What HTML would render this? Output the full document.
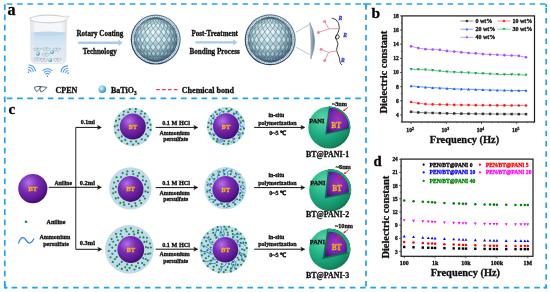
<!DOCTYPE html>
<html><head><meta charset="utf-8"><style>
html,body{margin:0;padding:0;background:#fff;width:550px;height:293px;overflow:hidden}
svg{display:block;will-change:transform}
text{font-family:"Liberation Serif",serif;font-weight:bold}
</style></head><body>
<svg width="550" height="293" viewBox="0 0 550 293">
<defs>
<linearGradient id="gglass" x1="0" y1="0" x2="1" y2="0"><stop offset="0" stop-color="#e2e5e8"/><stop offset="0.12" stop-color="#f4f5f6"/><stop offset="0.85" stop-color="#f6f7f8"/><stop offset="1" stop-color="#e0e3e6"/></linearGradient>
<linearGradient id="gliq" x1="0" y1="0" x2="0" y2="1"><stop offset="0" stop-color="#c8def0"/><stop offset="0.45" stop-color="#d8e7f3"/><stop offset="1" stop-color="#e4ecf3"/></linearGradient>
<linearGradient id="glens" x1="0" y1="0" x2="1" y2="0"><stop offset="0" stop-color="#c9d3dd"/><stop offset="0.5" stop-color="#8ea3b7"/><stop offset="1" stop-color="#5d7893"/></linearGradient>
<linearGradient id="grim" x1="0.8" y1="0.1" x2="0.2" y2="0.9"><stop offset="0" stop-color="#6683a0"/><stop offset="1" stop-color="#1f3d62"/></linearGradient>
<radialGradient id="gball" cx="0.38" cy="0.35" r="0.7"><stop offset="0" stop-color="#e6f7fb"/><stop offset="0.45" stop-color="#7fcbe0"/><stop offset="1" stop-color="#2b88a8"/></radialGradient>
<radialGradient id="gmesh" cx="0.45" cy="0.33" r="0.75"><stop offset="0" stop-color="#dcf0f4"/><stop offset="0.45" stop-color="#a0c4ce"/><stop offset="1" stop-color="#5f8294"/></radialGradient>
<radialGradient id="gshade" cx="0.44" cy="0.4" r="0.62"><stop offset="0.55" stop-color="#2c4a66" stop-opacity="0"/><stop offset="0.85" stop-color="#2c4a66" stop-opacity="0.3"/><stop offset="1" stop-color="#2c4a66" stop-opacity="0.6"/></radialGradient>
<pattern id="pmesh" width="6" height="6" patternUnits="userSpaceOnUse" patternTransform="rotate(0)"><path d="M3 0 L6 3 L3 6 L0 3 Z" fill="none" stroke="#4f7488" stroke-width="0.6"/><path d="M3 1.5 L4.5 3 L3 4.5 L1.5 3Z" fill="#7fa3b5" opacity="0.5"/></pattern>
<radialGradient id="gpurple" cx="0.36" cy="0.3" r="0.75"><stop offset="0" stop-color="#b372e6"/><stop offset="0.4" stop-color="#7a2db6"/><stop offset="0.8" stop-color="#5a168f"/><stop offset="1" stop-color="#3c0a64"/></radialGradient>
<radialGradient id="gpurple2" cx="0.5" cy="0.45" r="0.65"><stop offset="0" stop-color="#9238cc"/><stop offset="0.6" stop-color="#7523b0"/><stop offset="1" stop-color="#4a0c7a"/></radialGradient>
<radialGradient id="ggreen" cx="0.36" cy="0.3" r="0.78"><stop offset="0" stop-color="#5fd9ae"/><stop offset="0.45" stop-color="#22b386"/><stop offset="0.85" stop-color="#138a63"/><stop offset="1" stop-color="#0a6448"/></radialGradient>
</defs>
<rect width="550" height="293" fill="#fff"/>
<path d="M4.8 4.0 H546.2" stroke="#1ca6ea" stroke-width="1.7" fill="none" stroke-dasharray="5.6 4.65" stroke-dashoffset="8.25"/>
<path d="M4.8 3.8 V287.6" stroke="#1ca6ea" stroke-width="1.7" fill="none" stroke-dasharray="5.6 4.65" stroke-dashoffset="9.75"/>
<path d="M366 3.8 V287.6" stroke="#1ca6ea" stroke-width="1.7" fill="none" stroke-dasharray="5.6 4.65" stroke-dashoffset="9.85"/>
<path d="M546.2 3.8 V287.6" stroke="#1ca6ea" stroke-width="1.7" fill="none" stroke-dasharray="5.6 4.65" stroke-dashoffset="6.35"/>
<path d="M4.8 98.4 H366" stroke="#1ca6ea" stroke-width="1.7" fill="none" stroke-dasharray="5.6 4.65" stroke-dashoffset="8.25"/>
<path d="M4.8 287.6 H546.2" stroke="#1ca6ea" stroke-width="1.7" fill="none" stroke-dasharray="5.6 4.65" stroke-dashoffset="3.45"/>
<path d="M4.8 284 V287.6 H7.5 M546.2 284.5 V287.6 H543.5 M363 4 H366 V7 M546.2 4 V7" stroke="#1ca6ea" stroke-width="1.7" fill="none"/>
<text x="7.40" y="15.30" font-size="16" text-anchor="start" fill="#000" stroke="#000" stroke-width="0.3" >a</text>
<text x="371.40" y="18.40" font-size="15.5" text-anchor="start" fill="#000" stroke="#000" stroke-width="0.3" >b</text>
<text x="8.40" y="113.70" font-size="15" text-anchor="start" fill="#000" stroke="#000" stroke-width="0.3" >c</text>
<text x="373.40" y="166.20" font-size="14.6" text-anchor="start" fill="#000" stroke="#000" stroke-width="0.3" >d</text>
<g>
<path d="M30.6 17.5 L31.0 59 Q31.3 63.6 35.8 63.6 L61.2 63.6 Q65.7 63.6 65.9 59 L66.4 17.5 Z" fill="url(#gglass)" stroke="#d3d7db" stroke-width="0.6"/>
<path d="M31.3 32.5 L31.6 59 Q31.9 62.6 35.8 62.6 L61.2 62.6 Q65.1 62.6 65.3 59 L65.7 32.5 Z" fill="url(#gliq)"/>
<ellipse cx="48.5" cy="33.6" rx="17.0" ry="2.2" fill="#bcd7ee"/>
<ellipse cx="48.6" cy="19.0" rx="18.4" ry="3.9" fill="#fbfbfc" stroke="#cdd2d6" stroke-width="1.2"/>
<path d="M64.5 16.2 Q67.5 15.8 69.2 16.4 Q67.8 18.4 66.2 20.2" fill="#f3f4f5" stroke="#cfd3d7" stroke-width="0.7"/>
<path d="M33 22 L33.3 58" stroke="#e6e9ec" stroke-width="1.2"/>
</g>
<g transform="translate(37.5,49.8) scale(0.62)" fill="none" stroke="#a6aeb6" stroke-width="0.9" stroke-linejoin="round"><path d="M-6.0 -1.9 Q-2.6 -3.2 0.8 -2.7 Q-0.6 0.2 -3.8 2.5 Q-5.6 0.2 -6.0 -1.9Z"/><path d="M-0.4 -2.4 Q3.2 -2.6 6.4 -1.8 Q4.2 1.2 0.6 2.9 Q-1.0 1.0 -0.4 -2.4Z"/></g>
<g transform="translate(46.5,49.5) scale(0.62)" fill="none" stroke="#a6aeb6" stroke-width="0.9" stroke-linejoin="round"><path d="M-6.0 -1.9 Q-2.6 -3.2 0.8 -2.7 Q-0.6 0.2 -3.8 2.5 Q-5.6 0.2 -6.0 -1.9Z"/><path d="M-0.4 -2.4 Q3.2 -2.6 6.4 -1.8 Q4.2 1.2 0.6 2.9 Q-1.0 1.0 -0.4 -2.4Z"/></g>
<g transform="translate(57,49.8) scale(0.62)" fill="none" stroke="#a6aeb6" stroke-width="0.9" stroke-linejoin="round"><path d="M-6.0 -1.9 Q-2.6 -3.2 0.8 -2.7 Q-0.6 0.2 -3.8 2.5 Q-5.6 0.2 -6.0 -1.9Z"/><path d="M-0.4 -2.4 Q3.2 -2.6 6.4 -1.8 Q4.2 1.2 0.6 2.9 Q-1.0 1.0 -0.4 -2.4Z"/></g>
<g transform="translate(46,55) scale(0.62)" fill="none" stroke="#a6aeb6" stroke-width="0.9" stroke-linejoin="round"><path d="M-6.0 -1.9 Q-2.6 -3.2 0.8 -2.7 Q-0.6 0.2 -3.8 2.5 Q-5.6 0.2 -6.0 -1.9Z"/><path d="M-0.4 -2.4 Q3.2 -2.6 6.4 -1.8 Q4.2 1.2 0.6 2.9 Q-1.0 1.0 -0.4 -2.4Z"/></g>
<g transform="translate(37.5,59.5) scale(0.62)" fill="none" stroke="#a6aeb6" stroke-width="0.9" stroke-linejoin="round"><path d="M-6.0 -1.9 Q-2.6 -3.2 0.8 -2.7 Q-0.6 0.2 -3.8 2.5 Q-5.6 0.2 -6.0 -1.9Z"/><path d="M-0.4 -2.4 Q3.2 -2.6 6.4 -1.8 Q4.2 1.2 0.6 2.9 Q-1.0 1.0 -0.4 -2.4Z"/></g>
<g transform="translate(57.5,60) scale(0.62)" fill="none" stroke="#a6aeb6" stroke-width="0.9" stroke-linejoin="round"><path d="M-6.0 -1.9 Q-2.6 -3.2 0.8 -2.7 Q-0.6 0.2 -3.8 2.5 Q-5.6 0.2 -6.0 -1.9Z"/><path d="M-0.4 -2.4 Q3.2 -2.6 6.4 -1.8 Q4.2 1.2 0.6 2.9 Q-1.0 1.0 -0.4 -2.4Z"/></g>
<g transform="translate(44,60.3) scale(0.62)" fill="none" stroke="#a6aeb6" stroke-width="0.9" stroke-linejoin="round"><path d="M-6.0 -1.9 Q-2.6 -3.2 0.8 -2.7 Q-0.6 0.2 -3.8 2.5 Q-5.6 0.2 -6.0 -1.9Z"/><path d="M-0.4 -2.4 Q3.2 -2.6 6.4 -1.8 Q4.2 1.2 0.6 2.9 Q-1.0 1.0 -0.4 -2.4Z"/></g>
<circle cx="37.9" cy="53.8" r="1.95" fill="url(#gball)"/>
<circle cx="52.0" cy="51.9" r="1.95" fill="url(#gball)"/>
<circle cx="50.2" cy="60.1" r="1.95" fill="url(#gball)"/>
<g transform="translate(28.4,72.2) rotate(42)" fill="none" stroke="#5a9de4" stroke-width="1.1" stroke-linecap="round"><path d="M-1.60 -2.05 A2.6 2.6 0 0 1 1.60 -2.05"/><path d="M-3.02 -3.86 A4.9 4.9 0 0 1 3.02 -3.86"/><path d="M-4.43 -5.67 A7.2 7.2 0 0 1 4.43 -5.67"/><circle cx="0" cy="0" r="0.8" fill="#4a92e0" stroke="none"/></g>
<g transform="translate(47.4,76.1) rotate(0)" fill="none" stroke="#5a9de4" stroke-width="1.1" stroke-linecap="round"><path d="M-1.60 -2.05 A2.6 2.6 0 0 1 1.60 -2.05"/><path d="M-3.02 -3.86 A4.9 4.9 0 0 1 3.02 -3.86"/><path d="M-4.43 -5.67 A7.2 7.2 0 0 1 4.43 -5.67"/><circle cx="0" cy="0" r="0.8" fill="#4a92e0" stroke="none"/></g>
<g transform="translate(68.1,73.1) rotate(-42)" fill="none" stroke="#5a9de4" stroke-width="1.1" stroke-linecap="round"><path d="M-1.60 -2.05 A2.6 2.6 0 0 1 1.60 -2.05"/><path d="M-3.02 -3.86 A4.9 4.9 0 0 1 3.02 -3.86"/><path d="M-4.43 -5.67 A7.2 7.2 0 0 1 4.43 -5.67"/><circle cx="0" cy="0" r="0.8" fill="#4a92e0" stroke="none"/></g>
<path d="M78.2 42.7 H118.9" stroke="#a8cbeb" stroke-width="2.4"/>
<path d="M118.4 39.5 L122.7 42.7 L118.4 45.900000000000006 Z" fill="#a8cbeb"/>
<path d="M195.4 42.4 H233.6" stroke="#a8cbeb" stroke-width="2.4"/>
<path d="M233.1 39.199999999999996 L237.4 42.4 L233.1 45.6 Z" fill="#a8cbeb"/>
<text x="76.40" y="35.80" font-size="7.2" textLength="46.90" lengthAdjust="spacingAndGlyphs" fill="#111" stroke="#111" stroke-width="0.3" >Rotary Coating</text>
<text x="82.80" y="53.50" font-size="7.2" textLength="33.90" lengthAdjust="spacingAndGlyphs" fill="#111" stroke="#111" stroke-width="0.3" >Technology</text>
<text x="191.40" y="36.20" font-size="7.2" textLength="46.50" lengthAdjust="spacingAndGlyphs" fill="#111" stroke="#111" stroke-width="0.3" >Post-Treatment</text>
<text x="189.50" y="53.80" font-size="7.3" textLength="50.20" lengthAdjust="spacingAndGlyphs" fill="#111" stroke="#111" stroke-width="0.3" >Bonding Process</text>
<circle cx="155.7" cy="39.6" r="25.0" fill="url(#grim)"/>
<circle cx="155.7" cy="39.6" r="23.8" fill="#e2e9ee"/>
<circle cx="155.7" cy="39.6" r="22.7" fill="none" stroke="#8a9fb0" stroke-width="1.2" stroke-dasharray="0.9 0.9"/>
<circle cx="155.7" cy="39.6" r="21.6" fill="url(#gmesh)"/>
<path d="M152.9 61.0 L151.0 60.7 L149.1 60.2 L151.0 60.7 L153.0 61.0 L154.8 61.2 L155.7 61.2 L154.8 61.2ZM145.5 58.7 L143.9 57.7 L142.3 56.5 L144.0 57.7 L145.8 58.7 L147.4 59.5 L149.1 60.2 L147.3 59.5ZM153.0 61.0 L151.2 60.7 L149.5 60.2 L151.4 60.7 L153.2 61.0 L154.9 61.2 L155.7 61.2 L154.9 61.2ZM139.5 53.8 L138.2 52.3 L137.2 50.7 L138.5 52.3 L139.9 53.8 L141.0 55.2 L142.3 56.5 L140.8 55.2ZM145.8 58.7 L144.3 57.7 L143.1 56.5 L144.9 57.7 L146.7 58.7 L148.0 59.5 L149.5 60.2 L147.6 59.5ZM153.2 61.0 L151.7 60.7 L150.3 60.2 L152.1 60.7 L153.7 61.0 L155.0 61.2 L155.7 61.2 L155.0 61.2ZM135.5 47.2 L134.9 45.4 L134.5 43.5 L135.1 45.4 L136.0 47.2 L136.5 49.0 L137.2 50.7 L136.3 49.0ZM139.9 53.8 L139.0 52.3 L138.3 50.7 L139.8 52.3 L141.4 53.8 L142.1 55.2 L143.1 56.5 L141.4 55.2ZM146.7 58.7 L145.6 57.7 L144.8 56.5 L146.6 57.7 L148.3 58.7 L149.2 59.5 L150.3 60.2 L148.6 59.5ZM153.7 61.0 L152.5 60.7 L151.6 60.2 L153.0 60.7 L154.3 61.0 L155.2 61.2 L155.7 61.2 L155.1 61.2ZM134.1 39.6 L134.2 37.7 L134.5 35.7 L134.4 37.7 L134.6 39.6 L134.4 41.5 L134.5 43.5 L134.2 41.5ZM136.0 47.2 L135.7 45.4 L135.8 43.5 L136.7 45.4 L137.9 47.2 L138.0 49.0 L138.3 50.7 L137.1 49.0ZM141.4 53.8 L140.9 52.3 L140.7 50.7 L142.3 52.3 L143.9 53.8 L144.2 55.2 L144.8 56.5 L143.1 55.2ZM148.3 58.7 L147.7 57.7 L147.3 56.5 L148.9 57.7 L150.5 58.7 L150.9 59.5 L151.6 60.2 L150.0 59.5ZM154.3 61.0 L153.5 60.7 L153.1 60.2 L154.1 60.7 L154.9 61.0 L155.4 61.2 L155.7 61.2 L155.3 61.2ZM135.5 32.0 L136.3 30.2 L137.2 28.5 L136.5 30.2 L136.0 32.0 L135.1 33.8 L134.5 35.7 L134.9 33.8ZM134.6 39.6 L135.1 37.7 L135.8 35.7 L136.1 37.7 L136.6 39.6 L136.1 41.5 L135.8 43.5 L135.1 41.5ZM137.9 47.2 L138.0 45.4 L138.5 43.5 L139.7 45.4 L141.1 47.2 L140.7 49.0 L140.7 50.7 L139.2 49.0ZM143.9 53.8 L143.9 52.3 L144.1 50.7 L145.7 52.3 L147.4 53.8 L147.2 55.2 L147.3 56.5 L145.6 55.2ZM150.5 58.7 L150.3 57.7 L150.4 56.5 L151.8 57.7 L153.0 58.7 L152.9 59.5 L153.1 60.2 L151.9 59.5ZM154.9 61.0 L154.7 60.7 L154.8 60.2 L155.4 60.7 L155.7 61.0 L155.6 61.2 L155.7 61.2 L155.5 61.2ZM139.5 25.4 L140.8 24.0 L142.3 22.7 L141.0 24.0 L139.9 25.4 L138.5 26.9 L137.2 28.5 L138.2 26.9ZM136.0 32.0 L137.1 30.2 L138.3 28.5 L138.0 30.2 L137.9 32.0 L136.7 33.8 L135.8 35.7 L135.7 33.8ZM136.6 39.6 L137.5 37.7 L138.5 35.7 L139.2 37.7 L140.1 39.6 L139.2 41.5 L138.5 43.5 L137.5 41.5ZM141.1 47.2 L141.6 45.4 L142.4 43.5 L143.8 45.4 L145.3 47.2 L144.6 49.0 L144.1 50.7 L142.5 49.0ZM147.4 53.8 L147.8 52.3 L148.4 50.7 L149.9 52.3 L151.4 53.8 L150.8 55.2 L150.4 56.5 L148.9 55.2ZM153.0 58.7 L153.3 57.7 L153.9 56.5 L154.9 57.7 L155.7 58.7 L155.1 59.5 L154.8 60.2 L154.0 59.5ZM155.7 61.0 L156.0 60.7 L156.6 60.2 L156.7 60.7 L156.5 61.0 L155.9 61.2 L155.7 61.2 L155.8 61.2ZM145.5 20.5 L147.3 19.7 L149.1 19.0 L147.4 19.7 L145.8 20.5 L144.0 21.5 L142.3 22.7 L143.9 21.5ZM139.9 25.4 L141.4 24.0 L143.1 22.7 L142.1 24.0 L141.4 25.4 L139.8 26.9 L138.3 28.5 L139.0 26.9ZM137.9 32.0 L139.2 30.2 L140.7 28.5 L140.7 30.2 L141.1 32.0 L139.7 33.8 L138.5 35.7 L138.0 33.8ZM140.1 39.6 L141.2 37.7 L142.4 35.7 L143.4 37.7 L144.6 39.6 L143.4 41.5 L142.4 43.5 L141.2 41.5ZM145.3 47.2 L146.2 45.4 L147.3 43.5 L148.8 45.4 L150.3 47.2 L149.3 49.0 L148.4 50.7 L146.8 49.0ZM151.4 53.8 L152.2 52.3 L153.2 50.7 L154.5 52.3 L155.7 53.8 L154.7 55.2 L153.9 56.5 L152.7 55.2ZM155.7 58.7 L156.5 57.7 L157.5 56.5 L158.1 57.7 L158.4 58.7 L157.4 59.5 L156.6 60.2 L156.3 59.5ZM156.5 61.0 L157.3 60.7 L158.3 60.2 L157.9 60.7 L157.1 61.0 L156.1 61.2 L155.7 61.2 L156.0 61.2ZM152.9 18.2 L154.8 18.0 L155.7 18.0 L154.8 18.0 L153.0 18.2 L151.0 18.5 L149.1 19.0 L151.0 18.5ZM145.8 20.5 L147.6 19.7 L149.5 19.0 L148.0 19.7 L146.7 20.5 L144.9 21.5 L143.1 22.7 L144.3 21.5ZM141.4 25.4 L143.1 24.0 L144.8 22.7 L144.2 24.0 L143.9 25.4 L142.3 26.9 L140.7 28.5 L140.9 26.9ZM141.1 32.0 L142.5 30.2 L144.1 28.5 L144.6 30.2 L145.3 32.0 L143.8 33.8 L142.4 35.7 L141.6 33.8ZM144.6 39.6 L145.9 37.7 L147.3 35.7 L148.6 37.7 L149.9 39.6 L148.6 41.5 L147.3 43.5 L145.9 41.5ZM150.3 47.2 L151.5 45.4 L152.8 43.5 L154.3 45.4 L155.7 47.2 L154.4 49.0 L153.2 50.7 L151.8 49.0ZM155.7 53.8 L156.9 52.3 L158.2 50.7 L159.2 52.3 L160.0 53.8 L158.7 55.2 L157.5 56.5 L156.7 55.2ZM158.4 58.7 L159.6 57.7 L161.0 56.5 L161.1 57.7 L160.9 58.7 L159.5 59.5 L158.3 60.2 L158.5 59.5ZM157.1 61.0 L158.4 60.7 L159.8 60.2 L158.9 60.7 L157.7 61.0 L156.3 61.2 L155.7 61.2 L156.2 61.2ZM153.0 18.2 L154.9 18.0 L155.7 18.0 L154.9 18.0 L153.2 18.2 L151.4 18.5 L149.5 19.0 L151.2 18.5ZM146.7 20.5 L148.6 19.7 L150.3 19.0 L149.2 19.7 L148.3 20.5 L146.6 21.5 L144.8 22.7 L145.6 21.5ZM143.9 25.4 L145.6 24.0 L147.3 22.7 L147.2 24.0 L147.4 25.4 L145.7 26.9 L144.1 28.5 L143.9 26.9ZM145.3 32.0 L146.8 30.2 L148.4 28.5 L149.3 30.2 L150.3 32.0 L148.8 33.8 L147.3 35.7 L146.2 33.8ZM149.9 39.6 L151.4 37.7 L152.8 35.7 L154.2 37.7 L155.7 39.6 L154.2 41.5 L152.8 43.5 L151.4 41.5ZM155.7 47.2 L157.1 45.4 L158.6 43.5 L159.9 45.4 L161.1 47.2 L159.6 49.0 L158.2 50.7 L157.0 49.0ZM160.0 53.8 L161.5 52.3 L163.0 50.7 L163.6 52.3 L164.0 53.8 L162.5 55.2 L161.0 56.5 L160.6 55.2ZM160.9 58.7 L162.5 57.7 L164.1 56.5 L163.7 57.7 L163.1 58.7 L161.4 59.5 L159.8 60.2 L160.5 59.5ZM157.7 61.0 L159.3 60.7 L161.1 60.2 L159.7 60.7 L158.2 61.0 L156.4 61.2 L155.7 61.2 L156.4 61.2ZM153.2 18.2 L155.0 18.0 L155.7 18.0 L155.0 18.0 L153.7 18.2 L152.1 18.5 L150.3 19.0 L151.7 18.5ZM148.3 20.5 L150.0 19.7 L151.6 19.0 L150.9 19.7 L150.5 20.5 L148.9 21.5 L147.3 22.7 L147.7 21.5ZM147.4 25.4 L148.9 24.0 L150.4 22.7 L150.8 24.0 L151.4 25.4 L149.9 26.9 L148.4 28.5 L147.8 26.9ZM150.3 32.0 L151.8 30.2 L153.2 28.5 L154.4 30.2 L155.7 32.0 L154.3 33.8 L152.8 35.7 L151.5 33.8ZM155.7 39.6 L157.2 37.7 L158.6 35.7 L160.0 37.7 L161.5 39.6 L160.0 41.5 L158.6 43.5 L157.2 41.5ZM161.1 47.2 L162.6 45.4 L164.1 43.5 L165.2 45.4 L166.1 47.2 L164.6 49.0 L163.0 50.7 L162.1 49.0ZM164.0 53.8 L165.7 52.3 L167.3 50.7 L167.5 52.3 L167.5 53.8 L165.8 55.2 L164.1 56.5 L164.2 55.2ZM163.1 58.7 L164.8 57.7 L166.6 56.5 L165.8 57.7 L164.7 58.7 L162.8 59.5 L161.1 60.2 L162.2 59.5ZM158.2 61.0 L160.0 60.7 L161.9 60.2 L160.2 60.7 L158.4 61.0 L156.5 61.2 L155.7 61.2 L156.5 61.2ZM153.7 18.2 L155.1 18.0 L155.7 18.0 L155.2 18.0 L154.3 18.2 L153.0 18.5 L151.6 19.0 L152.5 18.5ZM150.5 20.5 L151.9 19.7 L153.1 19.0 L152.9 19.7 L153.0 20.5 L151.8 21.5 L150.4 22.7 L150.3 21.5ZM151.4 25.4 L152.7 24.0 L153.9 22.7 L154.7 24.0 L155.7 25.4 L154.5 26.9 L153.2 28.5 L152.2 26.9ZM155.7 32.0 L157.0 30.2 L158.2 28.5 L159.6 30.2 L161.1 32.0 L159.9 33.8 L158.6 35.7 L157.1 33.8ZM161.5 39.6 L162.8 37.7 L164.1 35.7 L165.5 37.7 L166.8 39.6 L165.5 41.5 L164.1 43.5 L162.8 41.5ZM166.1 47.2 L167.6 45.4 L169.0 43.5 L169.8 45.4 L170.3 47.2 L168.9 49.0 L167.3 50.7 L166.8 49.0ZM167.5 53.8 L169.1 52.3 L170.7 50.7 L170.5 52.3 L170.0 53.8 L168.3 55.2 L166.6 56.5 L167.2 55.2ZM164.7 58.7 L166.5 57.7 L168.3 56.5 L167.1 57.7 L165.6 58.7 L163.8 59.5 L161.9 60.2 L163.4 59.5ZM158.4 61.0 L160.4 60.7 L162.3 60.2 L160.4 60.7 L158.5 61.0 L156.6 61.2 L155.7 61.2 L156.6 61.2ZM154.3 18.2 L155.3 18.0 L155.7 18.0 L155.4 18.0 L154.9 18.2 L154.1 18.5 L153.1 19.0 L153.5 18.5ZM153.0 20.5 L154.0 19.7 L154.8 19.0 L155.1 19.7 L155.7 20.5 L154.9 21.5 L153.9 22.7 L153.3 21.5ZM155.7 25.4 L156.7 24.0 L157.5 22.7 L158.7 24.0 L160.0 25.4 L159.2 26.9 L158.2 28.5 L156.9 26.9ZM161.1 32.0 L162.1 30.2 L163.0 28.5 L164.6 30.2 L166.1 32.0 L165.2 33.8 L164.1 35.7 L162.6 33.8ZM166.8 39.6 L168.0 37.7 L169.0 35.7 L170.2 37.7 L171.3 39.6 L170.2 41.5 L169.0 43.5 L168.0 41.5ZM170.3 47.2 L171.7 45.4 L172.9 43.5 L173.4 45.4 L173.5 47.2 L172.2 49.0 L170.7 50.7 L170.7 49.0ZM170.0 53.8 L171.6 52.3 L173.1 50.7 L172.4 52.3 L171.5 53.8 L170.0 55.2 L168.3 56.5 L169.3 55.2ZM165.6 58.7 L167.4 57.7 L169.1 56.5 L167.5 57.7 L165.9 58.7 L164.1 59.5 L162.3 60.2 L164.0 59.5ZM154.9 18.2 L155.5 18.0 L155.7 18.0 L155.6 18.0 L155.7 18.2 L155.4 18.5 L154.8 19.0 L154.7 18.5ZM155.7 20.5 L156.3 19.7 L156.6 19.0 L157.4 19.7 L158.4 20.5 L158.1 21.5 L157.5 22.7 L156.5 21.5ZM160.0 25.4 L160.6 24.0 L161.0 22.7 L162.5 24.0 L164.0 25.4 L163.6 26.9 L163.0 28.5 L161.5 26.9ZM166.1 32.0 L166.8 30.2 L167.3 28.5 L168.9 30.2 L170.3 32.0 L169.8 33.8 L169.0 35.7 L167.6 33.8ZM171.3 39.6 L172.2 37.7 L172.9 35.7 L173.9 37.7 L174.8 39.6 L173.9 41.5 L172.9 43.5 L172.2 41.5ZM173.5 47.2 L174.7 45.4 L175.6 43.5 L175.7 45.4 L175.4 47.2 L174.3 49.0 L173.1 50.7 L173.4 49.0ZM171.5 53.8 L172.9 52.3 L174.2 50.7 L173.2 52.3 L171.9 53.8 L170.6 55.2 L169.1 56.5 L170.4 55.2ZM155.7 18.2 L155.8 18.0 L155.7 18.0 L155.9 18.0 L156.5 18.2 L156.7 18.5 L156.6 19.0 L156.0 18.5ZM158.4 20.5 L158.5 19.7 L158.3 19.0 L159.5 19.7 L160.9 20.5 L161.1 21.5 L161.0 22.7 L159.6 21.5ZM164.0 25.4 L164.2 24.0 L164.1 22.7 L165.8 24.0 L167.5 25.4 L167.5 26.9 L167.3 28.5 L165.7 26.9ZM170.3 32.0 L170.7 30.2 L170.7 28.5 L172.2 30.2 L173.5 32.0 L173.4 33.8 L172.9 35.7 L171.7 33.8ZM174.8 39.6 L175.3 37.7 L175.6 35.7 L176.3 37.7 L176.8 39.6 L176.3 41.5 L175.6 43.5 L175.3 41.5ZM175.4 47.2 L176.3 45.4 L176.9 43.5 L176.5 45.4 L175.9 47.2 L175.1 49.0 L174.2 50.7 L174.9 49.0ZM156.5 18.2 L156.0 18.0 L155.7 18.0 L156.1 18.0 L157.1 18.2 L157.9 18.5 L158.3 19.0 L157.3 18.5ZM160.9 20.5 L160.5 19.7 L159.8 19.0 L161.4 19.7 L163.1 20.5 L163.7 21.5 L164.1 22.7 L162.5 21.5ZM167.5 25.4 L167.2 24.0 L166.6 22.7 L168.3 24.0 L170.0 25.4 L170.5 26.9 L170.7 28.5 L169.1 26.9ZM173.5 32.0 L173.4 30.2 L173.1 28.5 L174.3 30.2 L175.4 32.0 L175.7 33.8 L175.6 35.7 L174.7 33.8ZM176.8 39.6 L177.0 37.7 L176.9 35.7 L177.2 37.7 L177.3 39.6 L177.2 41.5 L176.9 43.5 L177.0 41.5ZM157.1 18.2 L156.2 18.0 L155.7 18.0 L156.3 18.0 L157.7 18.2 L158.9 18.5 L159.8 19.0 L158.4 18.5ZM163.1 20.5 L162.2 19.7 L161.1 19.0 L162.8 19.7 L164.7 20.5 L165.8 21.5 L166.6 22.7 L164.8 21.5ZM170.0 25.4 L169.3 24.0 L168.3 22.7 L170.0 24.0 L171.5 25.4 L172.4 26.9 L173.1 28.5 L171.6 26.9ZM175.4 32.0 L174.9 30.2 L174.2 28.5 L175.1 30.2 L175.9 32.0 L176.5 33.8 L176.9 35.7 L176.3 33.8ZM157.7 18.2 L156.4 18.0 L155.7 18.0 L156.4 18.0 L158.2 18.2 L159.7 18.5 L161.1 19.0 L159.3 18.5ZM164.7 20.5 L163.4 19.7 L161.9 19.0 L163.8 19.7 L165.6 20.5 L167.1 21.5 L168.3 22.7 L166.5 21.5ZM171.5 25.4 L170.4 24.0 L169.1 22.7 L170.6 24.0 L171.9 25.4 L173.2 26.9 L174.2 28.5 L172.9 26.9ZM158.2 18.2 L156.5 18.0 L155.7 18.0 L156.5 18.0 L158.4 18.2 L160.2 18.5 L161.9 19.0 L160.0 18.5ZM165.6 20.5 L164.0 19.7 L162.3 19.0 L164.1 19.7 L165.9 20.5 L167.5 21.5 L169.1 22.7 L167.4 21.5ZM158.4 18.2 L156.6 18.0 L155.7 18.0 L156.6 18.0 L158.5 18.2 L160.4 18.5 L162.3 19.0 L160.4 18.5Z" fill="#ffffff" opacity="0.5"/>
<path d="M155.3 61.2 L154.2 61.1 L153.2 61.0 L152.1 60.9 L151.0 60.7 L150.0 60.4 L148.9 60.1 L147.9 59.7 L146.9 59.3 M155.3 61.2 L154.4 61.1 L153.4 61.0 L152.4 60.9 L151.4 60.7 L150.3 60.4 L149.3 60.1 L148.2 59.7 L147.2 59.3 L146.2 58.9 L145.2 58.3 L144.2 57.8 L143.2 57.2 L142.3 56.5 L141.5 55.8 L140.7 55.1 M155.4 61.2 L154.6 61.1 L153.8 61.0 L153.0 60.9 L152.1 60.7 L151.1 60.4 L150.1 60.1 L149.2 59.7 L148.1 59.3 L147.1 58.9 L146.1 58.3 L145.1 57.8 L144.1 57.2 L143.1 56.5 L142.2 55.8 L141.2 55.1 L140.4 54.3 L139.5 53.5 L138.7 52.7 L138.0 51.8 L137.4 50.9 L136.8 50.0 L136.3 49.0 M155.5 61.2 L155.0 61.1 L154.4 61.0 L153.7 60.9 L153.0 60.7 L152.2 60.4 L151.4 60.1 L150.5 59.7 L149.6 59.3 L148.7 58.9 L147.8 58.3 L146.8 57.8 L145.8 57.2 L144.8 56.5 L143.8 55.8 L142.9 55.1 L141.9 54.3 L141.0 53.5 L140.1 52.7 L139.3 51.8 L138.5 50.9 L137.7 50.0 L137.1 49.0 L136.4 48.0 L135.9 47.0 L135.4 46.0 L135.0 44.9 L134.6 43.9 L134.4 42.8 L134.2 41.8 M155.6 61.2 L155.4 61.1 L155.0 61.0 L154.6 60.9 L154.1 60.7 L153.6 60.4 L153.0 60.1 L152.3 59.7 L151.6 59.3 L150.8 58.9 L150.0 58.3 L149.1 57.8 L148.2 57.2 L147.3 56.5 L146.4 55.8 L145.4 55.1 L144.5 54.3 L143.6 53.5 L142.6 52.7 L141.7 51.8 L140.9 50.9 L140.0 50.0 L139.2 49.0 L138.4 48.0 L137.7 47.0 L137.1 46.0 L136.5 44.9 L136.0 43.9 L135.5 42.8 L135.1 41.8 L134.8 40.7 L134.6 39.6 L134.5 38.5 L134.4 37.4 L134.5 36.4 L134.6 35.3 L134.8 34.3 M155.7 61.2 L155.8 61.1 L155.7 61.0 L155.6 60.9 L155.4 60.7 L155.1 60.4 L154.7 60.1 L154.3 59.7 L153.8 59.3 L153.2 58.9 L152.6 58.3 L151.9 57.8 L151.2 57.2 L150.4 56.5 L149.6 55.8 L148.8 55.1 L147.9 54.3 L147.0 53.5 L146.1 52.7 L145.2 51.8 L144.3 50.9 L143.4 50.0 L142.5 49.0 L141.7 48.0 L140.9 47.0 L140.1 46.0 L139.4 44.9 L138.7 43.9 L138.1 42.8 L137.6 41.8 L137.1 40.7 L136.6 39.6 L136.3 38.5 L136.0 37.4 L135.9 36.4 L135.7 35.3 L135.7 34.3 L135.8 33.2 L135.9 32.2 L136.2 31.2 L136.5 30.2 L136.9 29.2 L137.3 28.3 L137.9 27.4 L138.5 26.5 M155.9 61.2 L156.2 61.1 L156.4 61.0 L156.6 60.9 L156.7 60.7 L156.6 60.4 L156.6 60.1 L156.4 59.7 L156.2 59.3 L155.8 58.9 L155.5 58.3 L155.0 57.8 L154.5 57.2 L153.9 56.5 L153.3 55.8 L152.6 55.1 L151.8 54.3 L151.1 53.5 L150.3 52.7 L149.4 51.8 L148.6 50.9 L147.7 50.0 L146.8 49.0 L146.0 48.0 L145.1 47.0 L144.3 46.0 L143.5 44.9 L142.7 43.9 L142.0 42.8 L141.3 41.8 L140.6 40.7 L140.1 39.6 L139.5 38.5 L139.1 37.4 L138.7 36.4 L138.4 35.3 L138.1 34.3 L138.0 33.2 L137.9 32.2 L137.9 31.2 L138.0 30.2 L138.1 29.2 L138.4 28.3 L138.7 27.4 L139.1 26.5 L139.6 25.7 L140.2 24.9 L140.8 24.1 L141.6 23.4 L142.3 22.7 L143.2 22.0 L144.0 21.4 M156.0 61.2 L156.5 61.1 L157.1 61.0 L157.5 60.9 L157.9 60.7 L158.1 60.4 L158.3 60.1 L158.5 59.7 L158.5 59.3 L158.5 58.9 L158.3 58.3 L158.1 57.8 L157.9 57.2 L157.5 56.5 L157.1 55.8 L156.6 55.1 L156.1 54.3 L155.5 53.5 L154.8 52.7 L154.1 51.8 L153.4 50.9 L152.6 50.0 L151.8 49.0 L151.0 48.0 L150.1 47.0 L149.3 46.0 L148.5 44.9 L147.7 43.9 L146.8 42.8 L146.1 41.8 L145.3 40.7 L144.6 39.6 L143.9 38.5 L143.3 37.4 L142.7 36.4 L142.2 35.3 L141.8 34.3 L141.4 33.2 L141.1 32.2 L140.9 31.2 L140.7 30.2 L140.7 29.2 L140.7 28.3 L140.8 27.4 L141.0 26.5 L141.2 25.7 L141.6 24.9 L142.0 24.1 L142.5 23.4 L143.1 22.7 L143.8 22.0 L144.5 21.4 L145.3 20.9 L146.1 20.3 L147.0 19.9 L147.9 19.5 L148.9 19.1 L149.9 18.8 L151.0 18.5 M156.0 61.2 L156.9 61.1 L157.6 61.0 L158.3 60.9 L158.9 60.7 L159.4 60.4 L159.9 60.1 L160.3 59.7 L160.6 59.3 L160.9 58.9 L161.0 58.3 L161.1 57.8 L161.1 57.2 L161.0 56.5 L160.8 55.8 L160.6 55.1 L160.3 54.3 L159.9 53.5 L159.4 52.7 L158.9 51.8 L158.3 50.9 L157.7 50.0 L157.0 49.0 L156.3 48.0 L155.5 47.0 L154.8 46.0 L154.0 44.9 L153.2 43.9 L152.4 42.8 L151.5 41.8 L150.7 40.7 L149.9 39.6 L149.2 38.5 L148.4 37.4 L147.7 36.4 L147.1 35.3 L146.5 34.3 L145.9 33.2 L145.4 32.2 L145.0 31.2 L144.6 30.2 L144.3 29.2 L144.1 28.3 L143.9 27.4 L143.9 26.5 L143.9 25.7 L144.0 24.9 L144.2 24.1 L144.5 23.4 L144.8 22.7 L145.2 22.0 L145.8 21.4 L146.3 20.9 L147.0 20.3 L147.7 19.9 L148.5 19.5 L149.3 19.1 L150.2 18.8 L151.2 18.5 L152.1 18.3 L153.2 18.2 L154.2 18.1 L155.3 18.0 M156.1 61.2 L157.1 61.1 L158.0 61.0 L158.9 60.9 L159.7 60.7 L160.5 60.4 L161.2 60.1 L161.8 59.7 L162.4 59.3 L162.9 58.9 L163.3 58.3 L163.7 57.8 L163.9 57.2 L164.1 56.5 L164.2 55.8 L164.2 55.1 L164.1 54.3 L164.0 53.5 L163.8 52.7 L163.5 51.8 L163.1 50.9 L162.6 50.0 L162.1 49.0 L161.6 48.0 L161.0 47.0 L160.3 46.0 L159.6 44.9 L158.9 43.9 L158.1 42.8 L157.3 41.8 L156.5 40.7 L155.7 39.6 L154.9 38.5 L154.1 37.4 L153.3 36.4 L152.5 35.3 L151.8 34.3 L151.1 33.2 L150.4 32.2 L149.8 31.2 L149.3 30.2 L148.8 29.2 L148.3 28.3 L147.9 27.4 L147.6 26.5 L147.4 25.7 L147.3 24.9 L147.2 24.1 L147.2 23.4 L147.3 22.7 L147.5 22.0 L147.7 21.4 L148.1 20.9 L148.5 20.3 L149.0 19.9 L149.6 19.5 L150.2 19.1 L150.9 18.8 L151.7 18.5 L152.5 18.3 L153.4 18.2 L154.3 18.1 L155.3 18.0 M156.1 61.2 L157.2 61.1 L158.2 61.0 L159.3 60.9 L160.2 60.7 L161.2 60.4 L162.1 60.1 L162.9 59.7 L163.7 59.3 L164.4 58.9 L165.1 58.3 L165.6 57.8 L166.2 57.2 L166.6 56.5 L166.9 55.8 L167.2 55.1 L167.4 54.3 L167.5 53.5 L167.5 52.7 L167.5 51.8 L167.3 50.9 L167.1 50.0 L166.8 49.0 L166.4 48.0 L166.0 47.0 L165.5 46.0 L164.9 44.9 L164.3 43.9 L163.7 42.8 L163.0 41.8 L162.2 40.7 L161.5 39.6 L160.7 38.5 L159.9 37.4 L159.0 36.4 L158.2 35.3 L157.4 34.3 L156.6 33.2 L155.9 32.2 L155.1 31.2 L154.4 30.2 L153.7 29.2 L153.1 28.3 L152.5 27.4 L152.0 26.5 L151.5 25.7 L151.1 24.9 L150.8 24.1 L150.6 23.4 L150.4 22.7 L150.3 22.0 L150.3 21.4 L150.4 20.9 L150.5 20.3 L150.8 19.9 L151.1 19.5 L151.5 19.1 L152.0 18.8 L152.5 18.5 L153.1 18.3 L153.8 18.2 L154.5 18.1 L155.4 18.0 M160.4 60.7 L161.5 60.4 L162.5 60.1 L163.5 59.7 L164.4 59.3 L165.3 58.9 L166.1 58.3 L166.9 57.8 L167.6 57.2 L168.3 56.5 L168.9 55.8 L169.4 55.1 L169.8 54.3 L170.2 53.5 L170.4 52.7 L170.6 51.8 L170.7 50.9 L170.7 50.0 L170.7 49.0 L170.5 48.0 L170.3 47.0 L170.0 46.0 L169.6 44.9 L169.2 43.9 L168.7 42.8 L168.1 41.8 L167.5 40.7 L166.8 39.6 L166.1 38.5 L165.3 37.4 L164.6 36.4 L163.7 35.3 L162.9 34.3 L162.1 33.2 L161.3 32.2 L160.4 31.2 L159.6 30.2 L158.8 29.2 L158.0 28.3 L157.3 27.4 L156.6 26.5 L155.9 25.7 L155.3 24.9 L154.8 24.1 L154.3 23.4 L153.9 22.7 L153.5 22.0 L153.3 21.4 L153.1 20.9 L152.9 20.3 L152.9 19.9 L152.9 19.5 L153.1 19.1 L153.3 18.8 L153.5 18.5 L153.9 18.3 L154.3 18.2 L154.9 18.1 L155.4 18.0 M167.4 57.8 L168.2 57.2 L169.1 56.5 L169.8 55.8 L170.6 55.1 L171.2 54.3 L171.8 53.5 L172.3 52.7 L172.7 51.8 L173.0 50.9 L173.3 50.0 L173.4 49.0 L173.5 48.0 L173.5 47.0 L173.4 46.0 L173.3 44.9 L173.0 43.9 L172.7 42.8 L172.3 41.8 L171.9 40.7 L171.3 39.6 L170.8 38.5 L170.1 37.4 L169.4 36.4 L168.7 35.3 L167.9 34.3 L167.1 33.2 L166.3 32.2 L165.4 31.2 L164.6 30.2 L163.7 29.2 L162.8 28.3 L162.0 27.4 L161.1 26.5 L160.3 25.7 L159.6 24.9 L158.8 24.1 L158.1 23.4 L157.5 22.7 L156.9 22.0 L156.4 21.4 L155.9 20.9 L155.6 20.3 L155.2 19.9 L155.0 19.5 L154.8 19.1 L154.8 18.8 L154.7 18.5 L154.8 18.3 L155.0 18.2 L155.2 18.1 L155.5 18.0 M172.9 52.7 L173.5 51.8 L174.1 50.9 L174.5 50.0 L174.9 49.0 L175.2 48.0 L175.5 47.0 L175.6 46.0 L175.7 44.9 L175.7 43.9 L175.5 42.8 L175.4 41.8 L175.1 40.7 L174.8 39.6 L174.3 38.5 L173.8 37.4 L173.3 36.4 L172.7 35.3 L172.0 34.3 L171.3 33.2 L170.5 32.2 L169.7 31.2 L168.9 30.2 L168.0 29.2 L167.1 28.3 L166.2 27.4 L165.3 26.5 L164.4 25.7 L163.5 24.9 L162.6 24.1 L161.8 23.4 L161.0 22.7 L160.2 22.0 L159.5 21.4 L158.8 20.9 L158.2 20.3 L157.6 19.9 L157.1 19.5 L156.7 19.1 L156.3 18.8 L156.0 18.5 L155.8 18.3 L155.7 18.2 L155.6 18.1 L155.7 18.0 M176.6 44.9 L176.8 43.9 L176.9 42.8 L177.0 41.8 L176.9 40.7 L176.8 39.6 L176.6 38.5 L176.3 37.4 L175.9 36.4 L175.4 35.3 L174.9 34.3 L174.3 33.2 L173.7 32.2 L173.0 31.2 L172.2 30.2 L171.4 29.2 L170.5 28.3 L169.7 27.4 L168.8 26.5 L167.8 25.7 L166.9 24.9 L166.0 24.1 L165.0 23.4 L164.1 22.7 L163.2 22.0 L162.3 21.4 L161.4 20.9 L160.6 20.3 L159.8 19.9 L159.1 19.5 L158.4 19.1 L157.8 18.8 L157.3 18.5 L156.8 18.3 L156.4 18.2 L156.0 18.1 L155.8 18.0 M177.2 37.4 L177.0 36.4 L176.8 35.3 L176.4 34.3 L176.0 33.2 L175.5 32.2 L175.0 31.2 L174.3 30.2 L173.7 29.2 L172.9 28.3 L172.1 27.4 L171.3 26.5 L170.4 25.7 L169.5 24.9 L168.5 24.1 L167.6 23.4 L166.6 22.7 L165.6 22.0 L164.6 21.4 L163.6 20.9 L162.7 20.3 L161.8 19.9 L160.9 19.5 L160.0 19.1 L159.2 18.8 L158.4 18.5 L157.7 18.3 L157.0 18.2 L156.4 18.1 L155.9 18.0 M175.1 30.2 L174.6 29.2 L174.0 28.3 L173.4 27.4 L172.7 26.5 L171.9 25.7 L171.0 24.9 L170.2 24.1 L169.2 23.4 L168.3 22.7 L167.3 22.0 L166.3 21.4 L165.3 20.9 L164.3 20.3 L163.3 19.9 L162.2 19.5 L161.3 19.1 L160.3 18.8 L159.3 18.5 L158.4 18.3 L157.6 18.2 L156.8 18.1 L156.0 18.0 M170.7 24.1 L169.9 23.4 L169.1 22.7 L168.2 22.0 L167.2 21.4 L166.2 20.9 L165.2 20.3 L164.2 19.9 L163.2 19.5 L162.1 19.1 L161.1 18.8 L160.0 18.5 L159.0 18.3 L158.0 18.2 L157.0 18.1 L156.1 18.0 M164.5 19.9 L163.5 19.5 L162.5 19.1 L161.4 18.8 L160.4 18.5 L159.3 18.3 L158.2 18.2 L157.2 18.1 L156.1 18.0 M146.9 19.9 L147.9 19.5 L148.9 19.1 L150.0 18.8 L151.0 18.5 L152.1 18.3 L153.2 18.2 L154.2 18.1 L155.3 18.0 M140.7 24.1 L141.5 23.4 L142.3 22.7 L143.2 22.0 L144.2 21.4 L145.2 20.9 L146.2 20.3 L147.2 19.9 L148.2 19.5 L149.3 19.1 L150.3 18.8 L151.4 18.5 L152.4 18.3 L153.4 18.2 L154.4 18.1 L155.3 18.0 M136.3 30.2 L136.8 29.2 L137.4 28.3 L138.0 27.4 L138.7 26.5 L139.5 25.7 L140.4 24.9 L141.2 24.1 L142.2 23.4 L143.1 22.7 L144.1 22.0 L145.1 21.4 L146.1 20.9 L147.1 20.3 L148.1 19.9 L149.2 19.5 L150.1 19.1 L151.1 18.8 L152.1 18.5 L153.0 18.3 L153.8 18.2 L154.6 18.1 L155.4 18.0 M134.2 37.4 L134.4 36.4 L134.6 35.3 L135.0 34.3 L135.4 33.2 L135.9 32.2 L136.4 31.2 L137.1 30.2 L137.7 29.2 L138.5 28.3 L139.3 27.4 L140.1 26.5 L141.0 25.7 L141.9 24.9 L142.9 24.1 L143.8 23.4 L144.8 22.7 L145.8 22.0 L146.8 21.4 L147.8 20.9 L148.7 20.3 L149.6 19.9 L150.5 19.5 L151.4 19.1 L152.2 18.8 L153.0 18.5 L153.7 18.3 L154.4 18.2 L155.0 18.1 L155.5 18.0 M134.8 44.9 L134.6 43.9 L134.5 42.8 L134.4 41.8 L134.5 40.7 L134.6 39.6 L134.8 38.5 L135.1 37.4 L135.5 36.4 L136.0 35.3 L136.5 34.3 L137.1 33.2 L137.7 32.2 L138.4 31.2 L139.2 30.2 L140.0 29.2 L140.9 28.3 L141.7 27.4 L142.6 26.5 L143.6 25.7 L144.5 24.9 L145.4 24.1 L146.4 23.4 L147.3 22.7 L148.2 22.0 L149.1 21.4 L150.0 20.9 L150.8 20.3 L151.6 19.9 L152.3 19.5 L153.0 19.1 L153.6 18.8 L154.1 18.5 L154.6 18.3 L155.0 18.2 L155.4 18.1 L155.6 18.0 M138.5 52.7 L137.9 51.8 L137.3 50.9 L136.9 50.0 L136.5 49.0 L136.2 48.0 L135.9 47.0 L135.8 46.0 L135.7 44.9 L135.7 43.9 L135.9 42.8 L136.0 41.8 L136.3 40.7 L136.6 39.6 L137.1 38.5 L137.6 37.4 L138.1 36.4 L138.7 35.3 L139.4 34.3 L140.1 33.2 L140.9 32.2 L141.7 31.2 L142.5 30.2 L143.4 29.2 L144.3 28.3 L145.2 27.4 L146.1 26.5 L147.0 25.7 L147.9 24.9 L148.8 24.1 L149.6 23.4 L150.4 22.7 L151.2 22.0 L151.9 21.4 L152.6 20.9 L153.2 20.3 L153.8 19.9 L154.3 19.5 L154.7 19.1 L155.1 18.8 L155.4 18.5 L155.6 18.3 L155.7 18.2 L155.8 18.1 L155.7 18.0 M144.0 57.8 L143.2 57.2 L142.3 56.5 L141.6 55.8 L140.8 55.1 L140.2 54.3 L139.6 53.5 L139.1 52.7 L138.7 51.8 L138.4 50.9 L138.1 50.0 L138.0 49.0 L137.9 48.0 L137.9 47.0 L138.0 46.0 L138.1 44.9 L138.4 43.9 L138.7 42.8 L139.1 41.8 L139.5 40.7 L140.1 39.6 L140.6 38.5 L141.3 37.4 L142.0 36.4 L142.7 35.3 L143.5 34.3 L144.3 33.2 L145.1 32.2 L146.0 31.2 L146.8 30.2 L147.7 29.2 L148.6 28.3 L149.4 27.4 L150.3 26.5 L151.1 25.7 L151.8 24.9 L152.6 24.1 L153.3 23.4 L153.9 22.7 L154.5 22.0 L155.0 21.4 L155.5 20.9 L155.8 20.3 L156.2 19.9 L156.4 19.5 L156.6 19.1 L156.6 18.8 L156.7 18.5 L156.6 18.3 L156.4 18.2 L156.2 18.1 L155.9 18.0 M151.0 60.7 L149.9 60.4 L148.9 60.1 L147.9 59.7 L147.0 59.3 L146.1 58.9 L145.3 58.3 L144.5 57.8 L143.8 57.2 L143.1 56.5 L142.5 55.8 L142.0 55.1 L141.6 54.3 L141.2 53.5 L141.0 52.7 L140.8 51.8 L140.7 50.9 L140.7 50.0 L140.7 49.0 L140.9 48.0 L141.1 47.0 L141.4 46.0 L141.8 44.9 L142.2 43.9 L142.7 42.8 L143.3 41.8 L143.9 40.7 L144.6 39.6 L145.3 38.5 L146.1 37.4 L146.8 36.4 L147.7 35.3 L148.5 34.3 L149.3 33.2 L150.1 32.2 L151.0 31.2 L151.8 30.2 L152.6 29.2 L153.4 28.3 L154.1 27.4 L154.8 26.5 L155.5 25.7 L156.1 24.9 L156.6 24.1 L157.1 23.4 L157.5 22.7 L157.9 22.0 L158.1 21.4 L158.3 20.9 L158.5 20.3 L158.5 19.9 L158.5 19.5 L158.3 19.1 L158.1 18.8 L157.9 18.5 L157.5 18.3 L157.1 18.2 L156.5 18.1 L156.0 18.0 M155.3 61.2 L154.2 61.1 L153.2 61.0 L152.1 60.9 L151.2 60.7 L150.2 60.4 L149.3 60.1 L148.5 59.7 L147.7 59.3 L147.0 58.9 L146.3 58.3 L145.8 57.8 L145.2 57.2 L144.8 56.5 L144.5 55.8 L144.2 55.1 L144.0 54.3 L143.9 53.5 L143.9 52.7 L143.9 51.8 L144.1 50.9 L144.3 50.0 L144.6 49.0 L145.0 48.0 L145.4 47.0 L145.9 46.0 L146.5 44.9 L147.1 43.9 L147.7 42.8 L148.4 41.8 L149.2 40.7 L149.9 39.6 L150.7 38.5 L151.5 37.4 L152.4 36.4 L153.2 35.3 L154.0 34.3 L154.8 33.2 L155.5 32.2 L156.3 31.2 L157.0 30.2 L157.7 29.2 L158.3 28.3 L158.9 27.4 L159.4 26.5 L159.9 25.7 L160.3 24.9 L160.6 24.1 L160.8 23.4 L161.0 22.7 L161.1 22.0 L161.1 21.4 L161.0 20.9 L160.9 20.3 L160.6 19.9 L160.3 19.5 L159.9 19.1 L159.4 18.8 L158.9 18.5 L158.3 18.3 L157.6 18.2 L156.9 18.1 L156.0 18.0 M155.3 61.2 L154.3 61.1 L153.4 61.0 L152.5 60.9 L151.7 60.7 L150.9 60.4 L150.2 60.1 L149.6 59.7 L149.0 59.3 L148.5 58.9 L148.1 58.3 L147.7 57.8 L147.5 57.2 L147.3 56.5 L147.2 55.8 L147.2 55.1 L147.3 54.3 L147.4 53.5 L147.6 52.7 L147.9 51.8 L148.3 50.9 L148.8 50.0 L149.3 49.0 L149.8 48.0 L150.4 47.0 L151.1 46.0 L151.8 44.9 L152.5 43.9 L153.3 42.8 L154.1 41.8 L154.9 40.7 L155.7 39.6 L156.5 38.5 L157.3 37.4 L158.1 36.4 L158.9 35.3 L159.6 34.3 L160.3 33.2 L161.0 32.2 L161.6 31.2 L162.1 30.2 L162.6 29.2 L163.1 28.3 L163.5 27.4 L163.8 26.5 L164.0 25.7 L164.1 24.9 L164.2 24.1 L164.2 23.4 L164.1 22.7 L163.9 22.0 L163.7 21.4 L163.3 20.9 L162.9 20.3 L162.4 19.9 L161.8 19.5 L161.2 19.1 L160.5 18.8 L159.7 18.5 L158.9 18.3 L158.0 18.2 L157.1 18.1 L156.1 18.0 M155.4 61.2 L154.5 61.1 L153.8 61.0 L153.1 60.9 L152.5 60.7 L152.0 60.4 L151.5 60.1 L151.1 59.7 L150.8 59.3 L150.5 58.9 L150.4 58.3 L150.3 57.8 L150.3 57.2 L150.4 56.5 L150.6 55.8 L150.8 55.1 L151.1 54.3 L151.5 53.5 L152.0 52.7 L152.5 51.8 L153.1 50.9 L153.7 50.0 L154.4 49.0 L155.1 48.0 L155.9 47.0 L156.6 46.0 L157.4 44.9 L158.2 43.9 L159.0 42.8 L159.9 41.8 L160.7 40.7 L161.5 39.6 L162.2 38.5 L163.0 37.4 L163.7 36.4 L164.3 35.3 L164.9 34.3 L165.5 33.2 L166.0 32.2 L166.4 31.2 L166.8 30.2 L167.1 29.2 L167.3 28.3 L167.5 27.4 L167.5 26.5 L167.5 25.7 L167.4 24.9 L167.2 24.1 L166.9 23.4 L166.6 22.7 L166.2 22.0 L165.6 21.4 L165.1 20.9 L164.4 20.3 L163.7 19.9 L162.9 19.5 L162.1 19.1 L161.2 18.8 L160.2 18.5 L159.3 18.3 L158.2 18.2 L157.2 18.1 L156.1 18.0 M155.4 61.2 L154.9 61.1 L154.3 61.0 L153.9 60.9 L153.5 60.7 L153.3 60.4 L153.1 60.1 L152.9 59.7 L152.9 59.3 L152.9 58.9 L153.1 58.3 L153.3 57.8 L153.5 57.2 L153.9 56.5 L154.3 55.8 L154.8 55.1 L155.3 54.3 L155.9 53.5 L156.6 52.7 L157.3 51.8 L158.0 50.9 L158.8 50.0 L159.6 49.0 L160.4 48.0 L161.3 47.0 L162.1 46.0 L162.9 44.9 L163.7 43.9 L164.6 42.8 L165.3 41.8 L166.1 40.7 L166.8 39.6 L167.5 38.5 L168.1 37.4 L168.7 36.4 L169.2 35.3 L169.6 34.3 L170.0 33.2 L170.3 32.2 L170.5 31.2 L170.7 30.2 L170.7 29.2 L170.7 28.3 L170.6 27.4 L170.4 26.5 L170.2 25.7 L169.8 24.9 L169.4 24.1 L168.9 23.4 L168.3 22.7 L167.6 22.0 L166.9 21.4 L166.1 20.9 L165.3 20.3 L164.4 19.9 L163.5 19.5 L162.5 19.1 L161.5 18.8 L160.4 18.5 M155.5 61.2 L155.2 61.1 L155.0 61.0 L154.8 60.9 L154.7 60.7 L154.8 60.4 L154.8 60.1 L155.0 59.7 L155.2 59.3 L155.6 58.9 L155.9 58.3 L156.4 57.8 L156.9 57.2 L157.5 56.5 L158.1 55.8 L158.8 55.1 L159.6 54.3 L160.3 53.5 L161.1 52.7 L162.0 51.8 L162.8 50.9 L163.7 50.0 L164.6 49.0 L165.4 48.0 L166.3 47.0 L167.1 46.0 L167.9 44.9 L168.7 43.9 L169.4 42.8 L170.1 41.8 L170.8 40.7 L171.3 39.6 L171.9 38.5 L172.3 37.4 L172.7 36.4 L173.0 35.3 L173.3 34.3 L173.4 33.2 L173.5 32.2 L173.5 31.2 L173.4 30.2 L173.3 29.2 L173.0 28.3 L172.7 27.4 L172.3 26.5 L171.8 25.7 L171.2 24.9 L170.6 24.1 L169.8 23.4 L169.1 22.7 L168.2 22.0 L167.4 21.4 M155.7 61.2 L155.6 61.1 L155.7 61.0 L155.8 60.9 L156.0 60.7 L156.3 60.4 L156.7 60.1 L157.1 59.7 L157.6 59.3 L158.2 58.9 L158.8 58.3 L159.5 57.8 L160.2 57.2 L161.0 56.5 L161.8 55.8 L162.6 55.1 L163.5 54.3 L164.4 53.5 L165.3 52.7 L166.2 51.8 L167.1 50.9 L168.0 50.0 L168.9 49.0 L169.7 48.0 L170.5 47.0 L171.3 46.0 L172.0 44.9 L172.7 43.9 L173.3 42.8 L173.8 41.8 L174.3 40.7 L174.8 39.6 L175.1 38.5 L175.4 37.4 L175.5 36.4 L175.7 35.3 L175.7 34.3 L175.6 33.2 L175.5 32.2 L175.2 31.2 L174.9 30.2 L174.5 29.2 L174.1 28.3 L173.5 27.4 L172.9 26.5 M155.8 61.2 L156.0 61.1 L156.4 61.0 L156.8 60.9 L157.3 60.7 L157.8 60.4 L158.4 60.1 L159.1 59.7 L159.8 59.3 L160.6 58.9 L161.4 58.3 L162.3 57.8 L163.2 57.2 L164.1 56.5 L165.0 55.8 L166.0 55.1 L166.9 54.3 L167.8 53.5 L168.8 52.7 L169.7 51.8 L170.5 50.9 L171.4 50.0 L172.2 49.0 L173.0 48.0 L173.7 47.0 L174.3 46.0 L174.9 44.9 L175.4 43.9 L175.9 42.8 L176.3 41.8 L176.6 40.7 L176.8 39.6 L176.9 38.5 L177.0 37.4 L176.9 36.4 L176.8 35.3 L176.6 34.3 M155.9 61.2 L156.4 61.1 L157.0 61.0 L157.7 60.9 L158.4 60.7 L159.2 60.4 L160.0 60.1 L160.9 59.7 L161.8 59.3 L162.7 58.9 L163.6 58.3 L164.6 57.8 L165.6 57.2 L166.6 56.5 L167.6 55.8 L168.5 55.1 L169.5 54.3 L170.4 53.5 L171.3 52.7 L172.1 51.8 L172.9 50.9 L173.7 50.0 L174.3 49.0 L175.0 48.0 L175.5 47.0 L176.0 46.0 L176.4 44.9 L176.8 43.9 L177.0 42.8 L177.2 41.8 M156.0 61.2 L156.8 61.1 L157.6 61.0 L158.4 60.9 L159.3 60.7 L160.3 60.4 L161.3 60.1 L162.2 59.7 L163.3 59.3 L164.3 58.9 L165.3 58.3 L166.3 57.8 L167.3 57.2 L168.3 56.5 L169.2 55.8 L170.2 55.1 L171.0 54.3 L171.9 53.5 L172.7 52.7 L173.4 51.8 L174.0 50.9 L174.6 50.0 L175.1 49.0 M156.1 61.2 L157.0 61.1 L158.0 61.0 L159.0 60.9 L160.0 60.7 L161.1 60.4 L162.1 60.1 L163.2 59.7 L164.2 59.3 L165.2 58.9 L166.2 58.3 L167.2 57.8 L168.2 57.2 L169.1 56.5 L169.9 55.8 L170.7 55.1 M156.1 61.2 L157.2 61.1 L158.2 61.0 L159.3 60.9 L160.4 60.7 L161.4 60.4 L162.5 60.1 L163.5 59.7 L164.5 59.3" fill="none" stroke="#3d6878" stroke-width="0.6" opacity="0.85"/>
<circle cx="155.7" cy="39.6" r="21.6" fill="url(#gshade)"/>
<circle cx="270.2" cy="39.7" r="25.5" fill="url(#grim)"/>
<circle cx="270.2" cy="39.7" r="24.3" fill="#e2e9ee"/>
<circle cx="270.2" cy="39.7" r="23.2" fill="none" stroke="#8a9fb0" stroke-width="1.2" stroke-dasharray="0.9 0.9"/>
<circle cx="270.2" cy="39.7" r="22.1" fill="url(#gmesh)"/>
<path d="M267.3 61.6 L265.4 61.3 L263.5 60.7 L265.4 61.3 L267.4 61.6 L269.3 61.8 L270.2 61.8 L269.3 61.8ZM259.8 59.2 L258.1 58.2 L256.5 57.0 L258.2 58.2 L260.0 59.2 L261.7 60.0 L263.5 60.7 L261.6 60.0ZM267.4 61.6 L265.6 61.3 L263.9 60.7 L265.8 61.3 L267.7 61.6 L269.4 61.8 L270.2 61.8 L269.3 61.8ZM253.6 54.3 L252.3 52.7 L251.3 51.1 L252.6 52.7 L254.0 54.3 L255.1 55.7 L256.5 57.0 L255.0 55.7ZM260.0 59.2 L258.6 58.2 L257.3 57.0 L259.1 58.2 L261.0 59.2 L262.3 60.0 L263.9 60.7 L261.9 60.0ZM267.7 61.6 L266.1 61.3 L264.7 60.7 L266.5 61.3 L268.1 61.6 L269.5 61.8 L270.2 61.8 L269.4 61.8ZM249.5 47.5 L248.9 45.6 L248.5 43.7 L249.2 45.6 L250.0 47.5 L250.5 49.3 L251.3 51.1 L250.3 49.3ZM254.0 54.3 L253.1 52.7 L252.4 51.1 L253.9 52.7 L255.5 54.3 L256.3 55.7 L257.3 57.0 L255.6 55.7ZM261.0 59.2 L259.9 58.2 L259.1 57.0 L260.9 58.2 L262.7 59.2 L263.6 60.0 L264.7 60.7 L262.9 60.0ZM268.1 61.6 L266.9 61.3 L266.0 60.7 L267.4 61.3 L268.7 61.6 L269.7 61.8 L270.2 61.8 L269.6 61.8ZM248.1 39.7 L248.2 37.7 L248.5 35.7 L248.4 37.7 L248.6 39.7 L248.4 41.7 L248.5 43.7 L248.2 41.7ZM250.0 47.5 L249.8 45.6 L249.8 43.7 L250.8 45.6 L252.0 47.5 L252.1 49.3 L252.4 51.1 L251.1 49.3ZM255.5 54.3 L255.1 52.7 L254.8 51.1 L256.5 52.7 L258.2 54.3 L258.5 55.7 L259.1 57.0 L257.3 55.7ZM262.7 59.2 L262.0 58.2 L261.6 57.0 L263.3 58.2 L264.8 59.2 L265.3 60.0 L266.0 60.7 L264.4 60.0ZM268.7 61.6 L268.0 61.3 L267.5 60.7 L268.6 61.3 L269.4 61.6 L269.9 61.8 L270.2 61.8 L269.8 61.8ZM249.5 31.9 L250.3 30.1 L251.3 28.3 L250.5 30.1 L250.0 31.9 L249.2 33.8 L248.5 35.7 L248.9 33.8ZM248.6 39.7 L249.1 37.7 L249.8 35.7 L250.1 37.7 L250.7 39.7 L250.1 41.7 L249.8 43.7 L249.1 41.7ZM252.0 47.5 L252.1 45.6 L252.6 43.7 L253.8 45.6 L255.2 47.5 L254.9 49.3 L254.8 51.1 L253.3 49.3ZM258.2 54.3 L258.1 52.7 L258.4 51.1 L260.0 52.7 L261.7 54.3 L261.5 55.7 L261.6 57.0 L259.9 55.7ZM264.8 59.2 L264.7 58.2 L264.8 57.0 L266.2 58.2 L267.4 59.2 L267.3 60.0 L267.5 60.7 L266.3 60.0ZM269.4 61.6 L269.2 61.3 L269.3 60.7 L269.9 61.3 L270.2 61.6 L270.1 61.8 L270.2 61.8 L270.0 61.8ZM253.6 25.1 L255.0 23.7 L256.5 22.4 L255.1 23.7 L254.0 25.1 L252.6 26.7 L251.3 28.3 L252.3 26.7ZM250.0 31.9 L251.1 30.1 L252.4 28.3 L252.1 30.1 L252.0 31.9 L250.8 33.8 L249.8 35.7 L249.8 33.8ZM250.7 39.7 L251.5 37.7 L252.6 35.7 L253.3 37.7 L254.2 39.7 L253.3 41.7 L252.6 43.7 L251.5 41.7ZM255.2 47.5 L255.8 45.6 L256.6 43.7 L258.0 45.6 L259.6 47.5 L258.8 49.3 L258.4 51.1 L256.7 49.3ZM261.7 54.3 L262.1 52.7 L262.7 51.1 L264.3 52.7 L265.8 54.3 L265.2 55.7 L264.8 57.0 L263.3 55.7ZM267.4 59.2 L267.8 58.2 L268.4 57.0 L269.4 58.2 L270.2 59.2 L269.6 60.0 L269.3 60.7 L268.5 60.0ZM270.2 61.6 L270.5 61.3 L271.1 60.7 L271.2 61.3 L271.0 61.6 L270.4 61.8 L270.2 61.8 L270.3 61.8ZM259.8 20.2 L261.6 19.4 L263.5 18.7 L261.7 19.4 L260.0 20.2 L258.2 21.2 L256.5 22.4 L258.1 21.2ZM254.0 25.1 L255.6 23.7 L257.3 22.4 L256.3 23.7 L255.5 25.1 L253.9 26.7 L252.4 28.3 L253.1 26.7ZM252.0 31.9 L253.3 30.1 L254.8 28.3 L254.9 30.1 L255.2 31.9 L253.8 33.8 L252.6 35.7 L252.1 33.8ZM254.2 39.7 L255.3 37.7 L256.6 35.7 L257.6 37.7 L258.8 39.7 L257.6 41.7 L256.6 43.7 L255.3 41.7ZM259.6 47.5 L260.5 45.6 L261.6 43.7 L263.1 45.6 L264.7 47.5 L263.6 49.3 L262.7 51.1 L261.1 49.3ZM265.8 54.3 L266.6 52.7 L267.6 51.1 L269.0 52.7 L270.2 54.3 L269.2 55.7 L268.4 57.0 L267.1 55.7ZM270.2 59.2 L271.0 58.2 L272.0 57.0 L272.6 58.2 L273.0 59.2 L271.9 60.0 L271.1 60.7 L270.8 60.0ZM271.0 61.6 L271.8 61.3 L272.9 60.7 L272.4 61.3 L271.7 61.6 L270.6 61.8 L270.2 61.8 L270.5 61.8ZM267.3 17.8 L269.3 17.6 L270.2 17.6 L269.3 17.6 L267.4 17.8 L265.4 18.1 L263.5 18.7 L265.4 18.1ZM260.0 20.2 L261.9 19.4 L263.9 18.7 L262.3 19.4 L261.0 20.2 L259.1 21.2 L257.3 22.4 L258.6 21.2ZM255.5 25.1 L257.3 23.7 L259.1 22.4 L258.5 23.7 L258.2 25.1 L256.5 26.7 L254.8 28.3 L255.1 26.7ZM255.2 31.9 L256.7 30.1 L258.4 28.3 L258.8 30.1 L259.6 31.9 L258.0 33.8 L256.6 35.7 L255.8 33.8ZM258.8 39.7 L260.2 37.7 L261.6 35.7 L262.9 37.7 L264.3 39.7 L262.9 41.7 L261.6 43.7 L260.2 41.7ZM264.7 47.5 L265.9 45.6 L267.3 43.7 L268.8 45.6 L270.2 47.5 L268.9 49.3 L267.6 51.1 L266.2 49.3ZM270.2 54.3 L271.4 52.7 L272.8 51.1 L273.8 52.7 L274.6 54.3 L273.3 55.7 L272.0 57.0 L271.2 55.7ZM273.0 59.2 L274.2 58.2 L275.6 57.0 L275.7 58.2 L275.6 59.2 L274.1 60.0 L272.9 60.7 L273.1 60.0ZM271.7 61.6 L273.0 61.3 L274.4 60.7 L273.5 61.3 L272.3 61.6 L270.8 61.8 L270.2 61.8 L270.7 61.8ZM267.4 17.8 L269.3 17.6 L270.2 17.6 L269.4 17.6 L267.7 17.8 L265.8 18.1 L263.9 18.7 L265.6 18.1ZM261.0 20.2 L262.9 19.4 L264.7 18.7 L263.6 19.4 L262.7 20.2 L260.9 21.2 L259.1 22.4 L259.9 21.2ZM258.2 25.1 L259.9 23.7 L261.6 22.4 L261.5 23.7 L261.7 25.1 L260.0 26.7 L258.4 28.3 L258.1 26.7ZM259.6 31.9 L261.1 30.1 L262.7 28.3 L263.6 30.1 L264.7 31.9 L263.1 33.8 L261.6 35.7 L260.5 33.8ZM264.3 39.7 L265.8 37.7 L267.3 35.7 L268.7 37.7 L270.2 39.7 L268.7 41.7 L267.3 43.7 L265.8 41.7ZM270.2 47.5 L271.6 45.6 L273.1 43.7 L274.5 45.6 L275.7 47.5 L274.2 49.3 L272.8 51.1 L271.5 49.3ZM274.6 54.3 L276.1 52.7 L277.7 51.1 L278.3 52.7 L278.7 54.3 L277.1 55.7 L275.6 57.0 L275.2 55.7ZM275.6 59.2 L277.1 58.2 L278.8 57.0 L278.4 58.2 L277.7 59.2 L276.0 60.0 L274.4 60.7 L275.1 60.0ZM272.3 61.6 L273.9 61.3 L275.7 60.7 L274.3 61.3 L272.7 61.6 L271.0 61.8 L270.2 61.8 L270.9 61.8ZM267.7 17.8 L269.4 17.6 L270.2 17.6 L269.5 17.6 L268.1 17.8 L266.5 18.1 L264.7 18.7 L266.1 18.1ZM262.7 20.2 L264.4 19.4 L266.0 18.7 L265.3 19.4 L264.8 20.2 L263.3 21.2 L261.6 22.4 L262.0 21.2ZM261.7 25.1 L263.3 23.7 L264.8 22.4 L265.2 23.7 L265.8 25.1 L264.3 26.7 L262.7 28.3 L262.1 26.7ZM264.7 31.9 L266.2 30.1 L267.6 28.3 L268.9 30.1 L270.2 31.9 L268.8 33.8 L267.3 35.7 L265.9 33.8ZM270.2 39.7 L271.7 37.7 L273.1 35.7 L274.6 37.7 L276.1 39.7 L274.6 41.7 L273.1 43.7 L271.7 41.7ZM275.7 47.5 L277.3 45.6 L278.8 43.7 L279.9 45.6 L280.8 47.5 L279.3 49.3 L277.7 51.1 L276.8 49.3ZM278.7 54.3 L280.4 52.7 L282.0 51.1 L282.3 52.7 L282.2 54.3 L280.5 55.7 L278.8 57.0 L278.9 55.7ZM277.7 59.2 L279.5 58.2 L281.3 57.0 L280.5 58.2 L279.4 59.2 L277.5 60.0 L275.7 60.7 L276.8 60.0ZM272.7 61.6 L274.6 61.3 L276.5 60.7 L274.8 61.3 L273.0 61.6 L271.1 61.8 L270.2 61.8 L271.0 61.8ZM268.1 17.8 L269.6 17.6 L270.2 17.6 L269.7 17.6 L268.7 17.8 L267.4 18.1 L266.0 18.7 L266.9 18.1ZM264.8 20.2 L266.3 19.4 L267.5 18.7 L267.3 19.4 L267.4 20.2 L266.2 21.2 L264.8 22.4 L264.7 21.2ZM265.8 25.1 L267.1 23.7 L268.4 22.4 L269.2 23.7 L270.2 25.1 L269.0 26.7 L267.6 28.3 L266.6 26.7ZM270.2 31.9 L271.5 30.1 L272.8 28.3 L274.2 30.1 L275.7 31.9 L274.5 33.8 L273.1 35.7 L271.6 33.8ZM276.1 39.7 L277.5 37.7 L278.8 35.7 L280.2 37.7 L281.6 39.7 L280.2 41.7 L278.8 43.7 L277.5 41.7ZM280.8 47.5 L282.4 45.6 L283.8 43.7 L284.6 45.6 L285.2 47.5 L283.7 49.3 L282.0 51.1 L281.6 49.3ZM282.2 54.3 L283.9 52.7 L285.6 51.1 L285.3 52.7 L284.9 54.3 L283.1 55.7 L281.3 57.0 L281.9 55.7ZM279.4 59.2 L281.3 58.2 L283.1 57.0 L281.8 58.2 L280.4 59.2 L278.5 60.0 L276.5 60.7 L278.1 60.0ZM273.0 61.6 L275.0 61.3 L276.9 60.7 L275.0 61.3 L273.1 61.6 L271.1 61.8 L270.2 61.8 L271.1 61.8ZM268.7 17.8 L269.8 17.6 L270.2 17.6 L269.9 17.6 L269.4 17.8 L268.6 18.1 L267.5 18.7 L268.0 18.1ZM267.4 20.2 L268.5 19.4 L269.3 18.7 L269.6 19.4 L270.2 20.2 L269.4 21.2 L268.4 22.4 L267.8 21.2ZM270.2 25.1 L271.2 23.7 L272.0 22.4 L273.3 23.7 L274.6 25.1 L273.8 26.7 L272.8 28.3 L271.4 26.7ZM275.7 31.9 L276.8 30.1 L277.7 28.3 L279.3 30.1 L280.8 31.9 L279.9 33.8 L278.8 35.7 L277.3 33.8ZM281.6 39.7 L282.8 37.7 L283.8 35.7 L285.1 37.7 L286.2 39.7 L285.1 41.7 L283.8 43.7 L282.8 41.7ZM285.2 47.5 L286.6 45.6 L287.8 43.7 L288.3 45.6 L288.4 47.5 L287.1 49.3 L285.6 51.1 L285.5 49.3ZM284.9 54.3 L286.5 52.7 L288.0 51.1 L287.3 52.7 L286.4 54.3 L284.8 55.7 L283.1 57.0 L284.1 55.7ZM280.4 59.2 L282.2 58.2 L283.9 57.0 L282.3 58.2 L280.6 59.2 L278.8 60.0 L276.9 60.7 L278.7 60.0ZM269.4 17.8 L270.0 17.6 L270.2 17.6 L270.1 17.6 L270.2 17.8 L269.9 18.1 L269.3 18.7 L269.2 18.1ZM270.2 20.2 L270.8 19.4 L271.1 18.7 L271.9 19.4 L273.0 20.2 L272.6 21.2 L272.0 22.4 L271.0 21.2ZM274.6 25.1 L275.2 23.7 L275.6 22.4 L277.1 23.7 L278.7 25.1 L278.3 26.7 L277.7 28.3 L276.1 26.7ZM280.8 31.9 L281.6 30.1 L282.0 28.3 L283.7 30.1 L285.2 31.9 L284.6 33.8 L283.8 35.7 L282.4 33.8ZM286.2 39.7 L287.1 37.7 L287.8 35.7 L288.9 37.7 L289.7 39.7 L288.9 41.7 L287.8 43.7 L287.1 41.7ZM288.4 47.5 L289.6 45.6 L290.6 43.7 L290.6 45.6 L290.4 47.5 L289.3 49.3 L288.0 51.1 L288.3 49.3ZM286.4 54.3 L287.8 52.7 L289.1 51.1 L288.1 52.7 L286.8 54.3 L285.4 55.7 L283.9 57.0 L285.3 55.7ZM270.2 17.8 L270.3 17.6 L270.2 17.6 L270.4 17.6 L271.0 17.8 L271.2 18.1 L271.1 18.7 L270.5 18.1ZM273.0 20.2 L273.1 19.4 L272.9 18.7 L274.1 19.4 L275.6 20.2 L275.7 21.2 L275.6 22.4 L274.2 21.2ZM278.7 25.1 L278.9 23.7 L278.8 22.4 L280.5 23.7 L282.2 25.1 L282.3 26.7 L282.0 28.3 L280.4 26.7ZM285.2 31.9 L285.5 30.1 L285.6 28.3 L287.1 30.1 L288.4 31.9 L288.3 33.8 L287.8 35.7 L286.6 33.8ZM289.7 39.7 L290.3 37.7 L290.6 35.7 L291.3 37.7 L291.8 39.7 L291.3 41.7 L290.6 43.7 L290.3 41.7ZM290.4 47.5 L291.2 45.6 L291.9 43.7 L291.5 45.6 L290.9 47.5 L290.1 49.3 L289.1 51.1 L289.9 49.3ZM271.0 17.8 L270.5 17.6 L270.2 17.6 L270.6 17.6 L271.7 17.8 L272.4 18.1 L272.9 18.7 L271.8 18.1ZM275.6 20.2 L275.1 19.4 L274.4 18.7 L276.0 19.4 L277.7 20.2 L278.4 21.2 L278.8 22.4 L277.1 21.2ZM282.2 25.1 L281.9 23.7 L281.3 22.4 L283.1 23.7 L284.9 25.1 L285.3 26.7 L285.6 28.3 L283.9 26.7ZM288.4 31.9 L288.3 30.1 L288.0 28.3 L289.3 30.1 L290.4 31.9 L290.6 33.8 L290.6 35.7 L289.6 33.8ZM291.8 39.7 L292.0 37.7 L291.9 35.7 L292.2 37.7 L292.3 39.7 L292.2 41.7 L291.9 43.7 L292.0 41.7ZM271.7 17.8 L270.7 17.6 L270.2 17.6 L270.8 17.6 L272.3 17.8 L273.5 18.1 L274.4 18.7 L273.0 18.1ZM277.7 20.2 L276.8 19.4 L275.7 18.7 L277.5 19.4 L279.4 20.2 L280.5 21.2 L281.3 22.4 L279.5 21.2ZM284.9 25.1 L284.1 23.7 L283.1 22.4 L284.8 23.7 L286.4 25.1 L287.3 26.7 L288.0 28.3 L286.5 26.7ZM290.4 31.9 L289.9 30.1 L289.1 28.3 L290.1 30.1 L290.9 31.9 L291.5 33.8 L291.9 35.7 L291.2 33.8ZM272.3 17.8 L270.9 17.6 L270.2 17.6 L271.0 17.6 L272.7 17.8 L274.3 18.1 L275.7 18.7 L273.9 18.1ZM279.4 20.2 L278.1 19.4 L276.5 18.7 L278.5 19.4 L280.4 20.2 L281.8 21.2 L283.1 22.4 L281.3 21.2ZM286.4 25.1 L285.3 23.7 L283.9 22.4 L285.4 23.7 L286.8 25.1 L288.1 26.7 L289.1 28.3 L287.8 26.7ZM272.7 17.8 L271.0 17.6 L270.2 17.6 L271.1 17.6 L273.0 17.8 L274.8 18.1 L276.5 18.7 L274.6 18.1ZM280.4 20.2 L278.7 19.4 L276.9 18.7 L278.8 19.4 L280.6 20.2 L282.3 21.2 L283.9 22.4 L282.2 21.2ZM273.0 17.8 L271.1 17.6 L270.2 17.6 L271.1 17.6 L273.1 17.8 L275.0 18.1 L276.9 18.7 L275.0 18.1Z" fill="#ffffff" opacity="0.5"/>
<path d="M269.8 61.8 L268.7 61.7 L267.6 61.6 L266.5 61.5 L265.4 61.3 L264.3 61.0 L263.3 60.7 L262.2 60.3 L261.2 59.9 M269.8 61.8 L268.9 61.7 L267.9 61.6 L266.8 61.5 L265.8 61.3 L264.7 61.0 L263.6 60.7 L262.6 60.3 L261.5 59.9 L260.5 59.4 L259.4 58.9 L258.4 58.3 L257.4 57.7 L256.5 57.0 L255.6 56.3 L254.8 55.6 M269.9 61.8 L269.1 61.7 L268.3 61.6 L267.4 61.5 L266.5 61.3 L265.5 61.0 L264.5 60.7 L263.5 60.3 L262.5 59.9 L261.4 59.4 L260.4 58.9 L259.4 58.3 L258.3 57.7 L257.3 57.0 L256.3 56.3 L255.4 55.6 L254.5 54.8 L253.7 53.9 L252.9 53.1 L252.1 52.2 L251.4 51.3 L250.8 50.3 L250.3 49.3 M270.0 61.8 L269.5 61.7 L268.8 61.6 L268.2 61.5 L267.4 61.3 L266.6 61.0 L265.8 60.7 L264.9 60.3 L264.0 59.9 L263.0 59.4 L262.1 58.9 L261.1 58.3 L260.1 57.7 L259.1 57.0 L258.1 56.3 L257.1 55.6 L256.1 54.8 L255.2 53.9 L254.3 53.1 L253.4 52.2 L252.6 51.3 L251.8 50.3 L251.1 49.3 L250.5 48.3 L249.9 47.3 L249.4 46.2 L249.0 45.2 L248.7 44.1 L248.4 43.0 L248.2 41.9 M270.1 61.8 L269.9 61.7 L269.5 61.6 L269.1 61.5 L268.6 61.3 L268.0 61.0 L267.4 60.7 L266.7 60.3 L266.0 59.9 L265.2 59.4 L264.3 58.9 L263.5 58.3 L262.5 57.7 L261.6 57.0 L260.7 56.3 L259.7 55.6 L258.7 54.8 L257.8 53.9 L256.8 53.1 L255.9 52.2 L255.0 51.3 L254.1 50.3 L253.3 49.3 L252.5 48.3 L251.8 47.3 L251.2 46.2 L250.5 45.2 L250.0 44.1 L249.6 43.0 L249.2 41.9 L248.9 40.8 L248.6 39.7 L248.5 38.6 L248.4 37.5 L248.5 36.4 L248.6 35.3 L248.8 34.2 M270.2 61.8 L270.3 61.7 L270.2 61.6 L270.1 61.5 L269.9 61.3 L269.6 61.0 L269.2 60.7 L268.8 60.3 L268.3 59.9 L267.7 59.4 L267.0 58.9 L266.3 58.3 L265.6 57.7 L264.8 57.0 L264.0 56.3 L263.1 55.6 L262.2 54.8 L261.3 53.9 L260.4 53.1 L259.5 52.2 L258.5 51.3 L257.6 50.3 L256.7 49.3 L255.9 48.3 L255.1 47.3 L254.3 46.2 L253.5 45.2 L252.8 44.1 L252.2 43.0 L251.6 41.9 L251.1 40.8 L250.7 39.7 L250.4 38.6 L250.1 37.5 L249.9 36.4 L249.8 35.3 L249.8 34.2 L249.8 33.2 L250.0 32.1 L250.2 31.1 L250.5 30.1 L250.9 29.1 L251.4 28.1 L252.0 27.2 L252.6 26.3 M270.4 61.8 L270.7 61.7 L270.9 61.6 L271.1 61.5 L271.2 61.3 L271.2 61.0 L271.1 60.7 L270.9 60.3 L270.7 59.9 L270.4 59.4 L270.0 58.9 L269.5 58.3 L268.9 57.7 L268.4 57.0 L267.7 56.3 L267.0 55.6 L266.2 54.8 L265.4 53.9 L264.6 53.1 L263.8 52.2 L262.9 51.3 L262.0 50.3 L261.1 49.3 L260.3 48.3 L259.4 47.3 L258.5 46.2 L257.7 45.2 L256.9 44.1 L256.2 43.0 L255.5 41.9 L254.8 40.8 L254.2 39.7 L253.7 38.6 L253.2 37.5 L252.8 36.4 L252.5 35.3 L252.2 34.2 L252.0 33.2 L252.0 32.1 L252.0 31.1 L252.1 30.1 L252.2 29.1 L252.5 28.1 L252.8 27.2 L253.3 26.3 L253.8 25.5 L254.3 24.6 L255.0 23.8 L255.7 23.1 L256.5 22.4 L257.4 21.7 L258.3 21.1 M270.5 61.8 L271.1 61.7 L271.6 61.6 L272.0 61.5 L272.4 61.3 L272.7 61.0 L272.9 60.7 L273.0 60.3 L273.1 59.9 L273.0 59.4 L272.9 58.9 L272.7 58.3 L272.4 57.7 L272.0 57.0 L271.6 56.3 L271.1 55.6 L270.6 54.8 L269.9 53.9 L269.3 53.1 L268.6 52.2 L267.8 51.3 L267.0 50.3 L266.2 49.3 L265.4 48.3 L264.5 47.3 L263.7 46.2 L262.8 45.2 L262.0 44.1 L261.1 43.0 L260.3 41.9 L259.6 40.8 L258.8 39.7 L258.2 38.6 L257.5 37.5 L256.9 36.4 L256.4 35.3 L256.0 34.2 L255.6 33.2 L255.3 32.1 L255.0 31.1 L254.9 30.1 L254.8 29.1 L254.8 28.1 L255.0 27.2 L255.1 26.3 L255.4 25.5 L255.8 24.6 L256.2 23.8 L256.7 23.1 L257.3 22.4 L258.0 21.7 L258.7 21.1 L259.5 20.5 L260.4 20.0 L261.3 19.5 L262.3 19.1 L263.3 18.7 L264.3 18.4 L265.4 18.1 M270.6 61.8 L271.4 61.7 L272.1 61.6 L272.8 61.5 L273.5 61.3 L274.0 61.0 L274.5 60.7 L274.9 60.3 L275.2 59.9 L275.5 59.4 L275.6 58.9 L275.7 58.3 L275.7 57.7 L275.6 57.0 L275.4 56.3 L275.2 55.6 L274.9 54.8 L274.5 53.9 L274.0 53.1 L273.5 52.2 L272.9 51.3 L272.2 50.3 L271.5 49.3 L270.8 48.3 L270.0 47.3 L269.3 46.2 L268.4 45.2 L267.6 44.1 L266.8 43.0 L265.9 41.9 L265.1 40.8 L264.3 39.7 L263.5 38.6 L262.8 37.5 L262.0 36.4 L261.4 35.3 L260.7 34.2 L260.2 33.2 L259.7 32.1 L259.2 31.1 L258.8 30.1 L258.5 29.1 L258.3 28.1 L258.2 27.2 L258.1 26.3 L258.1 25.5 L258.2 24.6 L258.4 23.8 L258.7 23.1 L259.1 22.4 L259.5 21.7 L260.0 21.1 L260.6 20.5 L261.3 20.0 L262.0 19.5 L262.8 19.1 L263.7 18.7 L264.6 18.4 L265.6 18.1 L266.6 17.9 L267.6 17.8 L268.7 17.7 L269.7 17.6 M270.6 61.8 L271.6 61.7 L272.6 61.6 L273.5 61.5 L274.3 61.3 L275.1 61.0 L275.8 60.7 L276.5 60.3 L277.1 59.9 L277.6 59.4 L278.0 58.9 L278.3 58.3 L278.6 57.7 L278.8 57.0 L278.9 56.3 L278.9 55.6 L278.8 54.8 L278.7 53.9 L278.4 53.1 L278.1 52.2 L277.8 51.3 L277.3 50.3 L276.8 49.3 L276.2 48.3 L275.6 47.3 L274.9 46.2 L274.2 45.2 L273.4 44.1 L272.7 43.0 L271.8 41.9 L271.0 40.8 L270.2 39.7 L269.4 38.6 L268.6 37.5 L267.7 36.4 L267.0 35.3 L266.2 34.2 L265.5 33.2 L264.8 32.1 L264.2 31.1 L263.6 30.1 L263.1 29.1 L262.6 28.1 L262.3 27.2 L262.0 26.3 L261.7 25.5 L261.6 24.6 L261.5 23.8 L261.5 23.1 L261.6 22.4 L261.8 21.7 L262.1 21.1 L262.4 20.5 L262.8 20.0 L263.3 19.5 L263.9 19.1 L264.6 18.7 L265.3 18.4 L266.1 18.1 L266.9 17.9 L267.8 17.8 L268.8 17.7 L269.8 17.6 M270.7 61.8 L271.7 61.7 L272.8 61.6 L273.8 61.5 L274.8 61.3 L275.8 61.0 L276.7 60.7 L277.6 60.3 L278.4 59.9 L279.1 59.4 L279.8 58.9 L280.4 58.3 L280.9 57.7 L281.3 57.0 L281.7 56.3 L282.0 55.6 L282.2 54.8 L282.3 53.9 L282.3 53.1 L282.2 52.2 L282.1 51.3 L281.9 50.3 L281.6 49.3 L281.2 48.3 L280.7 47.3 L280.2 46.2 L279.7 45.2 L279.0 44.1 L278.4 43.0 L277.6 41.9 L276.9 40.8 L276.1 39.7 L275.3 38.6 L274.5 37.5 L273.6 36.4 L272.8 35.3 L272.0 34.2 L271.1 33.2 L270.4 32.1 L269.6 31.1 L268.9 30.1 L268.2 29.1 L267.5 28.1 L266.9 27.2 L266.4 26.3 L265.9 25.5 L265.5 24.6 L265.2 23.8 L265.0 23.1 L264.8 22.4 L264.7 21.7 L264.7 21.1 L264.8 20.5 L264.9 20.0 L265.2 19.5 L265.5 19.1 L265.9 18.7 L266.4 18.4 L266.9 18.1 L267.6 17.9 L268.3 17.8 L269.0 17.7 L269.8 17.6 M275.0 61.3 L276.1 61.0 L277.1 60.7 L278.1 60.3 L279.1 59.9 L280.0 59.4 L280.9 58.9 L281.7 58.3 L282.4 57.7 L283.1 57.0 L283.7 56.3 L284.2 55.6 L284.6 54.8 L285.0 53.9 L285.3 53.1 L285.4 52.2 L285.6 51.3 L285.6 50.3 L285.5 49.3 L285.4 48.3 L285.1 47.3 L284.8 46.2 L284.4 45.2 L284.0 44.1 L283.5 43.0 L282.9 41.9 L282.2 40.8 L281.6 39.7 L280.8 38.6 L280.1 37.5 L279.3 36.4 L278.4 35.3 L277.6 34.2 L276.7 33.2 L275.9 32.1 L275.0 31.1 L274.2 30.1 L273.4 29.1 L272.6 28.1 L271.8 27.2 L271.1 26.3 L270.5 25.5 L269.8 24.6 L269.3 23.8 L268.8 23.1 L268.4 22.4 L268.0 21.7 L267.7 21.1 L267.5 20.5 L267.4 20.0 L267.3 19.5 L267.4 19.1 L267.5 18.7 L267.7 18.4 L268.0 18.1 L268.4 17.9 L268.8 17.8 L269.3 17.7 L269.9 17.6 M282.1 58.3 L283.0 57.7 L283.9 57.0 L284.7 56.3 L285.4 55.6 L286.1 54.8 L286.6 53.9 L287.1 53.1 L287.6 52.2 L287.9 51.3 L288.2 50.3 L288.3 49.3 L288.4 48.3 L288.4 47.3 L288.4 46.2 L288.2 45.2 L287.9 44.1 L287.6 43.0 L287.2 41.9 L286.7 40.8 L286.2 39.7 L285.6 38.6 L284.9 37.5 L284.2 36.4 L283.5 35.3 L282.7 34.2 L281.9 33.2 L281.0 32.1 L280.1 31.1 L279.3 30.1 L278.4 29.1 L277.5 28.1 L276.6 27.2 L275.8 26.3 L275.0 25.5 L274.2 24.6 L273.4 23.8 L272.7 23.1 L272.0 22.4 L271.5 21.7 L270.9 21.1 L270.4 20.5 L270.0 20.0 L269.7 19.5 L269.5 19.1 L269.3 18.7 L269.2 18.4 L269.2 18.1 L269.3 17.9 L269.5 17.8 L269.7 17.7 L270.0 17.6 M287.8 53.1 L288.4 52.2 L289.0 51.3 L289.5 50.3 L289.9 49.3 L290.2 48.3 L290.4 47.3 L290.6 46.2 L290.6 45.2 L290.6 44.1 L290.5 43.0 L290.3 41.9 L290.0 40.8 L289.7 39.7 L289.3 38.6 L288.8 37.5 L288.2 36.4 L287.6 35.3 L286.9 34.2 L286.1 33.2 L285.3 32.1 L284.5 31.1 L283.7 30.1 L282.8 29.1 L281.9 28.1 L280.9 27.2 L280.0 26.3 L279.1 25.5 L278.2 24.6 L277.3 23.8 L276.4 23.1 L275.6 22.4 L274.8 21.7 L274.1 21.1 L273.4 20.5 L272.7 20.0 L272.1 19.5 L271.6 19.1 L271.2 18.7 L270.8 18.4 L270.5 18.1 L270.3 17.9 L270.2 17.8 L270.1 17.7 L270.2 17.6 M291.6 45.2 L291.8 44.1 L291.9 43.0 L292.0 41.9 L291.9 40.8 L291.8 39.7 L291.5 38.6 L291.2 37.5 L290.8 36.4 L290.4 35.3 L289.9 34.2 L289.2 33.2 L288.6 32.1 L287.9 31.1 L287.1 30.1 L286.3 29.1 L285.4 28.1 L284.5 27.2 L283.6 26.3 L282.6 25.5 L281.7 24.6 L280.7 23.8 L279.7 23.1 L278.8 22.4 L277.9 21.7 L276.9 21.1 L276.1 20.5 L275.2 20.0 L274.4 19.5 L273.7 19.1 L273.0 18.7 L272.4 18.4 L271.8 18.1 L271.3 17.9 L270.9 17.8 L270.5 17.7 L270.3 17.6 M292.2 37.5 L292.0 36.4 L291.7 35.3 L291.4 34.2 L291.0 33.2 L290.5 32.1 L289.9 31.1 L289.3 30.1 L288.6 29.1 L287.8 28.1 L287.0 27.2 L286.1 26.3 L285.2 25.5 L284.3 24.6 L283.3 23.8 L282.3 23.1 L281.3 22.4 L280.3 21.7 L279.3 21.1 L278.3 20.5 L277.4 20.0 L276.4 19.5 L275.5 19.1 L274.6 18.7 L273.8 18.4 L273.0 18.1 L272.2 17.9 L271.6 17.8 L270.9 17.7 L270.4 17.6 M290.1 30.1 L289.6 29.1 L289.0 28.1 L288.3 27.2 L287.5 26.3 L286.7 25.5 L285.9 24.6 L285.0 23.8 L284.1 23.1 L283.1 22.4 L282.1 21.7 L281.0 21.1 L280.0 20.5 L279.0 20.0 L277.9 19.5 L276.9 19.1 L275.9 18.7 L274.9 18.4 L273.9 18.1 L273.0 17.9 L272.1 17.8 L271.3 17.7 L270.5 17.6 M285.6 23.8 L284.8 23.1 L283.9 22.4 L283.0 21.7 L282.0 21.1 L281.0 20.5 L279.9 20.0 L278.9 19.5 L277.8 19.1 L276.8 18.7 L275.7 18.4 L274.6 18.1 L273.6 17.9 L272.5 17.8 L271.5 17.7 L270.6 17.6 M279.2 19.5 L278.2 19.1 L277.1 18.7 L276.1 18.4 L275.0 18.1 L273.9 17.9 L272.8 17.8 L271.7 17.7 L270.6 17.6 M261.2 19.5 L262.2 19.1 L263.3 18.7 L264.3 18.4 L265.4 18.1 L266.5 17.9 L267.6 17.8 L268.7 17.7 L269.8 17.6 M254.8 23.8 L255.6 23.1 L256.5 22.4 L257.4 21.7 L258.4 21.1 L259.4 20.5 L260.5 20.0 L261.5 19.5 L262.6 19.1 L263.6 18.7 L264.7 18.4 L265.8 18.1 L266.8 17.9 L267.9 17.8 L268.9 17.7 L269.8 17.6 M250.3 30.1 L250.8 29.1 L251.4 28.1 L252.1 27.2 L252.9 26.3 L253.7 25.5 L254.5 24.6 L255.4 23.8 L256.3 23.1 L257.3 22.4 L258.3 21.7 L259.4 21.1 L260.4 20.5 L261.4 20.0 L262.5 19.5 L263.5 19.1 L264.5 18.7 L265.5 18.4 L266.5 18.1 L267.4 17.9 L268.3 17.8 L269.1 17.7 L269.9 17.6 M248.2 37.5 L248.4 36.4 L248.7 35.3 L249.0 34.2 L249.4 33.2 L249.9 32.1 L250.5 31.1 L251.1 30.1 L251.8 29.1 L252.6 28.1 L253.4 27.2 L254.3 26.3 L255.2 25.5 L256.1 24.6 L257.1 23.8 L258.1 23.1 L259.1 22.4 L260.1 21.7 L261.1 21.1 L262.1 20.5 L263.0 20.0 L264.0 19.5 L264.9 19.1 L265.8 18.7 L266.6 18.4 L267.4 18.1 L268.2 17.9 L268.8 17.8 L269.5 17.7 L270.0 17.6 M248.8 45.2 L248.6 44.1 L248.5 43.0 L248.4 41.9 L248.5 40.8 L248.6 39.7 L248.9 38.6 L249.2 37.5 L249.6 36.4 L250.0 35.3 L250.5 34.2 L251.2 33.2 L251.8 32.1 L252.5 31.1 L253.3 30.1 L254.1 29.1 L255.0 28.1 L255.9 27.2 L256.8 26.3 L257.8 25.5 L258.7 24.6 L259.7 23.8 L260.7 23.1 L261.6 22.4 L262.5 21.7 L263.5 21.1 L264.3 20.5 L265.2 20.0 L266.0 19.5 L266.7 19.1 L267.4 18.7 L268.0 18.4 L268.6 18.1 L269.1 17.9 L269.5 17.8 L269.9 17.7 L270.1 17.6 M252.6 53.1 L252.0 52.2 L251.4 51.3 L250.9 50.3 L250.5 49.3 L250.2 48.3 L250.0 47.3 L249.8 46.2 L249.8 45.2 L249.8 44.1 L249.9 43.0 L250.1 41.9 L250.4 40.8 L250.7 39.7 L251.1 38.6 L251.6 37.5 L252.2 36.4 L252.8 35.3 L253.5 34.2 L254.3 33.2 L255.1 32.1 L255.9 31.1 L256.7 30.1 L257.6 29.1 L258.5 28.1 L259.5 27.2 L260.4 26.3 L261.3 25.5 L262.2 24.6 L263.1 23.8 L264.0 23.1 L264.8 22.4 L265.6 21.7 L266.3 21.1 L267.0 20.5 L267.7 20.0 L268.3 19.5 L268.8 19.1 L269.2 18.7 L269.6 18.4 L269.9 18.1 L270.1 17.9 L270.2 17.8 L270.3 17.7 L270.2 17.6 M258.3 58.3 L257.4 57.7 L256.5 57.0 L255.7 56.3 L255.0 55.6 L254.3 54.8 L253.8 53.9 L253.3 53.1 L252.8 52.2 L252.5 51.3 L252.2 50.3 L252.1 49.3 L252.0 48.3 L252.0 47.3 L252.0 46.2 L252.2 45.2 L252.5 44.1 L252.8 43.0 L253.2 41.9 L253.7 40.8 L254.2 39.7 L254.8 38.6 L255.5 37.5 L256.2 36.4 L256.9 35.3 L257.7 34.2 L258.5 33.2 L259.4 32.1 L260.3 31.1 L261.1 30.1 L262.0 29.1 L262.9 28.1 L263.8 27.2 L264.6 26.3 L265.4 25.5 L266.2 24.6 L267.0 23.8 L267.7 23.1 L268.4 22.4 L268.9 21.7 L269.5 21.1 L270.0 20.5 L270.4 20.0 L270.7 19.5 L270.9 19.1 L271.1 18.7 L271.2 18.4 L271.2 18.1 L271.1 17.9 L270.9 17.8 L270.7 17.7 L270.4 17.6 M265.4 61.3 L264.3 61.0 L263.3 60.7 L262.3 60.3 L261.3 59.9 L260.4 59.4 L259.5 58.9 L258.7 58.3 L258.0 57.7 L257.3 57.0 L256.7 56.3 L256.2 55.6 L255.8 54.8 L255.4 53.9 L255.1 53.1 L255.0 52.2 L254.8 51.3 L254.8 50.3 L254.9 49.3 L255.0 48.3 L255.3 47.3 L255.6 46.2 L256.0 45.2 L256.4 44.1 L256.9 43.0 L257.5 41.9 L258.2 40.8 L258.8 39.7 L259.6 38.6 L260.3 37.5 L261.1 36.4 L262.0 35.3 L262.8 34.2 L263.7 33.2 L264.5 32.1 L265.4 31.1 L266.2 30.1 L267.0 29.1 L267.8 28.1 L268.6 27.2 L269.3 26.3 L269.9 25.5 L270.6 24.6 L271.1 23.8 L271.6 23.1 L272.0 22.4 L272.4 21.7 L272.7 21.1 L272.9 20.5 L273.0 20.0 L273.1 19.5 L273.0 19.1 L272.9 18.7 L272.7 18.4 L272.4 18.1 L272.0 17.9 L271.6 17.8 L271.1 17.7 L270.5 17.6 M269.7 61.8 L268.7 61.7 L267.6 61.6 L266.6 61.5 L265.6 61.3 L264.6 61.0 L263.7 60.7 L262.8 60.3 L262.0 59.9 L261.3 59.4 L260.6 58.9 L260.0 58.3 L259.5 57.7 L259.1 57.0 L258.7 56.3 L258.4 55.6 L258.2 54.8 L258.1 53.9 L258.1 53.1 L258.2 52.2 L258.3 51.3 L258.5 50.3 L258.8 49.3 L259.2 48.3 L259.7 47.3 L260.2 46.2 L260.7 45.2 L261.4 44.1 L262.0 43.0 L262.8 41.9 L263.5 40.8 L264.3 39.7 L265.1 38.6 L265.9 37.5 L266.8 36.4 L267.6 35.3 L268.4 34.2 L269.3 33.2 L270.0 32.1 L270.8 31.1 L271.5 30.1 L272.2 29.1 L272.9 28.1 L273.5 27.2 L274.0 26.3 L274.5 25.5 L274.9 24.6 L275.2 23.8 L275.4 23.1 L275.6 22.4 L275.7 21.7 L275.7 21.1 L275.6 20.5 L275.5 20.0 L275.2 19.5 L274.9 19.1 L274.5 18.7 L274.0 18.4 L273.5 18.1 L272.8 17.9 L272.1 17.8 L271.4 17.7 L270.6 17.6 M269.8 61.8 L268.8 61.7 L267.8 61.6 L266.9 61.5 L266.1 61.3 L265.3 61.0 L264.6 60.7 L263.9 60.3 L263.3 59.9 L262.8 59.4 L262.4 58.9 L262.1 58.3 L261.8 57.7 L261.6 57.0 L261.5 56.3 L261.5 55.6 L261.6 54.8 L261.7 53.9 L262.0 53.1 L262.3 52.2 L262.6 51.3 L263.1 50.3 L263.6 49.3 L264.2 48.3 L264.8 47.3 L265.5 46.2 L266.2 45.2 L267.0 44.1 L267.7 43.0 L268.6 41.9 L269.4 40.8 L270.2 39.7 L271.0 38.6 L271.8 37.5 L272.7 36.4 L273.4 35.3 L274.2 34.2 L274.9 33.2 L275.6 32.1 L276.2 31.1 L276.8 30.1 L277.3 29.1 L277.8 28.1 L278.1 27.2 L278.4 26.3 L278.7 25.5 L278.8 24.6 L278.9 23.8 L278.9 23.1 L278.8 22.4 L278.6 21.7 L278.3 21.1 L278.0 20.5 L277.6 20.0 L277.1 19.5 L276.5 19.1 L275.8 18.7 L275.1 18.4 L274.3 18.1 L273.5 17.9 L272.6 17.8 L271.6 17.7 L270.6 17.6 M269.8 61.8 L269.0 61.7 L268.3 61.6 L267.6 61.5 L266.9 61.3 L266.4 61.0 L265.9 60.7 L265.5 60.3 L265.2 59.9 L264.9 59.4 L264.8 58.9 L264.7 58.3 L264.7 57.7 L264.8 57.0 L265.0 56.3 L265.2 55.6 L265.5 54.8 L265.9 53.9 L266.4 53.1 L266.9 52.2 L267.5 51.3 L268.2 50.3 L268.9 49.3 L269.6 48.3 L270.4 47.3 L271.1 46.2 L272.0 45.2 L272.8 44.1 L273.6 43.0 L274.5 41.9 L275.3 40.8 L276.1 39.7 L276.9 38.6 L277.6 37.5 L278.4 36.4 L279.0 35.3 L279.7 34.2 L280.2 33.2 L280.7 32.1 L281.2 31.1 L281.6 30.1 L281.9 29.1 L282.1 28.1 L282.2 27.2 L282.3 26.3 L282.3 25.5 L282.2 24.6 L282.0 23.8 L281.7 23.1 L281.3 22.4 L280.9 21.7 L280.4 21.1 L279.8 20.5 L279.1 20.0 L278.4 19.5 L277.6 19.1 L276.7 18.7 L275.8 18.4 L274.8 18.1 L273.8 17.9 L272.8 17.8 L271.7 17.7 L270.7 17.6 M269.9 61.8 L269.3 61.7 L268.8 61.6 L268.4 61.5 L268.0 61.3 L267.7 61.0 L267.5 60.7 L267.4 60.3 L267.3 59.9 L267.4 59.4 L267.5 58.9 L267.7 58.3 L268.0 57.7 L268.4 57.0 L268.8 56.3 L269.3 55.6 L269.8 54.8 L270.5 53.9 L271.1 53.1 L271.8 52.2 L272.6 51.3 L273.4 50.3 L274.2 49.3 L275.0 48.3 L275.9 47.3 L276.7 46.2 L277.6 45.2 L278.4 44.1 L279.3 43.0 L280.1 41.9 L280.8 40.8 L281.6 39.7 L282.2 38.6 L282.9 37.5 L283.5 36.4 L284.0 35.3 L284.4 34.2 L284.8 33.2 L285.1 32.1 L285.4 31.1 L285.5 30.1 L285.6 29.1 L285.6 28.1 L285.4 27.2 L285.3 26.3 L285.0 25.5 L284.6 24.6 L284.2 23.8 L283.7 23.1 L283.1 22.4 L282.4 21.7 L281.7 21.1 L280.9 20.5 L280.0 20.0 L279.1 19.5 L278.1 19.1 L277.1 18.7 L276.1 18.4 L275.0 18.1 M270.0 61.8 L269.7 61.7 L269.5 61.6 L269.3 61.5 L269.2 61.3 L269.2 61.0 L269.3 60.7 L269.5 60.3 L269.7 59.9 L270.0 59.4 L270.4 58.9 L270.9 58.3 L271.5 57.7 L272.0 57.0 L272.7 56.3 L273.4 55.6 L274.2 54.8 L275.0 53.9 L275.8 53.1 L276.6 52.2 L277.5 51.3 L278.4 50.3 L279.3 49.3 L280.1 48.3 L281.0 47.3 L281.9 46.2 L282.7 45.2 L283.5 44.1 L284.2 43.0 L284.9 41.9 L285.6 40.8 L286.2 39.7 L286.7 38.6 L287.2 37.5 L287.6 36.4 L287.9 35.3 L288.2 34.2 L288.4 33.2 L288.4 32.1 L288.4 31.1 L288.3 30.1 L288.2 29.1 L287.9 28.1 L287.6 27.2 L287.1 26.3 L286.6 25.5 L286.1 24.6 L285.4 23.8 L284.7 23.1 L283.9 22.4 L283.0 21.7 L282.1 21.1 M270.2 61.8 L270.1 61.7 L270.2 61.6 L270.3 61.5 L270.5 61.3 L270.8 61.0 L271.2 60.7 L271.6 60.3 L272.1 59.9 L272.7 59.4 L273.4 58.9 L274.1 58.3 L274.8 57.7 L275.6 57.0 L276.4 56.3 L277.3 55.6 L278.2 54.8 L279.1 53.9 L280.0 53.1 L280.9 52.2 L281.9 51.3 L282.8 50.3 L283.7 49.3 L284.5 48.3 L285.3 47.3 L286.1 46.2 L286.9 45.2 L287.6 44.1 L288.2 43.0 L288.8 41.9 L289.3 40.8 L289.7 39.7 L290.0 38.6 L290.3 37.5 L290.5 36.4 L290.6 35.3 L290.6 34.2 L290.6 33.2 L290.4 32.1 L290.2 31.1 L289.9 30.1 L289.5 29.1 L289.0 28.1 L288.4 27.2 L287.8 26.3 M270.3 61.8 L270.5 61.7 L270.9 61.6 L271.3 61.5 L271.8 61.3 L272.4 61.0 L273.0 60.7 L273.7 60.3 L274.4 59.9 L275.2 59.4 L276.1 58.9 L276.9 58.3 L277.9 57.7 L278.8 57.0 L279.7 56.3 L280.7 55.6 L281.7 54.8 L282.6 53.9 L283.6 53.1 L284.5 52.2 L285.4 51.3 L286.3 50.3 L287.1 49.3 L287.9 48.3 L288.6 47.3 L289.2 46.2 L289.9 45.2 L290.4 44.1 L290.8 43.0 L291.2 41.9 L291.5 40.8 L291.8 39.7 L291.9 38.6 L292.0 37.5 L291.9 36.4 L291.8 35.3 L291.6 34.2 M270.4 61.8 L270.9 61.7 L271.6 61.6 L272.2 61.5 L273.0 61.3 L273.8 61.0 L274.6 60.7 L275.5 60.3 L276.4 59.9 L277.4 59.4 L278.3 58.9 L279.3 58.3 L280.3 57.7 L281.3 57.0 L282.3 56.3 L283.3 55.6 L284.3 54.8 L285.2 53.9 L286.1 53.1 L287.0 52.2 L287.8 51.3 L288.6 50.3 L289.3 49.3 L289.9 48.3 L290.5 47.3 L291.0 46.2 L291.4 45.2 L291.7 44.1 L292.0 43.0 L292.2 41.9 M270.5 61.8 L271.3 61.7 L272.1 61.6 L273.0 61.5 L273.9 61.3 L274.9 61.0 L275.9 60.7 L276.9 60.3 L277.9 59.9 L279.0 59.4 L280.0 58.9 L281.0 58.3 L282.1 57.7 L283.1 57.0 L284.1 56.3 L285.0 55.6 L285.9 54.8 L286.7 53.9 L287.5 53.1 L288.3 52.2 L289.0 51.3 L289.6 50.3 L290.1 49.3 M270.6 61.8 L271.5 61.7 L272.5 61.6 L273.6 61.5 L274.6 61.3 L275.7 61.0 L276.8 60.7 L277.8 60.3 L278.9 59.9 L279.9 59.4 L281.0 58.9 L282.0 58.3 L283.0 57.7 L283.9 57.0 L284.8 56.3 L285.6 55.6 M270.6 61.8 L271.7 61.7 L272.8 61.6 L273.9 61.5 L275.0 61.3 L276.1 61.0 L277.1 60.7 L278.2 60.3 L279.2 59.9" fill="none" stroke="#3d6878" stroke-width="0.6" opacity="0.85"/>
<circle cx="270.2" cy="39.7" r="22.1" fill="url(#gshade)"/>
<path d="M295.8 32.3 L309.2 24.6 M295.8 47.2 L309.4 54.4" stroke="#aab3bc" stroke-width="0.8" fill="none"/>
<path d="M309.8 22.6 Q318.8 40 310.8 59.0 Q311.8 40 309.8 22.6 Z" fill="url(#glens)" stroke="#7890a6" stroke-width="0.6"/>
<path d="M331.8 18.0 Q336.5 18.6 338.6 23.2 Q340.2 28 338.2 32.4 Q336.8 35 335.8 36.8 Q334.8 39.2 337.2 39.0 Q339.8 38.4 339.2 35.8 Q338.2 33.8 336.0 35.4 Q334.6 37.4 336.8 40.6 Q339.0 43.6 337.2 47.0 Q335.6 50.2 337.6 53.4 Q339.8 57.6 339.8 61.0 Q340.0 63.6 341.8 65.0" fill="none" stroke="#1e1e1e" stroke-width="0.85"/>
<path d="M338.4 28.6 L329.0 28.8 L324.8 22.0 M329.0 28.8 L318.6 32.4 M337.4 50.6 L328.6 52.4 L321.2 49.4 M328.6 52.4 L324.8 60.4" fill="none" stroke="#e58c9c" stroke-width="0.9"/>
<circle cx="324.7" cy="21.6" r="1.5" fill="#e58c9c"/>
<circle cx="318.4" cy="32.5" r="1.5" fill="#e58c9c"/>
<circle cx="321.1" cy="49.3" r="1.5" fill="#e58c9c"/>
<circle cx="324.7" cy="60.6" r="1.5" fill="#e58c9c"/>
<text x="340.40" y="20.20" font-size="5.6" text-anchor="middle" fill="#3b3bd6" stroke="#3b3bd6" stroke-width="0.3" font-style="italic" font-weight="normal">R</text>
<text x="345.20" y="37.00" font-size="5.6" text-anchor="middle" fill="#3b3bd6" stroke="#3b3bd6" stroke-width="0.3" font-style="italic" font-weight="normal">R</text>
<text x="342.80" y="61.60" font-size="5.6" text-anchor="middle" fill="#3b3bd6" stroke="#3b3bd6" stroke-width="0.3" font-style="italic" font-weight="normal">R</text>
<g transform="translate(40.4,89.2) scale(1.0)" fill="none" stroke="#56616c" stroke-width="1.0" stroke-linejoin="round"><path d="M-6.0 -1.9 Q-2.6 -3.2 0.8 -2.7 Q-0.6 0.2 -3.8 2.5 Q-5.6 0.2 -6.0 -1.9Z"/><path d="M-0.4 -2.4 Q3.2 -2.6 6.4 -1.8 Q4.2 1.2 0.6 2.9 Q-1.0 1.0 -0.4 -2.4Z"/></g>
<circle cx="102.3" cy="89.3" r="3.8" fill="url(#gball)"/>
<text x="55.60" y="92.70" font-size="8.0" text-anchor="start" fill="#111" stroke="#111" stroke-width="0.3" >CPEN</text>
<text x="110.9" y="92.7" font-size="8" fill="#111" stroke="#111" stroke-width="0.3">BaTiO<tspan font-size="5.3" dy="1.8">3</tspan></text>
<path d="M156.2 89.6 H177.5" stroke="#ee3b3b" stroke-width="1.1" stroke-dasharray="3.6 2.3"/>
<text x="181.70" y="92.70" font-size="8.1" text-anchor="start" fill="#111" stroke="#111" stroke-width="0.3" >Chemical bond</text>
<circle cx="32.8" cy="188.6" r="14.6" fill="url(#gpurple)"/>
<text x="32.80" y="191.12" font-size="7.0" text-anchor="middle" fill="#f7b010" stroke="#f7b010" stroke-width="0.3" >BT</text>
<path d="M75.8 127.4 V249.3" stroke="#111" stroke-width="0.9"/>
<path d="M48.7 187.3 H99.6" stroke="#111" stroke-width="1.0"/>
<path d="M97.39999999999999 185.20000000000002 L101.6 187.3 L97.39999999999999 189.4 L98.3 187.3 Z" fill="#111" stroke="#111" stroke-width="0.3"/>
<path d="M75.8 127.4 H99.6" stroke="#111" stroke-width="1.0"/>
<path d="M97.39999999999999 125.30000000000001 L101.6 127.4 L97.39999999999999 129.5 L98.3 127.4 Z" fill="#111" stroke="#111" stroke-width="0.3"/>
<path d="M75.8 249.3 H100.0" stroke="#111" stroke-width="1.0"/>
<path d="M97.8 247.20000000000002 L102.0 249.3 L97.8 251.4 L98.7 249.3 Z" fill="#111" stroke="#111" stroke-width="0.3"/>
<text x="54.40" y="184.90" font-size="6.0" textLength="17.60" lengthAdjust="spacingAndGlyphs" fill="#111" stroke="#111" stroke-width="0.3" >Aniline</text>
<text x="80.80" y="124.00" font-size="6.0" textLength="14.20" lengthAdjust="spacingAndGlyphs" fill="#111" stroke="#111" stroke-width="0.3" >0.1ml</text>
<text x="79.80" y="184.90" font-size="6.0" textLength="15.20" lengthAdjust="spacingAndGlyphs" fill="#111" stroke="#111" stroke-width="0.3" >0.2ml</text>
<text x="79.80" y="245.40" font-size="6.0" textLength="15.20" lengthAdjust="spacingAndGlyphs" fill="#111" stroke="#111" stroke-width="0.3" >0.3ml</text>
<circle cx="26" cy="221.8" r="1.35" fill="#1b9448"/>
<text x="46.60" y="224.10" font-size="6.0" textLength="18.80" lengthAdjust="spacingAndGlyphs" fill="#111" stroke="#111" stroke-width="0.3" >Aniline</text>
<path d="M18.6 243.0 C21.0 236.0 24.0 236.4 26.4 240.6 C28.6 244.6 31.6 243.4 33.8 239.0" fill="none" stroke="#2e86de" stroke-width="1.25" stroke-linecap="round"/>
<text x="39.40" y="238.50" font-size="6.0" textLength="30.90" lengthAdjust="spacingAndGlyphs" fill="#111" stroke="#111" stroke-width="0.3" >Ammonium</text>
<text x="43.20" y="245.80" font-size="6.0" textLength="25.70" lengthAdjust="spacingAndGlyphs" fill="#111" stroke="#111" stroke-width="0.3" >persulfate</text>
<circle cx="132.8" cy="127.0" r="19.3" fill="#c0d9eb"/>
<circle cx="130.9" cy="141.6" r="1.05" fill="#128c40"/>
<circle cx="125.2" cy="139.9" r="1.05" fill="#128c40"/>
<circle cx="121.7" cy="136.4" r="1.05" fill="#128c40"/>
<circle cx="118.3" cy="130.1" r="1.05" fill="#128c40"/>
<circle cx="117.4" cy="125.4" r="1.05" fill="#128c40"/>
<circle cx="119.4" cy="119.3" r="1.05" fill="#128c40"/>
<circle cx="123.4" cy="114.8" r="1.05" fill="#128c40"/>
<circle cx="128.1" cy="112.3" r="1.05" fill="#128c40"/>
<circle cx="135.3" cy="111.8" r="1.05" fill="#128c40"/>
<circle cx="140.7" cy="113.7" r="1.05" fill="#128c40"/>
<circle cx="144.3" cy="116.7" r="1.05" fill="#128c40"/>
<circle cx="147.3" cy="122.9" r="1.05" fill="#128c40"/>
<circle cx="148.1" cy="127.7" r="1.05" fill="#128c40"/>
<circle cx="146.1" cy="134.2" r="1.05" fill="#128c40"/>
<circle cx="141.7" cy="139.2" r="1.05" fill="#128c40"/>
<circle cx="136.1" cy="141.4" r="1.05" fill="#128c40"/>
<circle cx="127.2" cy="143.7" r="1.05" fill="#128c40"/>
<circle cx="121.6" cy="141.1" r="1.05" fill="#128c40"/>
<circle cx="119.1" cy="137.8" r="1.05" fill="#128c40"/>
<circle cx="115.6" cy="132.7" r="1.05" fill="#128c40"/>
<circle cx="114.9" cy="126.4" r="1.05" fill="#128c40"/>
<circle cx="116.0" cy="120.9" r="1.05" fill="#128c40"/>
<circle cx="119.1" cy="115.7" r="1.05" fill="#128c40"/>
<circle cx="123.8" cy="111.5" r="1.05" fill="#128c40"/>
<circle cx="129.9" cy="109.2" r="1.05" fill="#128c40"/>
<circle cx="135.9" cy="109.1" r="1.05" fill="#128c40"/>
<circle cx="141.6" cy="111.3" r="1.05" fill="#128c40"/>
<circle cx="145.0" cy="113.6" r="1.05" fill="#128c40"/>
<circle cx="149.4" cy="119.8" r="1.05" fill="#128c40"/>
<circle cx="150.6" cy="124.8" r="1.05" fill="#128c40"/>
<circle cx="150.6" cy="129.9" r="1.05" fill="#128c40"/>
<circle cx="147.9" cy="136.0" r="1.05" fill="#128c40"/>
<circle cx="145.2" cy="140.0" r="1.05" fill="#128c40"/>
<circle cx="138.3" cy="143.5" r="1.05" fill="#128c40"/>
<circle cx="133.0" cy="144.6" r="1.05" fill="#128c40"/>
<circle cx="132.8" cy="126.6" r="13.0" fill="url(#gpurple)"/>
<text x="132.80" y="128.98" font-size="6.6" text-anchor="middle" fill="#f7b010" stroke="#f7b010" stroke-width="0.3" >BT</text>
<circle cx="226.0" cy="126.3" r="19.2" fill="#c0d9eb"/>
<path d="M239.0 123.7 L239.5 124.2 L240.0 125.0 L240.4 125.9 L240.9 126.6 L241.3 126.9 L241.7 126.8 L242.1 126.5 L242.5 126.3 L242.9 126.4 L243.3 127.0 L243.6 127.9 L243.9 128.9" fill="none" stroke="#1f74d6" stroke-width="0.85" stroke-linejoin="round"/>
<path d="M238.3 131.2 L238.3 132.0 L238.5 132.6 L238.8 132.7 L239.2 132.7 L239.7 132.6 L240.0 132.7 L240.2 133.2 L240.2 134.0 L240.0 135.0 L239.9 135.9 L239.9 136.6 L240.0 137.0" fill="none" stroke="#1f74d6" stroke-width="0.85" stroke-linejoin="round"/>
<path d="M233.4 137.3 L232.9 138.0 L232.5 138.6 L232.4 139.0 L232.6 139.2 L233.0 139.4 L233.3 139.7 L233.3 140.0 L233.0 140.5 L232.5 141.1 L231.8 141.8 L231.2 142.4 L230.9 142.8" fill="none" stroke="#1f74d6" stroke-width="0.85" stroke-linejoin="round"/>
<path d="M223.3 139.2 L222.5 139.5 L222.1 139.8 L222.1 140.2 L222.2 140.6 L222.3 141.1 L222.1 141.5 L221.6 141.7 L220.7 141.9 L219.7 142.0 L218.8 142.0 L218.2 142.2 L217.9 142.5" fill="none" stroke="#1f74d6" stroke-width="0.85" stroke-linejoin="round"/>
<path d="M221.0 138.5 L221.1 139.0 L221.1 139.5 L220.9 139.9 L220.3 140.1 L219.4 140.1 L218.5 140.1 L217.6 140.1 L217.0 140.3 L216.7 140.6 L216.7 141.0 L216.6 141.5 L216.3 141.8" fill="none" stroke="#1f74d6" stroke-width="0.85" stroke-linejoin="round"/>
<path d="M215.8 134.7 L215.0 134.4 L214.2 134.0 L213.5 133.8 L213.0 133.7 L212.6 133.9 L212.3 134.3 L211.9 134.6 L211.5 134.7 L210.9 134.5 L210.1 134.0 L209.4 133.4 L208.7 132.9" fill="none" stroke="#1f74d6" stroke-width="0.85" stroke-linejoin="round"/>
<path d="M213.1 123.6 L212.7 123.7 L212.3 123.9 L212.0 123.8 L211.7 123.4 L211.6 122.7 L211.5 121.8 L211.4 121.0 L211.3 120.4 L211.0 120.1 L210.7 120.1 L210.3 120.1 L210.0 120.0" fill="none" stroke="#1f74d6" stroke-width="0.85" stroke-linejoin="round"/>
<path d="M214.4 120.0 L214.0 119.9 L213.9 119.4 L213.9 118.6 L214.1 117.7 L214.3 116.9 L214.3 116.3 L214.1 115.9 L213.8 115.8 L213.4 115.7 L213.1 115.5 L213.0 115.0 L213.2 114.3" fill="none" stroke="#1f74d6" stroke-width="0.85" stroke-linejoin="round"/>
<path d="M219.9 114.6 L219.5 114.4 L219.4 114.1 L219.6 113.6 L220.1 113.0 L220.8 112.4 L221.3 111.9 L221.6 111.4 L221.6 111.1 L221.4 110.8 L221.2 110.6 L221.1 110.2 L221.4 109.8" fill="none" stroke="#1f74d6" stroke-width="0.85" stroke-linejoin="round"/>
<path d="M228.0 113.2 L227.9 112.8 L227.6 112.4 L227.3 111.9 L227.4 111.5 L228.0 111.1 L228.9 110.9 L230.0 110.7 L230.9 110.5 L231.4 110.2 L231.6 109.8 L231.4 109.4 L231.3 108.9" fill="none" stroke="#1f74d6" stroke-width="0.85" stroke-linejoin="round"/>
<path d="M232.7 114.9 L233.6 115.0 L234.2 115.0 L234.6 114.8 L234.7 114.4 L234.8 114.0 L234.9 113.7 L235.3 113.5 L236.0 113.5 L236.9 113.8 L237.8 114.1 L238.5 114.2 L239.0 114.2" fill="none" stroke="#1f74d6" stroke-width="0.85" stroke-linejoin="round"/>
<path d="M237.3 119.5 L237.8 119.3 L238.3 119.5 L239.1 119.9 L239.8 120.5 L240.5 121.1 L241.1 121.4 L241.6 121.3 L241.9 121.0 L242.3 120.7 L242.7 120.5 L243.3 120.8 L243.9 121.4" fill="none" stroke="#1f74d6" stroke-width="0.85" stroke-linejoin="round"/>
<circle cx="238.5" cy="134.7" r="1.05" fill="#128c40"/>
<circle cx="234.3" cy="138.8" r="1.05" fill="#128c40"/>
<circle cx="228.8" cy="141.3" r="1.05" fill="#128c40"/>
<circle cx="224.2" cy="141.0" r="1.05" fill="#128c40"/>
<circle cx="217.4" cy="139.1" r="1.05" fill="#128c40"/>
<circle cx="213.9" cy="135.2" r="1.05" fill="#128c40"/>
<circle cx="211.3" cy="129.3" r="1.05" fill="#128c40"/>
<circle cx="211.2" cy="123.8" r="1.05" fill="#128c40"/>
<circle cx="213.1" cy="118.3" r="1.05" fill="#128c40"/>
<circle cx="217.2" cy="114.2" r="1.05" fill="#128c40"/>
<circle cx="223.4" cy="111.8" r="1.05" fill="#128c40"/>
<circle cx="228.9" cy="111.3" r="1.05" fill="#128c40"/>
<circle cx="233.8" cy="113.6" r="1.05" fill="#128c40"/>
<circle cx="238.6" cy="118.3" r="1.05" fill="#128c40"/>
<circle cx="240.6" cy="122.6" r="1.05" fill="#128c40"/>
<circle cx="240.5" cy="129.3" r="1.05" fill="#128c40"/>
<circle cx="239.3" cy="137.9" r="1.05" fill="#128c40"/>
<circle cx="233.9" cy="142.2" r="1.05" fill="#128c40"/>
<circle cx="228.2" cy="143.7" r="1.05" fill="#128c40"/>
<circle cx="223.5" cy="144.0" r="1.05" fill="#128c40"/>
<circle cx="216.9" cy="141.6" r="1.05" fill="#128c40"/>
<circle cx="213.6" cy="138.7" r="1.05" fill="#128c40"/>
<circle cx="209.9" cy="133.4" r="1.05" fill="#128c40"/>
<circle cx="208.0" cy="127.2" r="1.05" fill="#128c40"/>
<circle cx="208.7" cy="122.7" r="1.05" fill="#128c40"/>
<circle cx="211.3" cy="116.0" r="1.05" fill="#128c40"/>
<circle cx="215.6" cy="112.0" r="1.05" fill="#128c40"/>
<circle cx="219.5" cy="109.9" r="1.05" fill="#128c40"/>
<circle cx="226.5" cy="108.7" r="1.05" fill="#128c40"/>
<circle cx="231.4" cy="109.4" r="1.05" fill="#128c40"/>
<circle cx="236.7" cy="112.1" r="1.05" fill="#128c40"/>
<circle cx="241.1" cy="117.4" r="1.05" fill="#128c40"/>
<circle cx="243.2" cy="120.7" r="1.05" fill="#128c40"/>
<circle cx="244.0" cy="128.5" r="1.05" fill="#128c40"/>
<circle cx="242.7" cy="133.4" r="1.05" fill="#128c40"/>
<circle cx="226.0" cy="126.3" r="13.0" fill="url(#gpurple)"/>
<text x="226.00" y="128.68" font-size="6.6" text-anchor="middle" fill="#f7b010" stroke="#f7b010" stroke-width="0.3" >BT</text>
<path d="M155.7 127.4 H196.0" stroke="#111" stroke-width="1.0"/>
<path d="M193.8 125.30000000000001 L198.0 127.4 L193.8 129.5 L194.7 127.4 Z" fill="#111" stroke="#111" stroke-width="0.3"/>
<text x="162.20" y="125.20" font-size="6.5" textLength="27.80" lengthAdjust="spacingAndGlyphs" fill="#111" stroke="#111" stroke-width="0.3" >0.1 M HCl</text>
<text x="159.60" y="134.60" font-size="6.0" textLength="30.20" lengthAdjust="spacingAndGlyphs" fill="#111" stroke="#111" stroke-width="0.3" >Ammonium</text>
<text x="163.20" y="140.90" font-size="6.0" textLength="25.00" lengthAdjust="spacingAndGlyphs" fill="#111" stroke="#111" stroke-width="0.3" >persulfate</text>
<path d="M254.2 127.4 H303.0" stroke="#111" stroke-width="1.0"/>
<path d="M300.8 125.30000000000001 L305.0 127.4 L300.8 129.5 L301.7 127.4 Z" fill="#111" stroke="#111" stroke-width="0.3"/>
<text x="268.40" y="116.80" font-size="6.0" textLength="16.00" lengthAdjust="spacingAndGlyphs" fill="#111" stroke="#111" stroke-width="0.3" >in-situ</text>
<text x="258.20" y="124.60" font-size="6.0" textLength="38.40" lengthAdjust="spacingAndGlyphs" fill="#111" stroke="#111" stroke-width="0.3" >polymerization</text>
<text x="269.20" y="134.70" font-size="6.0" textLength="17.00" lengthAdjust="spacingAndGlyphs" fill="#111" stroke="#111" stroke-width="0.3" >0~5 ℃</text>
<circle cx="130.4" cy="188.4" r="21.2" fill="#c0d9eb"/>
<circle cx="145.1" cy="184.4" r="1.05" fill="#128c40"/>
<circle cx="145.4" cy="191.4" r="1.05" fill="#128c40"/>
<circle cx="143.4" cy="196.3" r="1.05" fill="#128c40"/>
<circle cx="139.8" cy="200.5" r="1.05" fill="#128c40"/>
<circle cx="135.2" cy="203.2" r="1.05" fill="#128c40"/>
<circle cx="128.9" cy="204.0" r="1.05" fill="#128c40"/>
<circle cx="123.6" cy="202.4" r="1.05" fill="#128c40"/>
<circle cx="118.2" cy="197.8" r="1.05" fill="#128c40"/>
<circle cx="115.6" cy="192.0" r="1.05" fill="#128c40"/>
<circle cx="116.0" cy="186.8" r="1.05" fill="#128c40"/>
<circle cx="118.0" cy="181.1" r="1.05" fill="#128c40"/>
<circle cx="121.1" cy="177.1" r="1.05" fill="#128c40"/>
<circle cx="126.8" cy="174.4" r="1.05" fill="#128c40"/>
<circle cx="133.3" cy="174.0" r="1.05" fill="#128c40"/>
<circle cx="137.7" cy="175.9" r="1.05" fill="#128c40"/>
<circle cx="142.8" cy="180.3" r="1.05" fill="#128c40"/>
<circle cx="148.1" cy="187.6" r="1.05" fill="#128c40"/>
<circle cx="147.9" cy="192.2" r="1.05" fill="#128c40"/>
<circle cx="144.9" cy="198.6" r="1.05" fill="#128c40"/>
<circle cx="141.2" cy="203.1" r="1.05" fill="#128c40"/>
<circle cx="135.9" cy="205.7" r="1.05" fill="#128c40"/>
<circle cx="131.7" cy="206.4" r="1.05" fill="#128c40"/>
<circle cx="124.3" cy="204.9" r="1.05" fill="#128c40"/>
<circle cx="120.3" cy="202.9" r="1.05" fill="#128c40"/>
<circle cx="115.8" cy="198.4" r="1.05" fill="#128c40"/>
<circle cx="113.2" cy="193.3" r="1.05" fill="#128c40"/>
<circle cx="113.1" cy="188.5" r="1.05" fill="#128c40"/>
<circle cx="114.2" cy="182.6" r="1.05" fill="#128c40"/>
<circle cx="116.5" cy="177.3" r="1.05" fill="#128c40"/>
<circle cx="122.7" cy="173.1" r="1.05" fill="#128c40"/>
<circle cx="127.4" cy="171.4" r="1.05" fill="#128c40"/>
<circle cx="132.8" cy="171.2" r="1.05" fill="#128c40"/>
<circle cx="139.0" cy="173.1" r="1.05" fill="#128c40"/>
<circle cx="143.0" cy="176.5" r="1.05" fill="#128c40"/>
<circle cx="146.2" cy="181.2" r="1.05" fill="#128c40"/>
<circle cx="130.6" cy="189.0" r="12.9" fill="url(#gpurple)"/>
<text x="130.60" y="191.38" font-size="6.6" text-anchor="middle" fill="#f7b010" stroke="#f7b010" stroke-width="0.3" >BT</text>
<circle cx="225.4" cy="188.2" r="21.1" fill="#c0d9eb"/>
<path d="M239.2 190.0 L239.6 189.8 L240.1 189.6 L240.6 189.7 L241.0 189.9 L241.4 190.5 L241.8 191.2 L242.1 191.9 L242.5 192.4 L242.9 192.6 L243.3 192.7 L243.8 192.7 L244.2 192.8" fill="none" stroke="#1f74d6" stroke-width="0.85" stroke-linejoin="round"/>
<path d="M238.6 193.2 L239.1 193.2 L239.5 193.7 L239.7 194.5 L239.8 195.5 L239.9 196.3 L240.1 197.0 L240.5 197.2 L241.0 197.2 L241.6 197.2 L242.0 197.4 L242.3 197.9 L242.3 198.7" fill="none" stroke="#1f74d6" stroke-width="0.85" stroke-linejoin="round"/>
<path d="M235.0 199.1 L235.2 199.4 L235.2 200.0 L234.9 200.7 L234.5 201.5 L234.2 202.2 L234.0 202.8 L234.2 203.1 L234.5 203.4 L234.8 203.6 L235.0 204.0 L234.8 204.5 L234.4 205.2" fill="none" stroke="#1f74d6" stroke-width="0.85" stroke-linejoin="round"/>
<path d="M230.0 202.1 L229.8 202.6 L229.3 203.2 L228.6 203.8 L227.9 204.3 L227.5 204.8 L227.3 205.3 L227.5 205.7 L227.6 206.1 L227.7 206.5 L227.4 207.0 L226.7 207.4 L225.8 207.9" fill="none" stroke="#1f74d6" stroke-width="0.85" stroke-linejoin="round"/>
<path d="M221.0 202.0 L220.7 202.3 L220.7 202.8 L220.7 203.3 L220.5 203.7 L220.1 204.0 L219.2 204.1 L218.2 204.2 L217.2 204.2 L216.3 204.2 L215.8 204.4 L215.5 204.8 L215.4 205.2" fill="none" stroke="#1f74d6" stroke-width="0.85" stroke-linejoin="round"/>
<path d="M216.3 199.0 L216.1 199.5 L215.7 199.9 L215.2 200.1 L214.4 200.1 L213.4 199.8 L212.4 199.4 L211.5 199.1 L210.8 199.1 L210.2 199.3 L209.8 199.6 L209.3 199.9 L208.7 200.0" fill="none" stroke="#1f74d6" stroke-width="0.85" stroke-linejoin="round"/>
<path d="M212.6 192.8 L212.3 193.1 L211.9 193.5 L211.4 193.6 L210.9 193.3 L210.2 192.6 L209.6 191.6 L208.9 190.7 L208.4 190.1 L207.9 189.9 L207.4 190.0 L207.0 190.2 L206.5 190.2" fill="none" stroke="#1f74d6" stroke-width="0.85" stroke-linejoin="round"/>
<path d="M212.3 187.7 L211.7 187.7 L211.1 187.6 L210.6 187.1 L210.1 186.4 L209.7 185.5 L209.3 184.5 L208.9 183.7 L208.4 183.2 L207.9 182.9 L207.3 182.7 L206.8 182.4 L206.3 181.8" fill="none" stroke="#1f74d6" stroke-width="0.85" stroke-linejoin="round"/>
<path d="M214.0 182.6 L214.0 181.5 L214.0 180.4 L214.0 179.5 L213.7 179.0 L213.3 178.7 L212.7 178.5 L212.2 178.2 L211.9 177.6 L211.9 176.8 L212.1 175.7 L212.4 174.5 L212.6 173.5" fill="none" stroke="#1f74d6" stroke-width="0.85" stroke-linejoin="round"/>
<path d="M217.7 178.4 L217.4 177.9 L217.3 177.3 L217.5 176.5 L217.8 175.6 L218.2 174.7 L218.4 174.0 L218.4 173.3 L218.2 172.8 L218.0 172.3 L217.8 171.7 L217.8 171.1 L218.1 170.3" fill="none" stroke="#1f74d6" stroke-width="0.85" stroke-linejoin="round"/>
<path d="M223.8 175.9 L224.2 175.2 L224.1 174.5 L223.8 173.9 L223.5 173.2 L223.3 172.6 L223.5 171.9 L224.2 171.1 L225.1 170.4 L226.0 169.7 L226.7 169.1 L226.9 168.4 L226.9 167.8" fill="none" stroke="#1f74d6" stroke-width="0.85" stroke-linejoin="round"/>
<path d="M227.1 175.9 L227.7 175.3 L228.0 174.6 L227.9 174.0 L227.7 173.3 L227.5 172.6 L227.7 171.9 L228.4 171.4 L229.4 170.9 L230.5 170.5 L231.4 170.1 L232.0 169.6 L232.2 169.0" fill="none" stroke="#1f74d6" stroke-width="0.85" stroke-linejoin="round"/>
<path d="M232.4 177.6 L233.2 177.3 L234.1 177.1 L234.9 176.9 L235.6 176.6 L236.0 176.2 L236.3 175.6 L236.6 175.0 L237.1 174.6 L237.7 174.3 L238.6 174.3 L239.6 174.3 L240.5 174.4" fill="none" stroke="#1f74d6" stroke-width="0.85" stroke-linejoin="round"/>
<path d="M238.2 184.2 L238.9 184.7 L239.6 185.4 L240.3 185.9 L240.9 186.2 L241.3 186.0 L241.7 185.6 L242.1 185.1 L242.6 184.9 L243.1 185.1 L243.7 185.8 L244.3 186.7 L244.8 187.5" fill="none" stroke="#1f74d6" stroke-width="0.85" stroke-linejoin="round"/>
<circle cx="214.4" cy="179.0" r="1.05" fill="#128c40"/>
<circle cx="218.9" cy="175.1" r="1.05" fill="#128c40"/>
<circle cx="224.6" cy="174.0" r="1.05" fill="#128c40"/>
<circle cx="230.7" cy="174.1" r="1.05" fill="#128c40"/>
<circle cx="234.8" cy="176.8" r="1.05" fill="#128c40"/>
<circle cx="239.5" cy="181.8" r="1.05" fill="#128c40"/>
<circle cx="240.7" cy="187.2" r="1.05" fill="#128c40"/>
<circle cx="240.5" cy="193.1" r="1.05" fill="#128c40"/>
<circle cx="237.1" cy="199.2" r="1.05" fill="#128c40"/>
<circle cx="233.0" cy="202.5" r="1.05" fill="#128c40"/>
<circle cx="227.3" cy="204.3" r="1.05" fill="#128c40"/>
<circle cx="221.8" cy="203.9" r="1.05" fill="#128c40"/>
<circle cx="215.2" cy="200.2" r="1.05" fill="#128c40"/>
<circle cx="212.0" cy="195.7" r="1.05" fill="#128c40"/>
<circle cx="210.1" cy="190.1" r="1.05" fill="#128c40"/>
<circle cx="211.0" cy="184.1" r="1.05" fill="#128c40"/>
<circle cx="213.6" cy="174.9" r="1.05" fill="#128c40"/>
<circle cx="219.7" cy="171.8" r="1.05" fill="#128c40"/>
<circle cx="223.7" cy="170.4" r="1.05" fill="#128c40"/>
<circle cx="231.4" cy="171.5" r="1.05" fill="#128c40"/>
<circle cx="235.9" cy="173.6" r="1.05" fill="#128c40"/>
<circle cx="239.6" cy="177.5" r="1.05" fill="#128c40"/>
<circle cx="242.7" cy="182.6" r="1.05" fill="#128c40"/>
<circle cx="243.4" cy="188.8" r="1.05" fill="#128c40"/>
<circle cx="242.6" cy="195.5" r="1.05" fill="#128c40"/>
<circle cx="239.8" cy="199.9" r="1.05" fill="#128c40"/>
<circle cx="235.2" cy="204.2" r="1.05" fill="#128c40"/>
<circle cx="229.2" cy="206.2" r="1.05" fill="#128c40"/>
<circle cx="224.1" cy="206.4" r="1.05" fill="#128c40"/>
<circle cx="217.8" cy="204.9" r="1.05" fill="#128c40"/>
<circle cx="213.4" cy="202.0" r="1.05" fill="#128c40"/>
<circle cx="209.3" cy="197.1" r="1.05" fill="#128c40"/>
<circle cx="207.3" cy="191.8" r="1.05" fill="#128c40"/>
<circle cx="207.7" cy="185.1" r="1.05" fill="#128c40"/>
<circle cx="209.6" cy="179.4" r="1.05" fill="#128c40"/>
<circle cx="225.7" cy="189.3" r="13.3" fill="url(#gpurple)"/>
<text x="225.70" y="191.68" font-size="6.6" text-anchor="middle" fill="#f7b010" stroke="#f7b010" stroke-width="0.3" >BT</text>
<path d="M155.7 187.6 H196.0" stroke="#111" stroke-width="1.0"/>
<path d="M193.8 185.5 L198.0 187.6 L193.8 189.7 L194.7 187.6 Z" fill="#111" stroke="#111" stroke-width="0.3"/>
<text x="162.20" y="185.40" font-size="6.5" textLength="27.80" lengthAdjust="spacingAndGlyphs" fill="#111" stroke="#111" stroke-width="0.3" >0.1 M HCl</text>
<text x="159.60" y="194.80" font-size="6.0" textLength="30.20" lengthAdjust="spacingAndGlyphs" fill="#111" stroke="#111" stroke-width="0.3" >Ammonium</text>
<text x="163.20" y="201.10" font-size="6.0" textLength="25.00" lengthAdjust="spacingAndGlyphs" fill="#111" stroke="#111" stroke-width="0.3" >persulfate</text>
<path d="M254.2 187.6 H303.0" stroke="#111" stroke-width="1.0"/>
<path d="M300.8 185.5 L305.0 187.6 L300.8 189.7 L301.7 187.6 Z" fill="#111" stroke="#111" stroke-width="0.3"/>
<text x="268.40" y="177.00" font-size="6.0" textLength="16.00" lengthAdjust="spacingAndGlyphs" fill="#111" stroke="#111" stroke-width="0.3" >in-situ</text>
<text x="258.20" y="184.80" font-size="6.0" textLength="38.40" lengthAdjust="spacingAndGlyphs" fill="#111" stroke="#111" stroke-width="0.3" >polymerization</text>
<text x="269.20" y="194.90" font-size="6.0" textLength="17.00" lengthAdjust="spacingAndGlyphs" fill="#111" stroke="#111" stroke-width="0.3" >0~5 ℃</text>
<circle cx="129.4" cy="249.4" r="24.3" fill="#c0d9eb"/>
<circle cx="139.9" cy="237.2" r="1.05" fill="#128c40"/>
<circle cx="144.3" cy="241.9" r="1.05" fill="#128c40"/>
<circle cx="146.0" cy="247.1" r="1.05" fill="#128c40"/>
<circle cx="145.3" cy="254.2" r="1.05" fill="#128c40"/>
<circle cx="143.1" cy="258.3" r="1.05" fill="#128c40"/>
<circle cx="138.1" cy="263.1" r="1.05" fill="#128c40"/>
<circle cx="131.8" cy="265.2" r="1.05" fill="#128c40"/>
<circle cx="127.2" cy="264.4" r="1.05" fill="#128c40"/>
<circle cx="121.7" cy="261.9" r="1.05" fill="#128c40"/>
<circle cx="116.7" cy="257.1" r="1.05" fill="#128c40"/>
<circle cx="115.3" cy="250.9" r="1.05" fill="#128c40"/>
<circle cx="115.9" cy="245.0" r="1.05" fill="#128c40"/>
<circle cx="117.9" cy="240.2" r="1.05" fill="#128c40"/>
<circle cx="122.2" cy="236.8" r="1.05" fill="#128c40"/>
<circle cx="129.0" cy="234.2" r="1.05" fill="#128c40"/>
<circle cx="134.2" cy="234.4" r="1.05" fill="#128c40"/>
<circle cx="143.4" cy="237.4" r="1.05" fill="#128c40"/>
<circle cx="146.6" cy="241.6" r="1.05" fill="#128c40"/>
<circle cx="148.1" cy="247.7" r="1.05" fill="#128c40"/>
<circle cx="148.1" cy="253.9" r="1.05" fill="#128c40"/>
<circle cx="145.7" cy="259.0" r="1.05" fill="#128c40"/>
<circle cx="142.1" cy="263.0" r="1.05" fill="#128c40"/>
<circle cx="136.0" cy="266.4" r="1.05" fill="#128c40"/>
<circle cx="129.6" cy="267.9" r="1.05" fill="#128c40"/>
<circle cx="125.3" cy="267.3" r="1.05" fill="#128c40"/>
<circle cx="119.3" cy="264.3" r="1.05" fill="#128c40"/>
<circle cx="114.9" cy="259.1" r="1.05" fill="#128c40"/>
<circle cx="112.4" cy="253.8" r="1.05" fill="#128c40"/>
<circle cx="112.3" cy="247.6" r="1.05" fill="#128c40"/>
<circle cx="113.3" cy="241.8" r="1.05" fill="#128c40"/>
<circle cx="116.8" cy="237.0" r="1.05" fill="#128c40"/>
<circle cx="120.6" cy="234.0" r="1.05" fill="#128c40"/>
<circle cx="126.6" cy="231.5" r="1.05" fill="#128c40"/>
<circle cx="133.3" cy="231.5" r="1.05" fill="#128c40"/>
<circle cx="138.0" cy="232.9" r="1.05" fill="#128c40"/>
<circle cx="146.9" cy="237.7" r="1.05" fill="#128c40"/>
<circle cx="150.0" cy="243.5" r="1.05" fill="#128c40"/>
<circle cx="150.9" cy="247.5" r="1.05" fill="#128c40"/>
<circle cx="150.2" cy="253.5" r="1.05" fill="#128c40"/>
<circle cx="147.7" cy="260.4" r="1.05" fill="#128c40"/>
<circle cx="144.2" cy="264.8" r="1.05" fill="#128c40"/>
<circle cx="139.4" cy="267.9" r="1.05" fill="#128c40"/>
<circle cx="134.5" cy="269.5" r="1.05" fill="#128c40"/>
<circle cx="127.2" cy="270.3" r="1.05" fill="#128c40"/>
<circle cx="121.8" cy="268.9" r="1.05" fill="#128c40"/>
<circle cx="117.3" cy="265.9" r="1.05" fill="#128c40"/>
<circle cx="112.7" cy="261.9" r="1.05" fill="#128c40"/>
<circle cx="110.5" cy="257.3" r="1.05" fill="#128c40"/>
<circle cx="108.8" cy="251.0" r="1.05" fill="#128c40"/>
<circle cx="109.6" cy="244.8" r="1.05" fill="#128c40"/>
<circle cx="111.6" cy="239.1" r="1.05" fill="#128c40"/>
<circle cx="116.0" cy="233.9" r="1.05" fill="#128c40"/>
<circle cx="121.2" cy="230.7" r="1.05" fill="#128c40"/>
<circle cx="125.5" cy="229.3" r="1.05" fill="#128c40"/>
<circle cx="130.9" cy="228.4" r="1.05" fill="#128c40"/>
<circle cx="138.1" cy="230.5" r="1.05" fill="#128c40"/>
<circle cx="142.1" cy="232.6" r="1.05" fill="#128c40"/>
<circle cx="130.8" cy="249.5" r="13.4" fill="url(#gpurple)"/>
<text x="130.80" y="251.88" font-size="6.6" text-anchor="middle" fill="#f7b010" stroke="#f7b010" stroke-width="0.3" >BT</text>
<circle cx="223.7" cy="249.4" r="24.2" fill="#c0d9eb"/>
<path d="M238.4 250.1 L239.0 250.6 L239.6 251.4 L240.1 252.4 L240.6 253.2 L241.1 253.6 L241.7 253.8 L242.3 253.8 L243.0 253.8 L243.6 254.1 L244.0 254.8 L244.4 255.8 L244.7 257.0" fill="none" stroke="#1f74d6" stroke-width="0.85" stroke-linejoin="round"/>
<path d="M237.7 253.9 L238.3 254.4 L239.0 254.6 L239.7 254.6 L240.4 254.7 L241.0 255.1 L241.4 255.8 L241.7 256.9 L242.0 258.0 L242.2 259.1 L242.6 259.9 L243.1 260.4 L243.7 260.7" fill="none" stroke="#1f74d6" stroke-width="0.85" stroke-linejoin="round"/>
<path d="M233.7 259.8 L234.1 260.5 L234.7 260.9 L235.3 261.4 L235.8 261.9 L235.9 262.8 L235.8 263.9 L235.3 265.1 L234.9 266.3 L234.6 267.4 L234.6 268.2 L234.9 268.9 L235.3 269.6" fill="none" stroke="#1f74d6" stroke-width="0.85" stroke-linejoin="round"/>
<path d="M232.8 260.5 L232.4 261.6 L231.8 262.7 L231.5 263.6 L231.5 264.4 L231.8 265.0 L232.2 265.5 L232.6 266.1 L232.6 266.9 L232.1 267.8 L231.3 268.9 L230.4 270.0 L229.7 270.9" fill="none" stroke="#1f74d6" stroke-width="0.85" stroke-linejoin="round"/>
<path d="M226.4 262.8 L226.3 263.6 L225.9 264.4 L225.1 265.1 L224.1 265.9 L223.0 266.6 L222.2 267.3 L221.8 268.1 L221.6 268.8 L221.5 269.6 L221.2 270.4 L220.6 271.1 L219.6 271.7" fill="none" stroke="#1f74d6" stroke-width="0.85" stroke-linejoin="round"/>
<path d="M217.7 260.3 L217.2 261.0 L216.9 261.8 L216.5 262.5 L215.8 263.1 L214.8 263.4 L213.5 263.5 L212.1 263.4 L210.8 263.4 L209.7 263.6 L208.9 264.0 L208.3 264.6 L207.7 265.2" fill="none" stroke="#1f74d6" stroke-width="0.85" stroke-linejoin="round"/>
<path d="M216.7 259.5 L215.7 259.7 L214.6 259.8 L213.4 259.8 L212.2 259.8 L211.2 260.0 L210.3 260.3 L209.5 260.7 L208.7 261.2 L207.8 261.5 L206.7 261.5 L205.5 261.3 L204.2 261.0" fill="none" stroke="#1f74d6" stroke-width="0.85" stroke-linejoin="round"/>
<path d="M213.0 253.5 L212.1 254.0 L211.2 254.2 L210.2 254.0 L209.1 253.4 L208.0 252.7 L206.9 252.0 L205.9 251.5 L205.0 251.4 L204.1 251.5 L203.1 251.7 L202.2 251.6 L201.2 251.2" fill="none" stroke="#1f74d6" stroke-width="0.85" stroke-linejoin="round"/>
<path d="M212.4 250.1 L211.4 250.1 L210.4 249.9 L209.4 249.4 L208.4 248.7 L207.5 247.8 L206.6 247.0 L205.6 246.5 L204.7 246.1 L203.7 245.9 L202.7 245.7 L201.8 245.2 L200.9 244.5" fill="none" stroke="#1f74d6" stroke-width="0.85" stroke-linejoin="round"/>
<path d="M213.5 244.6 L212.5 244.5 L211.6 244.2 L210.8 243.7 L210.2 242.8 L209.7 241.6 L209.3 240.4 L208.9 239.4 L208.3 238.6 L207.5 238.1 L206.6 237.7 L205.8 237.3 L205.1 236.5" fill="none" stroke="#1f74d6" stroke-width="0.85" stroke-linejoin="round"/>
<path d="M218.4 238.8 L218.3 237.9 L217.8 237.2 L217.1 236.6 L216.3 236.1 L215.7 235.4 L215.4 234.6 L215.5 233.5 L215.9 232.3 L216.3 231.2 L216.5 230.2 L216.4 229.3 L216.0 228.6" fill="none" stroke="#1f74d6" stroke-width="0.85" stroke-linejoin="round"/>
<path d="M221.5 237.4 L220.9 236.6 L220.4 235.8 L220.0 234.9 L219.9 233.9 L220.1 232.9 L220.5 231.8 L221.0 230.7 L221.3 229.7 L221.4 228.8 L221.2 227.9 L220.9 227.0 L220.8 226.1" fill="none" stroke="#1f74d6" stroke-width="0.85" stroke-linejoin="round"/>
<path d="M223.1 237.0 L223.6 236.1 L224.1 235.1 L224.3 234.3 L224.3 233.4 L224.0 232.6 L223.7 231.7 L223.6 230.9 L223.9 230.0 L224.4 229.2 L225.2 228.4 L226.0 227.6 L226.6 226.8" fill="none" stroke="#1f74d6" stroke-width="0.85" stroke-linejoin="round"/>
<path d="M232.5 238.9 L233.2 238.5 L233.6 237.8 L233.7 237.0 L233.8 236.2 L234.0 235.4 L234.6 234.9 L235.5 234.7 L236.6 234.7 L237.7 234.7 L238.7 234.6 L239.3 234.2 L239.7 233.6" fill="none" stroke="#1f74d6" stroke-width="0.85" stroke-linejoin="round"/>
<path d="M234.3 240.3 L235.0 240.0 L235.9 240.0 L236.9 240.2 L237.9 240.3 L238.7 240.3 L239.2 239.9 L239.6 239.3 L240.0 238.7 L240.5 238.2 L241.2 238.1 L242.1 238.4 L243.2 238.9" fill="none" stroke="#1f74d6" stroke-width="0.85" stroke-linejoin="round"/>
<path d="M236.9 243.8 L237.9 244.3 L238.8 244.7 L239.5 244.8 L240.1 244.6 L240.6 244.1 L241.1 243.5 L241.7 243.2 L242.5 243.3 L243.3 243.8 L244.2 244.6 L245.0 245.4 L245.8 245.9" fill="none" stroke="#1f74d6" stroke-width="0.85" stroke-linejoin="round"/>
<circle cx="210.4" cy="252.2" r="1.05" fill="#128c40"/>
<circle cx="210.7" cy="247.6" r="1.05" fill="#128c40"/>
<circle cx="212.5" cy="242.2" r="1.05" fill="#128c40"/>
<circle cx="216.3" cy="237.7" r="1.05" fill="#128c40"/>
<circle cx="222.5" cy="235.0" r="1.05" fill="#128c40"/>
<circle cx="227.8" cy="235.0" r="1.05" fill="#128c40"/>
<circle cx="233.0" cy="237.1" r="1.05" fill="#128c40"/>
<circle cx="237.7" cy="241.8" r="1.05" fill="#128c40"/>
<circle cx="239.8" cy="246.1" r="1.05" fill="#128c40"/>
<circle cx="239.6" cy="253.0" r="1.05" fill="#128c40"/>
<circle cx="237.6" cy="257.8" r="1.05" fill="#128c40"/>
<circle cx="233.2" cy="262.0" r="1.05" fill="#128c40"/>
<circle cx="228.9" cy="263.9" r="1.05" fill="#128c40"/>
<circle cx="221.8" cy="264.0" r="1.05" fill="#128c40"/>
<circle cx="217.1" cy="262.0" r="1.05" fill="#128c40"/>
<circle cx="213.2" cy="258.3" r="1.05" fill="#128c40"/>
<circle cx="207.4" cy="250.3" r="1.05" fill="#128c40"/>
<circle cx="208.0" cy="245.1" r="1.05" fill="#128c40"/>
<circle cx="210.5" cy="239.2" r="1.05" fill="#128c40"/>
<circle cx="215.0" cy="235.4" r="1.05" fill="#128c40"/>
<circle cx="221.1" cy="232.5" r="1.05" fill="#128c40"/>
<circle cx="227.7" cy="232.6" r="1.05" fill="#128c40"/>
<circle cx="232.9" cy="234.1" r="1.05" fill="#128c40"/>
<circle cx="237.4" cy="237.0" r="1.05" fill="#128c40"/>
<circle cx="240.6" cy="242.8" r="1.05" fill="#128c40"/>
<circle cx="242.1" cy="249.2" r="1.05" fill="#128c40"/>
<circle cx="241.2" cy="255.5" r="1.05" fill="#128c40"/>
<circle cx="238.7" cy="259.8" r="1.05" fill="#128c40"/>
<circle cx="233.4" cy="264.8" r="1.05" fill="#128c40"/>
<circle cx="227.6" cy="267.0" r="1.05" fill="#128c40"/>
<circle cx="221.2" cy="266.7" r="1.05" fill="#128c40"/>
<circle cx="216.8" cy="265.2" r="1.05" fill="#128c40"/>
<circle cx="211.0" cy="260.8" r="1.05" fill="#128c40"/>
<circle cx="208.7" cy="256.3" r="1.05" fill="#128c40"/>
<circle cx="203.8" cy="246.5" r="1.05" fill="#128c40"/>
<circle cx="206.2" cy="241.1" r="1.05" fill="#128c40"/>
<circle cx="208.6" cy="237.2" r="1.05" fill="#128c40"/>
<circle cx="213.3" cy="232.9" r="1.05" fill="#128c40"/>
<circle cx="218.2" cy="230.1" r="1.05" fill="#128c40"/>
<circle cx="226.3" cy="229.6" r="1.05" fill="#128c40"/>
<circle cx="232.3" cy="230.9" r="1.05" fill="#128c40"/>
<circle cx="237.3" cy="233.6" r="1.05" fill="#128c40"/>
<circle cx="241.1" cy="238.8" r="1.05" fill="#128c40"/>
<circle cx="243.4" cy="242.6" r="1.05" fill="#128c40"/>
<circle cx="244.3" cy="250.1" r="1.05" fill="#128c40"/>
<circle cx="244.2" cy="254.6" r="1.05" fill="#128c40"/>
<circle cx="241.8" cy="259.7" r="1.05" fill="#128c40"/>
<circle cx="237.7" cy="264.9" r="1.05" fill="#128c40"/>
<circle cx="231.1" cy="268.4" r="1.05" fill="#128c40"/>
<circle cx="225.7" cy="269.9" r="1.05" fill="#128c40"/>
<circle cx="219.4" cy="269.3" r="1.05" fill="#128c40"/>
<circle cx="213.7" cy="266.8" r="1.05" fill="#128c40"/>
<circle cx="210.1" cy="263.7" r="1.05" fill="#128c40"/>
<circle cx="205.9" cy="258.2" r="1.05" fill="#128c40"/>
<circle cx="204.7" cy="253.6" r="1.05" fill="#128c40"/>
<circle cx="201.7" cy="243.0" r="1.05" fill="#128c40"/>
<circle cx="204.3" cy="237.6" r="1.05" fill="#128c40"/>
<circle cx="207.7" cy="233.5" r="1.05" fill="#128c40"/>
<circle cx="213.0" cy="229.6" r="1.05" fill="#128c40"/>
<circle cx="217.6" cy="227.1" r="1.05" fill="#128c40"/>
<circle cx="224.3" cy="226.7" r="1.05" fill="#128c40"/>
<circle cx="229.0" cy="226.8" r="1.05" fill="#128c40"/>
<circle cx="235.7" cy="229.4" r="1.05" fill="#128c40"/>
<circle cx="240.7" cy="233.8" r="1.05" fill="#128c40"/>
<circle cx="244.4" cy="238.7" r="1.05" fill="#128c40"/>
<circle cx="245.9" cy="242.9" r="1.05" fill="#128c40"/>
<circle cx="246.8" cy="248.1" r="1.05" fill="#128c40"/>
<circle cx="245.6" cy="256.4" r="1.05" fill="#128c40"/>
<circle cx="243.6" cy="260.9" r="1.05" fill="#128c40"/>
<circle cx="241.1" cy="264.8" r="1.05" fill="#128c40"/>
<circle cx="236.0" cy="268.7" r="1.05" fill="#128c40"/>
<circle cx="230.9" cy="271.4" r="1.05" fill="#128c40"/>
<circle cx="223.8" cy="272.1" r="1.05" fill="#128c40"/>
<circle cx="218.7" cy="272.2" r="1.05" fill="#128c40"/>
<circle cx="213.2" cy="269.8" r="1.05" fill="#128c40"/>
<circle cx="207.7" cy="266.1" r="1.05" fill="#128c40"/>
<circle cx="203.7" cy="260.9" r="1.05" fill="#128c40"/>
<circle cx="201.9" cy="255.4" r="1.05" fill="#128c40"/>
<circle cx="201.2" cy="250.5" r="1.05" fill="#128c40"/>
<circle cx="225.4" cy="249.8" r="12.8" fill="url(#gpurple)"/>
<text x="225.40" y="252.18" font-size="6.6" text-anchor="middle" fill="#f7b010" stroke="#f7b010" stroke-width="0.3" >BT</text>
<path d="M155.7 249.2 H196.0" stroke="#111" stroke-width="1.0"/>
<path d="M193.8 247.1 L198.0 249.2 L193.8 251.29999999999998 L194.7 249.2 Z" fill="#111" stroke="#111" stroke-width="0.3"/>
<text x="162.20" y="247.00" font-size="6.5" textLength="27.80" lengthAdjust="spacingAndGlyphs" fill="#111" stroke="#111" stroke-width="0.3" >0.1 M HCl</text>
<text x="159.60" y="256.40" font-size="6.0" textLength="30.20" lengthAdjust="spacingAndGlyphs" fill="#111" stroke="#111" stroke-width="0.3" >Ammonium</text>
<text x="163.20" y="262.70" font-size="6.0" textLength="25.00" lengthAdjust="spacingAndGlyphs" fill="#111" stroke="#111" stroke-width="0.3" >persulfate</text>
<path d="M254.2 249.2 H303.0" stroke="#111" stroke-width="1.0"/>
<path d="M300.8 247.1 L305.0 249.2 L300.8 251.29999999999998 L301.7 249.2 Z" fill="#111" stroke="#111" stroke-width="0.3"/>
<text x="268.40" y="238.60" font-size="6.0" textLength="16.00" lengthAdjust="spacingAndGlyphs" fill="#111" stroke="#111" stroke-width="0.3" >in-situ</text>
<text x="258.20" y="246.40" font-size="6.0" textLength="38.40" lengthAdjust="spacingAndGlyphs" fill="#111" stroke="#111" stroke-width="0.3" >polymerization</text>
<text x="269.20" y="256.50" font-size="6.0" textLength="17.00" lengthAdjust="spacingAndGlyphs" fill="#111" stroke="#111" stroke-width="0.3" >0~5 ℃</text>
<circle cx="329.3" cy="127.5" r="21.0" fill="url(#ggreen)"/>
<path d="M328.93 106.50 A21.0 21.0 0 0 1 350.25 128.96 L325.30 134.50 Z" fill="#0c6e4a"/>
<path d="M328.95 107.18 A20.325 20.325 0 0 1 349.58 128.92" fill="none" stroke="#1aa677" stroke-width="1.35"/>
<path d="M329.87 108.01 A19.5 19.5 0 0 1 348.79 128.14 L326.62 133.05 Z" fill="url(#gpurple2)"/>
<text x="336.20" y="128.40" font-size="7.4" text-anchor="middle" fill="#f7b010" stroke="#f7b010" stroke-width="0.3" >BT</text>
<text x="309.30" y="122.60" font-size="6.4" textLength="15.20" lengthAdjust="spacingAndGlyphs" fill="#111" stroke="#111" stroke-width="0.3" >PANI</text>
<text x="332.00" y="105.90" font-size="6.6" textLength="15.00" lengthAdjust="spacingAndGlyphs" fill="#111" stroke="#111" stroke-width="0.3" >~3nm</text>
<path d="M348.05 107.39 L344.84 109.81" stroke="#ee2020" stroke-width="0.9"/>
<path d="M342.93 111.26 L344.06 108.78 L345.63 110.85 Z" fill="#ee2020"/>
<path d="M335.66 117.32 L338.90 113.81" stroke="#ee2020" stroke-width="0.9"/>
<path d="M340.53 112.05 L339.85 114.69 L337.94 112.93 Z" fill="#ee2020"/>
<path d="M335.42 108.67 L347.39 119.45" stroke="#ee2020" stroke-width="0.6" opacity="0.8"/>
<text x="306.00" y="157.20" font-size="8.0" textLength="43.10" lengthAdjust="spacingAndGlyphs" fill="#111" stroke="#111" stroke-width="0.3" >BT@PANI-1</text>
<circle cx="330.2" cy="190.3" r="21.0" fill="url(#ggreen)"/>
<path d="M328.00 169.42 A21.0 21.0 0 0 1 351.00 193.22 L324.70 198.50 Z" fill="#0c6e4a"/>
<path d="M328.12 170.53 A19.875 19.875 0 0 1 349.88 193.07" fill="none" stroke="#1aa677" stroke-width="2.25"/>
<path d="M329.22 171.83 A18.5 18.5 0 0 1 348.60 192.20 L326.39 196.66 Z" fill="url(#gpurple2)"/>
<text x="337.10" y="191.20" font-size="7.4" text-anchor="middle" fill="#f7b010" stroke="#f7b010" stroke-width="0.3" >BT</text>
<text x="310.20" y="185.40" font-size="6.4" textLength="15.20" lengthAdjust="spacingAndGlyphs" fill="#111" stroke="#111" stroke-width="0.3" >PANI</text>
<text x="335.80" y="168.70" font-size="6.6" textLength="15.00" lengthAdjust="spacingAndGlyphs" fill="#111" stroke="#111" stroke-width="0.3" >~6nm</text>
<path d="M348.95 170.19 L345.74 172.61" stroke="#ee2020" stroke-width="0.9"/>
<path d="M343.83 174.06 L344.96 171.58 L346.53 173.65 Z" fill="#ee2020"/>
<path d="M336.03 180.97 L339.23 177.44" stroke="#ee2020" stroke-width="0.9"/>
<path d="M340.84 175.66 L340.19 178.31 L338.26 176.56 Z" fill="#ee2020"/>
<path d="M336.01 172.42 L347.37 182.65" stroke="#ee2020" stroke-width="0.6" opacity="0.8"/>
<text x="306.00" y="217.30" font-size="8.0" textLength="43.10" lengthAdjust="spacingAndGlyphs" fill="#111" stroke="#111" stroke-width="0.3" >BT@PANI-2</text>
<circle cx="329.7" cy="249.3" r="20.6" fill="url(#ggreen)"/>
<path d="M327.55 228.81 A20.6 20.6 0 0 1 349.99 252.88 L322.40 259.30 Z" fill="#0c6e4a"/>
<path d="M327.71 230.33 A19.07 19.07 0 0 1 348.48 252.61" fill="none" stroke="#1aa677" stroke-width="3.06"/>
<path d="M328.80 232.12 A17.200000000000003 17.200000000000003 0 0 1 346.72 251.80 L324.61 256.95 Z" fill="url(#gpurple2)"/>
<text x="336.60" y="250.20" font-size="7.4" text-anchor="middle" fill="#f7b010" stroke="#f7b010" stroke-width="0.3" >BT</text>
<text x="309.70" y="244.40" font-size="6.4" textLength="15.20" lengthAdjust="spacingAndGlyphs" fill="#111" stroke="#111" stroke-width="0.3" >PANI</text>
<text x="335.00" y="227.70" font-size="6.6" textLength="18.00" lengthAdjust="spacingAndGlyphs" fill="#111" stroke="#111" stroke-width="0.3" >~10nm</text>
<path d="M348.18 229.48 L344.98 231.91" stroke="#ee2020" stroke-width="0.9"/>
<path d="M343.07 233.37 L344.19 230.88 L345.77 232.95 Z" fill="#ee2020"/>
<path d="M334.84 241.07 L337.99 237.51" stroke="#ee2020" stroke-width="0.9"/>
<path d="M339.57 235.71 L338.96 238.37 L337.01 236.65 Z" fill="#ee2020"/>
<path d="M335.11 232.66 L345.69 242.18" stroke="#ee2020" stroke-width="0.6" opacity="0.8"/>
<text x="306.00" y="278.20" font-size="8.0" textLength="43.10" lengthAdjust="spacingAndGlyphs" fill="#111" stroke="#111" stroke-width="0.3" >BT@PANI-3</text>
<rect x="402.0" y="15.9" width="132.5" height="106.1" fill="none" stroke="#1a1a1a" stroke-width="1.2"/>
<path d="M402.0 114.93 h-2" stroke="#222" stroke-width="0.7"/>
<text x="398.80" y="116.93" font-size="5.6" text-anchor="end" fill="#111" stroke="#111" stroke-width="0.3" >4</text>
<path d="M402.0 100.78 h-2" stroke="#222" stroke-width="0.7"/>
<text x="398.80" y="102.78" font-size="5.6" text-anchor="end" fill="#111" stroke="#111" stroke-width="0.3" >6</text>
<path d="M402.0 86.63 h-2" stroke="#222" stroke-width="0.7"/>
<text x="398.80" y="88.63" font-size="5.6" text-anchor="end" fill="#111" stroke="#111" stroke-width="0.3" >8</text>
<path d="M402.0 72.49 h-2" stroke="#222" stroke-width="0.7"/>
<text x="398.80" y="74.49" font-size="5.6" text-anchor="end" fill="#111" stroke="#111" stroke-width="0.3" >10</text>
<path d="M402.0 58.34 h-2" stroke="#222" stroke-width="0.7"/>
<text x="398.80" y="60.34" font-size="5.6" text-anchor="end" fill="#111" stroke="#111" stroke-width="0.3" >12</text>
<path d="M402.0 44.19 h-2" stroke="#222" stroke-width="0.7"/>
<text x="398.80" y="46.19" font-size="5.6" text-anchor="end" fill="#111" stroke="#111" stroke-width="0.3" >14</text>
<path d="M402.0 30.05 h-2" stroke="#222" stroke-width="0.7"/>
<text x="398.80" y="32.05" font-size="5.6" text-anchor="end" fill="#111" stroke="#111" stroke-width="0.3" >16</text>
<path d="M402.0 15.90 h-2" stroke="#222" stroke-width="0.7"/>
<text x="398.80" y="17.90" font-size="5.6" text-anchor="end" fill="#111" stroke="#111" stroke-width="0.3" >18</text>
<path d="M402.0 122.00 h-1.2" stroke="#222" stroke-width="0.6"/>
<path d="M402.0 107.85 h-1.2" stroke="#222" stroke-width="0.6"/>
<path d="M402.0 93.71 h-1.2" stroke="#222" stroke-width="0.6"/>
<path d="M402.0 79.56 h-1.2" stroke="#222" stroke-width="0.6"/>
<path d="M402.0 65.41 h-1.2" stroke="#222" stroke-width="0.6"/>
<path d="M402.0 51.27 h-1.2" stroke="#222" stroke-width="0.6"/>
<path d="M402.0 37.12 h-1.2" stroke="#222" stroke-width="0.6"/>
<path d="M402.0 22.97 h-1.2" stroke="#222" stroke-width="0.6"/>
<path d="M411.10 122.0 v2" stroke="#222" stroke-width="0.7"/>
<text x="410.10" y="131.9" font-size="5.6" text-anchor="middle" fill="#111" stroke="#111" stroke-width="0.3">10<tspan font-size="3.8" dy="-2.4">2</tspan></text>
<path d="M421.70 122.0 v1.2" stroke="#222" stroke-width="0.5"/>
<path d="M427.89 122.0 v1.2" stroke="#222" stroke-width="0.5"/>
<path d="M432.29 122.0 v1.2" stroke="#222" stroke-width="0.5"/>
<path d="M435.70 122.0 v1.2" stroke="#222" stroke-width="0.5"/>
<path d="M438.49 122.0 v1.2" stroke="#222" stroke-width="0.5"/>
<path d="M440.85 122.0 v1.2" stroke="#222" stroke-width="0.5"/>
<path d="M442.89 122.0 v1.2" stroke="#222" stroke-width="0.5"/>
<path d="M444.69 122.0 v1.2" stroke="#222" stroke-width="0.5"/>
<path d="M446.30 122.0 v2" stroke="#222" stroke-width="0.7"/>
<text x="445.30" y="131.9" font-size="5.6" text-anchor="middle" fill="#111" stroke="#111" stroke-width="0.3">10<tspan font-size="3.8" dy="-2.4">3</tspan></text>
<path d="M456.90 122.0 v1.2" stroke="#222" stroke-width="0.5"/>
<path d="M463.09 122.0 v1.2" stroke="#222" stroke-width="0.5"/>
<path d="M467.49 122.0 v1.2" stroke="#222" stroke-width="0.5"/>
<path d="M470.90 122.0 v1.2" stroke="#222" stroke-width="0.5"/>
<path d="M473.69 122.0 v1.2" stroke="#222" stroke-width="0.5"/>
<path d="M476.05 122.0 v1.2" stroke="#222" stroke-width="0.5"/>
<path d="M478.09 122.0 v1.2" stroke="#222" stroke-width="0.5"/>
<path d="M479.89 122.0 v1.2" stroke="#222" stroke-width="0.5"/>
<path d="M481.50 122.0 v2" stroke="#222" stroke-width="0.7"/>
<text x="480.50" y="131.9" font-size="5.6" text-anchor="middle" fill="#111" stroke="#111" stroke-width="0.3">10<tspan font-size="3.8" dy="-2.4">4</tspan></text>
<path d="M492.10 122.0 v1.2" stroke="#222" stroke-width="0.5"/>
<path d="M498.29 122.0 v1.2" stroke="#222" stroke-width="0.5"/>
<path d="M502.69 122.0 v1.2" stroke="#222" stroke-width="0.5"/>
<path d="M506.10 122.0 v1.2" stroke="#222" stroke-width="0.5"/>
<path d="M508.89 122.0 v1.2" stroke="#222" stroke-width="0.5"/>
<path d="M511.25 122.0 v1.2" stroke="#222" stroke-width="0.5"/>
<path d="M513.29 122.0 v1.2" stroke="#222" stroke-width="0.5"/>
<path d="M515.09 122.0 v1.2" stroke="#222" stroke-width="0.5"/>
<path d="M516.70 122.0 v2" stroke="#222" stroke-width="0.7"/>
<text x="515.70" y="131.9" font-size="5.6" text-anchor="middle" fill="#111" stroke="#111" stroke-width="0.3">10<tspan font-size="3.8" dy="-2.4">5</tspan></text>
<path d="M527.30 122.0 v1.2" stroke="#222" stroke-width="0.5"/>
<path d="M533.49 122.0 v1.2" stroke="#222" stroke-width="0.5"/>
<text x="464.50" y="142.60" font-size="10.4" text-anchor="middle" fill="#111" stroke="#111" stroke-width="0.3" >Frequency (Hz)</text>
<text transform="translate(386.9 72.1) rotate(-90)" font-size="10.4" text-anchor="middle" fill="#111" stroke="#111" stroke-width="0.3">Dielectric constant</text>
<polyline points="411.1,111.8 418.3,112.5 425.5,112.8 432.6,112.9 439.8,113.2 447.0,113.4 454.2,113.5 461.4,113.7 468.5,113.7 475.7,113.8 482.9,113.9 490.1,113.9 497.3,114.0 504.5,114.1 511.6,114.1 518.8,114.1 526.0,114.1" fill="none" stroke="#666" stroke-width="0.8"/>
<rect x="409.85" y="110.56" width="2.50" height="2.50" fill="#333333"/>
<rect x="417.03" y="111.20" width="2.50" height="2.50" fill="#333333"/>
<rect x="424.21" y="111.55" width="2.50" height="2.50" fill="#333333"/>
<rect x="431.39" y="111.70" width="2.50" height="2.50" fill="#333333"/>
<rect x="438.57" y="111.91" width="2.50" height="2.50" fill="#333333"/>
<rect x="445.75" y="112.12" width="2.50" height="2.50" fill="#333333"/>
<rect x="452.93" y="112.26" width="2.50" height="2.50" fill="#333333"/>
<rect x="460.12" y="112.40" width="2.50" height="2.50" fill="#333333"/>
<rect x="467.30" y="112.47" width="2.50" height="2.50" fill="#333333"/>
<rect x="474.48" y="112.54" width="2.50" height="2.50" fill="#333333"/>
<rect x="481.66" y="112.62" width="2.50" height="2.50" fill="#333333"/>
<rect x="488.84" y="112.69" width="2.50" height="2.50" fill="#333333"/>
<rect x="496.02" y="112.76" width="2.50" height="2.50" fill="#333333"/>
<rect x="503.20" y="112.83" width="2.50" height="2.50" fill="#333333"/>
<rect x="510.38" y="112.83" width="2.50" height="2.50" fill="#333333"/>
<rect x="517.56" y="112.90" width="2.50" height="2.50" fill="#333333"/>
<rect x="524.74" y="112.90" width="2.50" height="2.50" fill="#333333"/>
<polyline points="411.1,102.1 418.3,103.3 425.5,104.0 432.6,104.3 439.8,104.5 447.0,104.7 454.2,104.9 461.4,105.0 468.5,105.0 475.7,105.2 482.9,105.2 490.1,105.3 497.3,105.4 504.5,105.4 511.6,105.4 518.8,105.4 526.0,105.4" fill="none" stroke="#ff6060" stroke-width="0.8"/>
<circle cx="411.10" cy="102.05" r="1.31" fill="#ff1a1a"/>
<circle cx="418.28" cy="103.26" r="1.31" fill="#ff1a1a"/>
<circle cx="425.46" cy="103.96" r="1.31" fill="#ff1a1a"/>
<circle cx="432.64" cy="104.32" r="1.31" fill="#ff1a1a"/>
<circle cx="439.82" cy="104.46" r="1.31" fill="#ff1a1a"/>
<circle cx="447.00" cy="104.67" r="1.31" fill="#ff1a1a"/>
<circle cx="454.18" cy="104.88" r="1.31" fill="#ff1a1a"/>
<circle cx="461.37" cy="105.02" r="1.31" fill="#ff1a1a"/>
<circle cx="468.55" cy="105.02" r="1.31" fill="#ff1a1a"/>
<circle cx="475.73" cy="105.17" r="1.31" fill="#ff1a1a"/>
<circle cx="482.91" cy="105.24" r="1.31" fill="#ff1a1a"/>
<circle cx="490.09" cy="105.31" r="1.31" fill="#ff1a1a"/>
<circle cx="497.27" cy="105.38" r="1.31" fill="#ff1a1a"/>
<circle cx="504.45" cy="105.38" r="1.31" fill="#ff1a1a"/>
<circle cx="511.63" cy="105.45" r="1.31" fill="#ff1a1a"/>
<circle cx="518.81" cy="105.45" r="1.31" fill="#ff1a1a"/>
<circle cx="525.99" cy="105.45" r="1.31" fill="#ff1a1a"/>
<polyline points="411.1,85.9 418.3,86.6 425.5,87.3 432.6,87.7 439.8,88.0 447.0,88.4 454.2,88.8 461.4,89.1 468.5,89.3 475.7,89.5 482.9,89.8 490.1,90.0 497.3,90.2 504.5,90.3 511.6,90.4 518.8,90.5 526.0,90.5" fill="none" stroke="#3a7aff" stroke-width="0.8"/>
<path d="M411.10 84.43 L412.60 87.18 L409.60 87.18Z" fill="#1a5cff"/>
<path d="M418.28 85.13 L419.78 87.88 L416.78 87.88Z" fill="#1a5cff"/>
<path d="M425.46 85.84 L426.96 88.59 L423.96 88.59Z" fill="#1a5cff"/>
<path d="M432.64 86.19 L434.14 88.94 L431.14 88.94Z" fill="#1a5cff"/>
<path d="M439.82 86.55 L441.32 89.30 L438.32 89.30Z" fill="#1a5cff"/>
<path d="M447.00 86.90 L448.50 89.65 L445.50 89.65Z" fill="#1a5cff"/>
<path d="M454.18 87.26 L455.68 90.01 L452.68 90.01Z" fill="#1a5cff"/>
<path d="M461.37 87.61 L462.87 90.36 L459.87 90.36Z" fill="#1a5cff"/>
<path d="M468.55 87.82 L470.05 90.57 L467.05 90.57Z" fill="#1a5cff"/>
<path d="M475.73 87.96 L477.23 90.71 L474.23 90.71Z" fill="#1a5cff"/>
<path d="M482.91 88.32 L484.41 91.07 L481.41 91.07Z" fill="#1a5cff"/>
<path d="M490.09 88.53 L491.59 91.28 L488.59 91.28Z" fill="#1a5cff"/>
<path d="M497.27 88.67 L498.77 91.42 L495.77 91.42Z" fill="#1a5cff"/>
<path d="M504.45 88.81 L505.95 91.56 L502.95 91.56Z" fill="#1a5cff"/>
<path d="M511.63 88.88 L513.13 91.63 L510.13 91.63Z" fill="#1a5cff"/>
<path d="M518.81 88.95 L520.31 91.70 L517.31 91.70Z" fill="#1a5cff"/>
<path d="M525.99 89.02 L527.49 91.77 L524.49 91.77Z" fill="#1a5cff"/>
<polyline points="411.1,69.2 418.3,69.5 425.5,69.8 432.6,70.4 439.8,71.1 447.0,71.8 454.2,72.1 461.4,72.5 468.5,72.8 475.7,73.2 482.9,73.5 490.1,73.9 497.3,74.3 504.5,74.5 511.6,74.6 518.8,74.8 526.0,75.1" fill="none" stroke="#3cb371" stroke-width="0.8"/>
<path d="M411.10 70.73 L412.60 67.98 L409.60 67.98Z" fill="#17a34a"/>
<path d="M418.28 71.02 L419.78 68.27 L416.78 68.27Z" fill="#17a34a"/>
<path d="M425.46 71.30 L426.96 68.55 L423.96 68.55Z" fill="#17a34a"/>
<path d="M432.64 71.86 L434.14 69.11 L431.14 69.11Z" fill="#17a34a"/>
<path d="M439.82 72.57 L441.32 69.82 L438.32 69.82Z" fill="#17a34a"/>
<path d="M447.00 73.28 L448.50 70.53 L445.50 70.53Z" fill="#17a34a"/>
<path d="M454.18 73.63 L455.68 70.88 L452.68 70.88Z" fill="#17a34a"/>
<path d="M461.37 73.99 L462.87 71.24 L459.87 71.24Z" fill="#17a34a"/>
<path d="M468.55 74.34 L470.05 71.59 L467.05 71.59Z" fill="#17a34a"/>
<path d="M475.73 74.69 L477.23 71.94 L474.23 71.94Z" fill="#17a34a"/>
<path d="M482.91 75.05 L484.41 72.30 L481.41 72.30Z" fill="#17a34a"/>
<path d="M490.09 75.40 L491.59 72.65 L488.59 72.65Z" fill="#17a34a"/>
<path d="M497.27 75.75 L498.77 73.00 L495.77 73.00Z" fill="#17a34a"/>
<path d="M504.45 75.97 L505.95 73.22 L502.95 73.22Z" fill="#17a34a"/>
<path d="M511.63 76.11 L513.13 73.36 L510.13 73.36Z" fill="#17a34a"/>
<path d="M518.81 76.25 L520.31 73.50 L517.31 73.50Z" fill="#17a34a"/>
<path d="M525.99 76.60 L527.49 73.85 L524.49 73.85Z" fill="#17a34a"/>
<polyline points="411.1,46.3 418.3,48.1 425.5,49.1 432.6,49.5 439.8,49.9 447.0,50.9 454.2,51.6 461.4,52.3 468.5,53.0 475.7,53.4 482.9,54.1 490.1,54.4 497.3,54.8 504.5,55.2 511.6,55.5 518.8,55.9 526.0,57.3" fill="none" stroke="#b77bff" stroke-width="0.8"/>
<circle cx="411.10" cy="46.32" r="1.31" fill="#a64dff"/>
<circle cx="418.28" cy="48.08" r="1.31" fill="#a64dff"/>
<circle cx="425.46" cy="49.14" r="1.31" fill="#a64dff"/>
<circle cx="432.64" cy="49.50" r="1.31" fill="#a64dff"/>
<circle cx="439.82" cy="49.85" r="1.31" fill="#a64dff"/>
<circle cx="447.00" cy="50.91" r="1.31" fill="#a64dff"/>
<circle cx="454.18" cy="51.62" r="1.31" fill="#a64dff"/>
<circle cx="461.37" cy="52.33" r="1.31" fill="#a64dff"/>
<circle cx="468.55" cy="53.03" r="1.31" fill="#a64dff"/>
<circle cx="475.73" cy="53.39" r="1.31" fill="#a64dff"/>
<circle cx="482.91" cy="54.10" r="1.31" fill="#a64dff"/>
<circle cx="490.09" cy="54.45" r="1.31" fill="#a64dff"/>
<circle cx="497.27" cy="54.80" r="1.31" fill="#a64dff"/>
<circle cx="504.45" cy="55.16" r="1.31" fill="#a64dff"/>
<circle cx="511.63" cy="55.51" r="1.31" fill="#a64dff"/>
<circle cx="518.81" cy="55.86" r="1.31" fill="#a64dff"/>
<circle cx="525.99" cy="57.28" r="1.31" fill="#a64dff"/>
<path d="M460.4 21.0 h13" stroke="#333" stroke-width="0.7" opacity="0.8"/>
<rect x="465.80" y="19.90" width="2.20" height="2.20" fill="#333"/>
<text x="475.40" y="23.10" font-size="6.0" text-anchor="start" fill="#111" stroke="#111" stroke-width="0.3" >0 wt%</text>
<path d="M497.5 21.0 h13" stroke="#ff1a1a" stroke-width="0.7" opacity="0.8"/>
<circle cx="504.00" cy="21.00" r="1.16" fill="#ff1a1a"/>
<text x="512.50" y="23.10" font-size="6.0" text-anchor="start" fill="#111" stroke="#111" stroke-width="0.3" >10 wt%</text>
<path d="M460.4 29.2 h13" stroke="#1a5cff" stroke-width="0.7" opacity="0.8"/>
<path d="M466.90 27.88 L468.22 30.30 L465.58 30.30Z" fill="#1a5cff"/>
<text x="475.40" y="31.30" font-size="6.0" text-anchor="start" fill="#111" stroke="#111" stroke-width="0.3" >20 wt%</text>
<path d="M497.5 29.2 h13" stroke="#17a34a" stroke-width="0.7" opacity="0.8"/>
<path d="M504.00 30.52 L505.32 28.10 L502.68 28.10Z" fill="#17a34a"/>
<text x="512.50" y="31.30" font-size="6.0" text-anchor="start" fill="#111" stroke="#111" stroke-width="0.3" >30 wt%</text>
<path d="M460.4 37.3 h13" stroke="#a64dff" stroke-width="0.7" opacity="0.8"/>
<circle cx="466.90" cy="37.30" r="1.16" fill="#a64dff"/>
<text x="475.40" y="39.40" font-size="6.0" text-anchor="start" fill="#111" stroke="#111" stroke-width="0.3" >40 wt%</text>
<rect x="401.1" y="159.1" width="131.89999999999998" height="97.20000000000002" fill="none" stroke="#1a1a1a" stroke-width="1.2"/>
<path d="M401.1 251.60 h-2" stroke="#222" stroke-width="0.7"/>
<text x="397.80" y="253.50" font-size="5.4" text-anchor="end" fill="#111" stroke="#111" stroke-width="0.3" >3</text>
<path d="M401.1 238.40 h-2" stroke="#222" stroke-width="0.7"/>
<text x="397.80" y="240.30" font-size="5.4" text-anchor="end" fill="#111" stroke="#111" stroke-width="0.3" >6</text>
<path d="M401.1 225.20 h-2" stroke="#222" stroke-width="0.7"/>
<text x="397.80" y="227.10" font-size="5.4" text-anchor="end" fill="#111" stroke="#111" stroke-width="0.3" >9</text>
<path d="M401.1 212.00 h-2" stroke="#222" stroke-width="0.7"/>
<text x="397.80" y="213.90" font-size="5.4" text-anchor="end" fill="#111" stroke="#111" stroke-width="0.3" >12</text>
<path d="M401.1 198.80 h-2" stroke="#222" stroke-width="0.7"/>
<text x="397.80" y="200.70" font-size="5.4" text-anchor="end" fill="#111" stroke="#111" stroke-width="0.3" >15</text>
<path d="M401.1 185.60 h-2" stroke="#222" stroke-width="0.7"/>
<text x="397.80" y="187.50" font-size="5.4" text-anchor="end" fill="#111" stroke="#111" stroke-width="0.3" >18</text>
<path d="M401.1 172.40 h-2" stroke="#222" stroke-width="0.7"/>
<text x="397.80" y="174.30" font-size="5.4" text-anchor="end" fill="#111" stroke="#111" stroke-width="0.3" >21</text>
<path d="M401.1 159.20 h-2" stroke="#222" stroke-width="0.7"/>
<text x="397.80" y="161.10" font-size="5.4" text-anchor="end" fill="#111" stroke="#111" stroke-width="0.3" >24</text>
<path d="M401.1 245.00 h-1.2" stroke="#222" stroke-width="0.6"/>
<path d="M401.1 231.80 h-1.2" stroke="#222" stroke-width="0.6"/>
<path d="M401.1 218.60 h-1.2" stroke="#222" stroke-width="0.6"/>
<path d="M401.1 205.40 h-1.2" stroke="#222" stroke-width="0.6"/>
<path d="M401.1 192.20 h-1.2" stroke="#222" stroke-width="0.6"/>
<path d="M401.1 179.00 h-1.2" stroke="#222" stroke-width="0.6"/>
<path d="M401.1 165.80 h-1.2" stroke="#222" stroke-width="0.6"/>
<path d="M404.20 256.3 v2" stroke="#222" stroke-width="0.7"/>
<text x="404.20" y="264.60" font-size="6.0" text-anchor="middle" fill="#111" stroke="#111" stroke-width="0.3" >100</text>
<path d="M413.50 256.3 v1.2" stroke="#222" stroke-width="0.5"/>
<path d="M418.94 256.3 v1.2" stroke="#222" stroke-width="0.5"/>
<path d="M422.80 256.3 v1.2" stroke="#222" stroke-width="0.5"/>
<path d="M425.80 256.3 v1.2" stroke="#222" stroke-width="0.5"/>
<path d="M428.24 256.3 v1.2" stroke="#222" stroke-width="0.5"/>
<path d="M430.31 256.3 v1.2" stroke="#222" stroke-width="0.5"/>
<path d="M432.11 256.3 v1.2" stroke="#222" stroke-width="0.5"/>
<path d="M433.69 256.3 v1.2" stroke="#222" stroke-width="0.5"/>
<path d="M435.10 256.3 v2" stroke="#222" stroke-width="0.7"/>
<text x="435.10" y="264.60" font-size="6.0" text-anchor="middle" fill="#111" stroke="#111" stroke-width="0.3" >1k</text>
<path d="M444.40 256.3 v1.2" stroke="#222" stroke-width="0.5"/>
<path d="M449.84 256.3 v1.2" stroke="#222" stroke-width="0.5"/>
<path d="M453.70 256.3 v1.2" stroke="#222" stroke-width="0.5"/>
<path d="M456.70 256.3 v1.2" stroke="#222" stroke-width="0.5"/>
<path d="M459.14 256.3 v1.2" stroke="#222" stroke-width="0.5"/>
<path d="M461.21 256.3 v1.2" stroke="#222" stroke-width="0.5"/>
<path d="M463.01 256.3 v1.2" stroke="#222" stroke-width="0.5"/>
<path d="M464.59 256.3 v1.2" stroke="#222" stroke-width="0.5"/>
<path d="M466.00 256.3 v2" stroke="#222" stroke-width="0.7"/>
<text x="466.00" y="264.60" font-size="6.0" text-anchor="middle" fill="#111" stroke="#111" stroke-width="0.3" >10k</text>
<path d="M475.30 256.3 v1.2" stroke="#222" stroke-width="0.5"/>
<path d="M480.74 256.3 v1.2" stroke="#222" stroke-width="0.5"/>
<path d="M484.60 256.3 v1.2" stroke="#222" stroke-width="0.5"/>
<path d="M487.60 256.3 v1.2" stroke="#222" stroke-width="0.5"/>
<path d="M490.04 256.3 v1.2" stroke="#222" stroke-width="0.5"/>
<path d="M492.11 256.3 v1.2" stroke="#222" stroke-width="0.5"/>
<path d="M493.91 256.3 v1.2" stroke="#222" stroke-width="0.5"/>
<path d="M495.49 256.3 v1.2" stroke="#222" stroke-width="0.5"/>
<path d="M496.90 256.3 v2" stroke="#222" stroke-width="0.7"/>
<text x="496.90" y="264.60" font-size="6.0" text-anchor="middle" fill="#111" stroke="#111" stroke-width="0.3" >100k</text>
<path d="M506.20 256.3 v1.2" stroke="#222" stroke-width="0.5"/>
<path d="M511.64 256.3 v1.2" stroke="#222" stroke-width="0.5"/>
<path d="M515.50 256.3 v1.2" stroke="#222" stroke-width="0.5"/>
<path d="M518.50 256.3 v1.2" stroke="#222" stroke-width="0.5"/>
<path d="M520.94 256.3 v1.2" stroke="#222" stroke-width="0.5"/>
<path d="M523.01 256.3 v1.2" stroke="#222" stroke-width="0.5"/>
<path d="M524.81 256.3 v1.2" stroke="#222" stroke-width="0.5"/>
<path d="M526.39 256.3 v1.2" stroke="#222" stroke-width="0.5"/>
<path d="M527.80 256.3 v2" stroke="#222" stroke-width="0.7"/>
<text x="527.80" y="264.60" font-size="6.0" text-anchor="middle" fill="#111" stroke="#111" stroke-width="0.3" >1M</text>
<text x="465.40" y="276.20" font-size="10.4" text-anchor="middle" fill="#111" stroke="#111" stroke-width="0.3" >Frequency (Hz)</text>
<text transform="translate(388.9 217.2) rotate(-90)" font-size="10.4" text-anchor="middle" fill="#111" stroke="#111" stroke-width="0.3">Dielectric constant</text>
<rect x="403.00" y="245.78" width="2.40" height="2.40" fill="#000"/>
<rect x="412.30" y="246.10" width="2.40" height="2.40" fill="#000"/>
<rect x="421.60" y="246.39" width="2.40" height="2.40" fill="#000"/>
<rect x="427.04" y="246.55" width="2.40" height="2.40" fill="#000"/>
<rect x="430.91" y="246.66" width="2.40" height="2.40" fill="#000"/>
<rect x="433.90" y="246.74" width="2.40" height="2.40" fill="#000"/>
<rect x="443.20" y="246.98" width="2.40" height="2.40" fill="#000"/>
<rect x="452.50" y="247.19" width="2.40" height="2.40" fill="#000"/>
<rect x="457.94" y="247.30" width="2.40" height="2.40" fill="#000"/>
<rect x="461.81" y="247.38" width="2.40" height="2.40" fill="#000"/>
<rect x="464.80" y="247.43" width="2.40" height="2.40" fill="#000"/>
<rect x="474.10" y="247.58" width="2.40" height="2.40" fill="#000"/>
<rect x="483.40" y="247.71" width="2.40" height="2.40" fill="#000"/>
<rect x="488.84" y="247.77" width="2.40" height="2.40" fill="#000"/>
<rect x="492.71" y="247.81" width="2.40" height="2.40" fill="#000"/>
<rect x="495.70" y="247.84" width="2.40" height="2.40" fill="#000"/>
<rect x="505.00" y="247.91" width="2.40" height="2.40" fill="#000"/>
<rect x="514.30" y="247.96" width="2.40" height="2.40" fill="#000"/>
<rect x="519.74" y="247.97" width="2.40" height="2.40" fill="#000"/>
<rect x="523.61" y="247.98" width="2.40" height="2.40" fill="#000"/>
<rect x="526.60" y="247.98" width="2.40" height="2.40" fill="#000"/>
<circle cx="404.20" cy="241.92" r="1.26" fill="#ff0000"/>
<circle cx="413.50" cy="242.53" r="1.26" fill="#ff0000"/>
<circle cx="422.80" cy="243.08" r="1.26" fill="#ff0000"/>
<circle cx="428.24" cy="243.39" r="1.26" fill="#ff0000"/>
<circle cx="432.11" cy="243.59" r="1.26" fill="#ff0000"/>
<circle cx="435.10" cy="243.75" r="1.26" fill="#ff0000"/>
<circle cx="444.40" cy="244.20" r="1.26" fill="#ff0000"/>
<circle cx="453.70" cy="244.60" r="1.26" fill="#ff0000"/>
<circle cx="459.14" cy="244.81" r="1.26" fill="#ff0000"/>
<circle cx="463.01" cy="244.95" r="1.26" fill="#ff0000"/>
<circle cx="466.00" cy="245.06" r="1.26" fill="#ff0000"/>
<circle cx="475.30" cy="245.35" r="1.26" fill="#ff0000"/>
<circle cx="484.60" cy="245.59" r="1.26" fill="#ff0000"/>
<circle cx="490.04" cy="245.71" r="1.26" fill="#ff0000"/>
<circle cx="493.91" cy="245.79" r="1.26" fill="#ff0000"/>
<circle cx="496.90" cy="245.84" r="1.26" fill="#ff0000"/>
<circle cx="506.20" cy="245.97" r="1.26" fill="#ff0000"/>
<circle cx="515.50" cy="246.06" r="1.26" fill="#ff0000"/>
<circle cx="520.94" cy="246.09" r="1.26" fill="#ff0000"/>
<circle cx="524.81" cy="246.10" r="1.26" fill="#ff0000"/>
<circle cx="527.80" cy="246.10" r="1.26" fill="#ff0000"/>
<path d="M404.20 234.76 L405.64 237.40 L402.76 237.40Z" fill="#0000ff"/>
<path d="M413.50 235.43 L414.94 238.07 L412.06 238.07Z" fill="#0000ff"/>
<path d="M422.80 236.05 L424.24 238.69 L421.36 238.69Z" fill="#0000ff"/>
<path d="M428.24 236.38 L429.68 239.02 L426.80 239.02Z" fill="#0000ff"/>
<path d="M432.11 236.61 L433.55 239.25 L430.67 239.25Z" fill="#0000ff"/>
<path d="M435.10 236.78 L436.54 239.42 L433.66 239.42Z" fill="#0000ff"/>
<path d="M444.40 237.28 L445.84 239.92 L442.96 239.92Z" fill="#0000ff"/>
<path d="M453.70 237.72 L455.14 240.36 L452.26 240.36Z" fill="#0000ff"/>
<path d="M459.14 237.95 L460.58 240.59 L457.70 240.59Z" fill="#0000ff"/>
<path d="M463.01 238.11 L464.45 240.75 L461.57 240.75Z" fill="#0000ff"/>
<path d="M466.00 238.22 L467.44 240.86 L464.56 240.86Z" fill="#0000ff"/>
<path d="M475.30 238.55 L476.74 241.19 L473.86 241.19Z" fill="#0000ff"/>
<path d="M484.60 238.82 L486.04 241.46 L483.16 241.46Z" fill="#0000ff"/>
<path d="M490.04 238.95 L491.48 241.59 L488.60 241.59Z" fill="#0000ff"/>
<path d="M493.91 239.03 L495.35 241.67 L492.47 241.67Z" fill="#0000ff"/>
<path d="M496.90 239.09 L498.34 241.73 L495.46 241.73Z" fill="#0000ff"/>
<path d="M506.20 239.24 L507.64 241.88 L504.76 241.88Z" fill="#0000ff"/>
<path d="M515.50 239.33 L516.94 241.97 L514.06 241.97Z" fill="#0000ff"/>
<path d="M520.94 239.37 L522.38 242.01 L519.50 242.01Z" fill="#0000ff"/>
<path d="M524.81 239.38 L526.25 242.02 L523.37 242.02Z" fill="#0000ff"/>
<path d="M527.80 239.38 L529.24 242.02 L526.36 242.02Z" fill="#0000ff"/>
<path d="M404.20 221.80 L405.64 219.16 L402.76 219.16Z" fill="#ff00ff"/>
<path d="M413.50 222.40 L414.94 219.76 L412.06 219.76Z" fill="#ff00ff"/>
<path d="M422.80 222.95 L424.24 220.31 L421.36 220.31Z" fill="#ff00ff"/>
<path d="M428.24 223.25 L429.68 220.61 L426.80 220.61Z" fill="#ff00ff"/>
<path d="M432.11 223.46 L433.55 220.82 L430.67 220.82Z" fill="#ff00ff"/>
<path d="M435.10 223.61 L436.54 220.97 L433.66 220.97Z" fill="#ff00ff"/>
<path d="M444.40 224.05 L445.84 221.41 L442.96 221.41Z" fill="#ff00ff"/>
<path d="M453.70 224.45 L455.14 221.81 L452.26 221.81Z" fill="#ff00ff"/>
<path d="M459.14 224.66 L460.58 222.02 L457.70 222.02Z" fill="#ff00ff"/>
<path d="M463.01 224.80 L464.45 222.16 L461.57 222.16Z" fill="#ff00ff"/>
<path d="M466.00 224.90 L467.44 222.26 L464.56 222.26Z" fill="#ff00ff"/>
<path d="M475.30 225.19 L476.74 222.55 L473.86 222.55Z" fill="#ff00ff"/>
<path d="M484.60 225.43 L486.04 222.79 L483.16 222.79Z" fill="#ff00ff"/>
<path d="M490.04 225.55 L491.48 222.91 L488.60 222.91Z" fill="#ff00ff"/>
<path d="M493.91 225.62 L495.35 222.98 L492.47 222.98Z" fill="#ff00ff"/>
<path d="M496.90 225.68 L498.34 223.04 L495.46 223.04Z" fill="#ff00ff"/>
<path d="M506.20 225.81 L507.64 223.17 L504.76 223.17Z" fill="#ff00ff"/>
<path d="M515.50 225.90 L516.94 223.26 L514.06 223.26Z" fill="#ff00ff"/>
<path d="M520.94 225.92 L522.38 223.28 L519.50 223.28Z" fill="#ff00ff"/>
<path d="M524.81 225.93 L526.25 223.29 L523.37 223.29Z" fill="#ff00ff"/>
<path d="M527.80 225.94 L529.24 223.30 L526.36 223.30Z" fill="#ff00ff"/>
<circle cx="404.20" cy="200.56" r="1.26" fill="#008000"/>
<circle cx="413.50" cy="201.20" r="1.26" fill="#008000"/>
<circle cx="422.80" cy="201.78" r="1.26" fill="#008000"/>
<circle cx="428.24" cy="202.11" r="1.26" fill="#008000"/>
<circle cx="432.11" cy="202.32" r="1.26" fill="#008000"/>
<circle cx="435.10" cy="202.48" r="1.26" fill="#008000"/>
<circle cx="444.40" cy="202.96" r="1.26" fill="#008000"/>
<circle cx="453.70" cy="203.38" r="1.26" fill="#008000"/>
<circle cx="459.14" cy="203.60" r="1.26" fill="#008000"/>
<circle cx="463.01" cy="203.75" r="1.26" fill="#008000"/>
<circle cx="466.00" cy="203.86" r="1.26" fill="#008000"/>
<circle cx="475.30" cy="204.17" r="1.26" fill="#008000"/>
<circle cx="484.60" cy="204.42" r="1.26" fill="#008000"/>
<circle cx="490.04" cy="204.55" r="1.26" fill="#008000"/>
<circle cx="493.91" cy="204.63" r="1.26" fill="#008000"/>
<circle cx="496.90" cy="204.69" r="1.26" fill="#008000"/>
<circle cx="506.20" cy="204.83" r="1.26" fill="#008000"/>
<circle cx="515.50" cy="204.92" r="1.26" fill="#008000"/>
<circle cx="520.94" cy="204.95" r="1.26" fill="#008000"/>
<circle cx="524.81" cy="204.96" r="1.26" fill="#008000"/>
<circle cx="527.80" cy="204.96" r="1.26" fill="#008000"/>
<circle cx="423.7" cy="164.7" r="1.1" fill="#000"/>
<text x="429.60" y="166.60" font-size="5.6" text-anchor="start" fill="#000" stroke="#000" stroke-width="0.3" >PEN/BT@PANI 0</text>
<circle cx="479.9" cy="164.7" r="1.1" fill="#ff0000"/>
<text x="485.80" y="166.60" font-size="5.6" text-anchor="start" fill="#ff0000" stroke="#ff0000" stroke-width="0.3" >PEN/BT@PANI 5</text>
<circle cx="423.7" cy="172.4" r="1.1" fill="#0000ff"/>
<text x="429.60" y="174.30" font-size="5.6" text-anchor="start" fill="#0000ff" stroke="#0000ff" stroke-width="0.3" >PEN/BT@PANI 10</text>
<circle cx="479.9" cy="172.4" r="1.1" fill="#ff00ff"/>
<text x="485.80" y="174.30" font-size="5.6" text-anchor="start" fill="#ff00ff" stroke="#ff00ff" stroke-width="0.3" >PEN/BT@PANI 20</text>
<circle cx="423.7" cy="180.9" r="1.1" fill="#008000"/>
<text x="429.60" y="182.80" font-size="5.6" text-anchor="start" fill="#008000" stroke="#008000" stroke-width="0.3" >PEN/BT@PANI 40</text>
</svg>
</body></html>
